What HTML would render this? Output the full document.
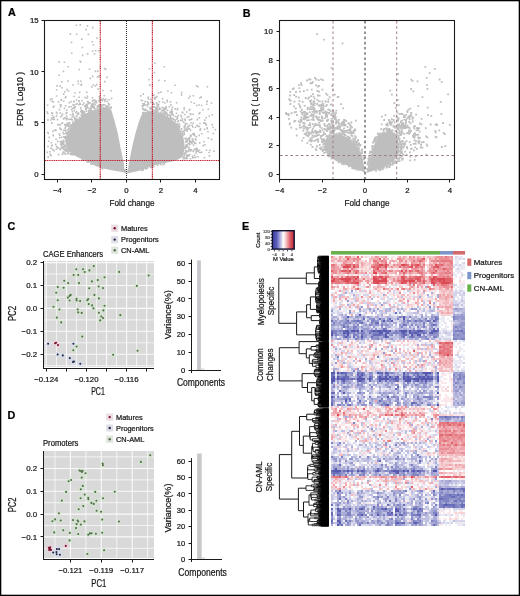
<!DOCTYPE html>
<html><head><meta charset="utf-8"><style>
html,body{margin:0;padding:0;background:#fff;overflow:hidden;}
svg{display:block;will-change:transform;}
text{font-family:"Liberation Sans",sans-serif;stroke-width:0.22px;}
</style></head><body>
<svg width="520" height="596" viewBox="0 0 520 596">
<rect x="0" y="0" width="520" height="596" fill="#fff"/>
<rect x="0.5" y="0.5" width="519" height="595" fill="none" stroke="#000" stroke-width="1.6"/>
<polygon points="126.0,173.5 123.6,172.2 113.2,170.5 104.6,168.7 95.9,166.2 87.3,161.0 82.0,159.2 73.4,154.9 68.2,150.6 65.6,143.7 66.5,136.7 70.0,128.0 76.0,121.0 83.0,115.0 90.7,111.0 99.4,108.5 105.0,107.5 109.0,108.0 111.3,110.0 114.8,121.7 117.8,133.5 120.1,145.2 122.4,157.0 123.8,163.0 124.2,168.8 126.0,169.0" fill="#bebebe"/>
<polygon points="127.0,173.5 127.6,169.0 128.2,168.8 128.9,162.8 130.1,157.0 132.5,145.2 135.4,133.5 138.9,121.7 141.5,115.0 145.0,112.0 149.0,111.0 156.0,111.5 163.0,114.0 170.0,118.0 176.0,123.0 180.0,129.0 183.5,138.0 185.0,148.0 182.5,157.0 176.0,160.4 165.0,163.0 152.7,166.0 139.2,170.8" fill="#bebebe"/>
<path d="M97.0 106.2h1.6v1.6h-1.6zM77.8 113.4h1.6v1.6h-1.6zM81.3 100.0h1.6v1.6h-1.6zM98.7 99.0h1.6v1.6h-1.6zM81.5 158.8h1.6v1.6h-1.6zM98.0 104.3h1.6v1.6h-1.6zM65.2 112.6h1.6v1.6h-1.6zM94.4 85.2h1.6v1.6h-1.6zM102.9 106.8h1.6v1.6h-1.6zM53.0 105.6h1.6v1.6h-1.6zM91.6 97.0h1.6v1.6h-1.6zM93.5 106.0h1.6v1.6h-1.6zM105.2 106.2h1.6v1.6h-1.6zM99.9 106.4h1.6v1.6h-1.6zM57.8 153.8h1.6v1.6h-1.6zM91.6 105.5h1.6v1.6h-1.6zM51.4 98.0h1.6v1.6h-1.6zM61.8 113.4h1.6v1.6h-1.6zM95.8 101.9h1.6v1.6h-1.6zM52.7 116.3h1.6v1.6h-1.6zM57.2 123.9h1.6v1.6h-1.6zM103.5 98.8h1.6v1.6h-1.6zM50.9 112.3h1.6v1.6h-1.6zM65.4 129.8h1.6v1.6h-1.6zM67.3 152.1h1.6v1.6h-1.6zM61.8 122.2h1.6v1.6h-1.6zM55.8 88.9h1.6v1.6h-1.6zM70.2 125.0h1.6v1.6h-1.6zM101.5 99.8h1.6v1.6h-1.6zM62.6 139.7h1.6v1.6h-1.6zM95.9 83.8h1.6v1.6h-1.6zM80.0 61.2h1.6v1.6h-1.6zM62.7 145.5h1.6v1.6h-1.6zM67.2 80.3h1.6v1.6h-1.6zM85.3 108.4h1.6v1.6h-1.6zM81.3 114.4h1.6v1.6h-1.6zM101.7 167.3h1.6v1.6h-1.6zM82.1 113.6h1.6v1.6h-1.6zM76.2 114.7h1.6v1.6h-1.6zM85.2 105.2h1.6v1.6h-1.6zM104.2 100.6h1.6v1.6h-1.6zM86.4 161.3h1.6v1.6h-1.6zM83.3 113.5h1.6v1.6h-1.6zM68.2 124.4h1.6v1.6h-1.6zM65.1 146.6h1.6v1.6h-1.6zM59.3 85.3h1.6v1.6h-1.6zM50.9 144.9h1.6v1.6h-1.6zM72.4 154.0h1.6v1.6h-1.6zM91.8 50.4h1.6v1.6h-1.6zM80.2 84.3h1.6v1.6h-1.6zM72.1 113.0h1.6v1.6h-1.6zM86.8 53.1h1.6v1.6h-1.6zM110.4 107.1h1.6v1.6h-1.6zM77.5 82.9h1.6v1.6h-1.6zM53.5 116.7h1.6v1.6h-1.6zM78.9 91.5h1.6v1.6h-1.6zM60.8 136.4h1.6v1.6h-1.6zM74.9 120.6h1.6v1.6h-1.6zM50.2 147.5h1.6v1.6h-1.6zM96.4 107.5h1.6v1.6h-1.6zM47.4 156.3h1.6v1.6h-1.6zM66.3 149.0h1.6v1.6h-1.6zM102.9 104.1h1.6v1.6h-1.6zM55.7 115.3h1.6v1.6h-1.6zM64.1 129.7h1.6v1.6h-1.6zM70.7 125.3h1.6v1.6h-1.6zM76.2 118.3h1.6v1.6h-1.6zM79.5 24.1h1.6v1.6h-1.6zM63.6 61.4h1.6v1.6h-1.6zM65.7 147.5h1.6v1.6h-1.6zM97.5 105.8h1.6v1.6h-1.6zM83.0 102.5h1.6v1.6h-1.6zM47.0 131.7h1.6v1.6h-1.6zM64.0 123.8h1.6v1.6h-1.6zM79.1 102.4h1.6v1.6h-1.6zM71.2 153.9h1.6v1.6h-1.6zM105.4 106.6h1.6v1.6h-1.6zM60.3 128.6h1.6v1.6h-1.6zM85.5 107.8h1.6v1.6h-1.6zM74.5 106.1h1.6v1.6h-1.6zM65.2 138.4h1.6v1.6h-1.6zM92.1 103.0h1.6v1.6h-1.6zM69.7 153.3h1.6v1.6h-1.6zM67.1 131.9h1.6v1.6h-1.6zM67.9 128.2h1.6v1.6h-1.6zM84.7 108.3h1.6v1.6h-1.6zM86.9 100.8h1.6v1.6h-1.6zM55.6 111.5h1.6v1.6h-1.6zM73.2 95.7h1.6v1.6h-1.6zM66.3 88.8h1.6v1.6h-1.6zM88.7 68.5h1.6v1.6h-1.6zM77.8 112.2h1.6v1.6h-1.6zM68.1 128.1h1.6v1.6h-1.6zM68.8 125.7h1.6v1.6h-1.6zM91.5 41.0h1.6v1.6h-1.6zM81.4 112.5h1.6v1.6h-1.6zM62.4 142.4h1.6v1.6h-1.6zM65.1 95.9h1.6v1.6h-1.6zM55.7 145.7h1.6v1.6h-1.6zM50.6 141.9h1.6v1.6h-1.6zM66.9 122.6h1.6v1.6h-1.6zM61.9 145.7h1.6v1.6h-1.6zM47.6 132.6h1.6v1.6h-1.6zM65.6 132.4h1.6v1.6h-1.6zM85.4 110.5h1.6v1.6h-1.6zM66.0 124.7h1.6v1.6h-1.6zM109.3 106.5h1.6v1.6h-1.6zM90.3 107.9h1.6v1.6h-1.6zM65.8 115.4h1.6v1.6h-1.6zM51.1 122.3h1.6v1.6h-1.6zM80.8 83.4h1.6v1.6h-1.6zM75.9 115.0h1.6v1.6h-1.6zM105.6 105.1h1.6v1.6h-1.6zM81.6 46.7h1.6v1.6h-1.6zM96.3 37.3h1.6v1.6h-1.6zM49.4 153.6h1.6v1.6h-1.6zM63.9 136.1h1.6v1.6h-1.6zM75.9 33.4h1.6v1.6h-1.6zM61.2 143.3h1.6v1.6h-1.6zM98.5 96.0h1.6v1.6h-1.6zM58.1 123.9h1.6v1.6h-1.6zM61.0 80.9h1.6v1.6h-1.6zM87.6 109.9h1.6v1.6h-1.6zM66.3 117.6h1.6v1.6h-1.6zM67.4 131.0h1.6v1.6h-1.6zM84.0 105.3h1.6v1.6h-1.6zM62.9 143.4h1.6v1.6h-1.6zM67.6 125.1h1.6v1.6h-1.6zM71.4 119.1h1.6v1.6h-1.6zM86.2 97.4h1.6v1.6h-1.6zM70.2 100.8h1.6v1.6h-1.6zM69.6 33.3h1.6v1.6h-1.6zM78.4 68.7h1.6v1.6h-1.6zM68.0 124.4h1.6v1.6h-1.6zM73.1 100.6h1.6v1.6h-1.6zM60.5 144.3h1.6v1.6h-1.6zM60.6 140.8h1.6v1.6h-1.6zM64.0 90.9h1.6v1.6h-1.6zM91.8 105.9h1.6v1.6h-1.6zM72.2 84.2h1.6v1.6h-1.6zM103.8 67.8h1.6v1.6h-1.6zM52.5 106.5h1.6v1.6h-1.6zM81.6 158.9h1.6v1.6h-1.6zM52.1 118.4h1.6v1.6h-1.6zM62.8 129.4h1.6v1.6h-1.6zM72.0 122.8h1.6v1.6h-1.6zM47.8 140.4h1.6v1.6h-1.6zM63.6 117.1h1.6v1.6h-1.6zM105.7 105.4h1.6v1.6h-1.6zM72.9 116.2h1.6v1.6h-1.6zM97.9 49.9h1.6v1.6h-1.6zM72.6 114.4h1.6v1.6h-1.6zM60.0 115.9h1.6v1.6h-1.6zM80.7 109.2h1.6v1.6h-1.6zM70.3 105.9h1.6v1.6h-1.6zM80.8 112.2h1.6v1.6h-1.6zM70.3 125.3h1.6v1.6h-1.6zM70.2 118.3h1.6v1.6h-1.6zM58.6 108.8h1.6v1.6h-1.6zM59.8 106.1h1.6v1.6h-1.6zM74.8 117.2h1.6v1.6h-1.6zM71.9 123.7h1.6v1.6h-1.6zM59.5 112.2h1.6v1.6h-1.6zM82.0 103.9h1.6v1.6h-1.6zM70.3 124.0h1.6v1.6h-1.6zM92.1 100.0h1.6v1.6h-1.6zM67.7 125.5h1.6v1.6h-1.6zM90.5 109.8h1.6v1.6h-1.6zM72.3 104.2h1.6v1.6h-1.6zM95.2 101.0h1.6v1.6h-1.6zM46.2 111.2h1.6v1.6h-1.6zM78.2 104.0h1.6v1.6h-1.6zM68.7 122.0h1.6v1.6h-1.6zM91.7 100.1h1.6v1.6h-1.6zM81.4 110.2h1.6v1.6h-1.6zM67.7 124.2h1.6v1.6h-1.6zM92.5 84.0h1.6v1.6h-1.6zM78.3 99.9h1.6v1.6h-1.6zM56.3 85.1h1.6v1.6h-1.6zM57.0 123.8h1.6v1.6h-1.6zM107.6 102.6h1.6v1.6h-1.6zM90.0 163.2h1.6v1.6h-1.6zM65.8 118.8h1.6v1.6h-1.6zM63.6 150.0h1.6v1.6h-1.6zM105.0 98.5h1.6v1.6h-1.6zM72.3 121.3h1.6v1.6h-1.6zM100.1 104.0h1.6v1.6h-1.6zM97.9 75.4h1.6v1.6h-1.6zM92.3 106.6h1.6v1.6h-1.6zM110.3 90.0h1.6v1.6h-1.6zM108.6 103.6h1.6v1.6h-1.6zM66.4 133.5h1.6v1.6h-1.6zM59.2 124.2h1.6v1.6h-1.6zM55.2 129.6h1.6v1.6h-1.6zM53.1 105.4h1.6v1.6h-1.6zM73.7 105.8h1.6v1.6h-1.6zM52.0 130.6h1.6v1.6h-1.6zM101.3 167.7h1.6v1.6h-1.6zM68.3 125.7h1.6v1.6h-1.6zM68.1 118.5h1.6v1.6h-1.6zM97.1 104.9h1.6v1.6h-1.6zM68.4 122.2h1.6v1.6h-1.6zM64.8 126.1h1.6v1.6h-1.6zM50.3 154.8h1.6v1.6h-1.6zM90.1 106.4h1.6v1.6h-1.6zM98.4 106.7h1.6v1.6h-1.6zM81.7 159.3h1.6v1.6h-1.6zM73.6 109.8h1.6v1.6h-1.6zM67.8 123.1h1.6v1.6h-1.6zM78.2 100.7h1.6v1.6h-1.6zM94.8 49.9h1.6v1.6h-1.6zM53.5 150.0h1.6v1.6h-1.6zM103.7 104.0h1.6v1.6h-1.6zM70.9 108.8h1.6v1.6h-1.6zM59.1 127.3h1.6v1.6h-1.6zM83.9 159.7h1.6v1.6h-1.6zM64.4 96.9h1.6v1.6h-1.6zM72.2 107.6h1.6v1.6h-1.6zM59.4 141.0h1.6v1.6h-1.6zM72.9 100.9h1.6v1.6h-1.6zM86.8 106.6h1.6v1.6h-1.6zM64.5 140.2h1.6v1.6h-1.6zM60.5 104.2h1.6v1.6h-1.6zM63.0 135.9h1.6v1.6h-1.6zM56.9 140.6h1.6v1.6h-1.6zM110.8 97.6h1.6v1.6h-1.6zM82.4 110.4h1.6v1.6h-1.6zM77.2 80.5h1.6v1.6h-1.6zM73.5 121.9h1.6v1.6h-1.6zM94.2 108.2h1.6v1.6h-1.6zM62.2 131.8h1.6v1.6h-1.6zM60.5 142.9h1.6v1.6h-1.6zM106.4 100.5h1.6v1.6h-1.6zM66.7 149.4h1.6v1.6h-1.6zM62.8 118.1h1.6v1.6h-1.6zM86.0 91.4h1.6v1.6h-1.6zM60.5 146.5h1.6v1.6h-1.6zM63.6 107.6h1.6v1.6h-1.6zM51.2 117.2h1.6v1.6h-1.6zM89.5 77.6h1.6v1.6h-1.6zM65.0 137.4h1.6v1.6h-1.6zM58.9 137.0h1.6v1.6h-1.6zM101.8 167.8h1.6v1.6h-1.6zM69.4 152.7h1.6v1.6h-1.6zM67.1 152.8h1.6v1.6h-1.6zM75.9 115.3h1.6v1.6h-1.6zM86.7 95.6h1.6v1.6h-1.6zM66.0 150.5h1.6v1.6h-1.6zM84.7 106.0h1.6v1.6h-1.6zM68.5 101.9h1.6v1.6h-1.6zM63.0 146.9h1.6v1.6h-1.6zM93.9 107.7h1.6v1.6h-1.6zM98.7 96.3h1.6v1.6h-1.6zM84.4 96.8h1.6v1.6h-1.6zM90.8 103.6h1.6v1.6h-1.6zM59.6 104.1h1.6v1.6h-1.6zM63.0 141.7h1.6v1.6h-1.6zM97.5 88.3h1.6v1.6h-1.6zM51.2 144.9h1.6v1.6h-1.6zM70.7 41.6h1.6v1.6h-1.6zM70.9 52.4h1.6v1.6h-1.6zM65.0 150.0h1.6v1.6h-1.6zM80.0 80.4h1.6v1.6h-1.6zM109.1 106.9h1.6v1.6h-1.6zM52.5 134.9h1.6v1.6h-1.6zM89.1 102.1h1.6v1.6h-1.6zM49.1 151.0h1.6v1.6h-1.6zM58.3 61.1h1.6v1.6h-1.6zM56.4 146.4h1.6v1.6h-1.6zM49.7 98.8h1.6v1.6h-1.6zM87.5 161.3h1.6v1.6h-1.6zM95.1 100.1h1.6v1.6h-1.6zM85.2 104.3h1.6v1.6h-1.6zM108.4 98.9h1.6v1.6h-1.6zM105.4 104.9h1.6v1.6h-1.6zM65.4 150.1h1.6v1.6h-1.6zM60.7 141.9h1.6v1.6h-1.6zM98.9 105.6h1.6v1.6h-1.6zM71.7 110.9h1.6v1.6h-1.6zM82.2 111.5h1.6v1.6h-1.6zM80.1 110.7h1.6v1.6h-1.6zM93.5 106.3h1.6v1.6h-1.6zM64.8 104.9h1.6v1.6h-1.6zM98.2 100.3h1.6v1.6h-1.6zM98.8 104.4h1.6v1.6h-1.6zM56.7 118.8h1.6v1.6h-1.6zM65.9 109.4h1.6v1.6h-1.6zM48.5 136.6h1.6v1.6h-1.6zM65.5 135.6h1.6v1.6h-1.6zM104.0 80.8h1.6v1.6h-1.6zM81.0 38.3h1.6v1.6h-1.6zM60.8 141.2h1.6v1.6h-1.6zM77.1 112.6h1.6v1.6h-1.6zM85.7 107.1h1.6v1.6h-1.6zM51.5 144.5h1.6v1.6h-1.6zM92.3 104.8h1.6v1.6h-1.6zM74.0 118.7h1.6v1.6h-1.6zM100.0 99.1h1.6v1.6h-1.6zM65.2 132.6h1.6v1.6h-1.6zM61.7 141.2h1.6v1.6h-1.6zM66.5 122.4h1.6v1.6h-1.6zM68.8 126.3h1.6v1.6h-1.6zM74.3 120.0h1.6v1.6h-1.6zM73.9 117.3h1.6v1.6h-1.6zM85.7 106.2h1.6v1.6h-1.6zM69.9 114.0h1.6v1.6h-1.6zM82.2 159.1h1.6v1.6h-1.6zM105.0 68.4h1.6v1.6h-1.6zM60.6 98.8h1.6v1.6h-1.6zM91.7 102.8h1.6v1.6h-1.6zM64.7 136.6h1.6v1.6h-1.6zM57.4 147.1h1.6v1.6h-1.6zM60.4 99.4h1.6v1.6h-1.6zM61.0 114.8h1.6v1.6h-1.6zM107.0 106.8h1.6v1.6h-1.6zM100.0 104.9h1.6v1.6h-1.6zM55.8 95.2h1.6v1.6h-1.6zM66.0 111.8h1.6v1.6h-1.6zM71.5 116.2h1.6v1.6h-1.6zM94.6 70.6h1.6v1.6h-1.6zM63.9 152.2h1.6v1.6h-1.6zM71.8 124.1h1.6v1.6h-1.6zM75.8 99.2h1.6v1.6h-1.6zM108.0 103.8h1.6v1.6h-1.6zM63.2 133.2h1.6v1.6h-1.6zM56.2 112.7h1.6v1.6h-1.6zM75.8 110.8h1.6v1.6h-1.6zM62.9 100.5h1.6v1.6h-1.6zM62.4 151.5h1.6v1.6h-1.6zM75.6 24.5h1.6v1.6h-1.6zM60.7 142.5h1.6v1.6h-1.6zM89.2 110.1h1.6v1.6h-1.6zM64.2 149.6h1.6v1.6h-1.6zM78.3 96.4h1.6v1.6h-1.6zM67.8 90.2h1.6v1.6h-1.6zM75.7 119.2h1.6v1.6h-1.6zM87.6 103.0h1.6v1.6h-1.6zM64.3 127.6h1.6v1.6h-1.6zM91.8 75.6h1.6v1.6h-1.6zM80.2 114.5h1.6v1.6h-1.6zM102.2 89.7h1.6v1.6h-1.6zM62.9 93.3h1.6v1.6h-1.6zM82.5 112.8h1.6v1.6h-1.6zM54.9 143.6h1.6v1.6h-1.6zM71.1 153.0h1.6v1.6h-1.6zM91.1 86.1h1.6v1.6h-1.6zM69.1 122.0h1.6v1.6h-1.6zM102.2 98.0h1.6v1.6h-1.6zM79.3 60.4h1.6v1.6h-1.6zM107.1 105.4h1.6v1.6h-1.6zM59.5 149.0h1.6v1.6h-1.6zM81.4 111.3h1.6v1.6h-1.6zM73.2 103.9h1.6v1.6h-1.6zM50.1 119.2h1.6v1.6h-1.6zM74.8 119.8h1.6v1.6h-1.6zM67.5 122.8h1.6v1.6h-1.6zM64.6 153.3h1.6v1.6h-1.6zM59.0 134.6h1.6v1.6h-1.6zM72.1 113.9h1.6v1.6h-1.6zM61.4 147.6h1.6v1.6h-1.6zM61.6 153.6h1.6v1.6h-1.6zM99.3 107.4h1.6v1.6h-1.6zM92.6 44.2h1.6v1.6h-1.6zM67.0 129.2h1.6v1.6h-1.6zM101.9 104.3h1.6v1.6h-1.6zM57.7 101.1h1.6v1.6h-1.6zM64.5 149.8h1.6v1.6h-1.6zM81.9 54.6h1.6v1.6h-1.6zM94.5 103.9h1.6v1.6h-1.6zM52.1 148.9h1.6v1.6h-1.6zM63.5 146.0h1.6v1.6h-1.6zM55.6 148.5h1.6v1.6h-1.6zM98.5 105.2h1.6v1.6h-1.6zM94.1 99.6h1.6v1.6h-1.6zM94.3 103.5h1.6v1.6h-1.6zM101.0 106.9h1.6v1.6h-1.6zM86.3 104.9h1.6v1.6h-1.6zM59.8 128.3h1.6v1.6h-1.6zM75.8 115.3h1.6v1.6h-1.6zM63.8 144.5h1.6v1.6h-1.6zM88.5 107.8h1.6v1.6h-1.6zM96.9 70.3h1.6v1.6h-1.6zM53.6 118.7h1.6v1.6h-1.6zM47.2 119.1h1.6v1.6h-1.6zM92.9 99.3h1.6v1.6h-1.6zM46.8 104.5h1.6v1.6h-1.6zM58.3 74.5h1.6v1.6h-1.6zM68.1 106.1h1.6v1.6h-1.6zM50.9 147.7h1.6v1.6h-1.6zM51.0 122.2h1.6v1.6h-1.6zM82.5 111.0h1.6v1.6h-1.6zM80.0 107.1h1.6v1.6h-1.6zM87.7 110.5h1.6v1.6h-1.6zM96.5 105.2h1.6v1.6h-1.6zM51.7 114.4h1.6v1.6h-1.6zM93.7 101.7h1.6v1.6h-1.6zM47.2 145.6h1.6v1.6h-1.6zM80.5 109.5h1.6v1.6h-1.6zM93.6 107.7h1.6v1.6h-1.6zM93.7 53.1h1.6v1.6h-1.6zM64.9 125.0h1.6v1.6h-1.6zM61.2 86.9h1.6v1.6h-1.6zM64.9 148.2h1.6v1.6h-1.6zM47.0 112.7h1.6v1.6h-1.6zM87.6 33.6h1.6v1.6h-1.6zM65.2 117.6h1.6v1.6h-1.6zM53.9 129.3h1.6v1.6h-1.6zM46.4 151.4h1.6v1.6h-1.6zM65.1 131.9h1.6v1.6h-1.6zM76.3 102.9h1.6v1.6h-1.6zM74.2 92.2h1.6v1.6h-1.6zM66.8 149.5h1.6v1.6h-1.6zM66.8 152.7h1.6v1.6h-1.6zM63.6 137.1h1.6v1.6h-1.6zM74.5 119.4h1.6v1.6h-1.6zM96.7 76.1h1.6v1.6h-1.6zM59.2 147.9h1.6v1.6h-1.6zM61.9 153.0h1.6v1.6h-1.6zM61.3 140.6h1.6v1.6h-1.6zM86.7 25.1h1.6v1.6h-1.6zM51.7 112.4h1.6v1.6h-1.6zM62.3 140.0h1.6v1.6h-1.6zM52.6 101.2h1.6v1.6h-1.6zM110.2 106.2h1.6v1.6h-1.6zM90.6 104.8h1.6v1.6h-1.6zM75.1 112.0h1.6v1.6h-1.6zM87.1 101.1h1.6v1.6h-1.6zM62.7 70.6h1.6v1.6h-1.6zM60.0 143.3h1.6v1.6h-1.6zM83.8 112.3h1.6v1.6h-1.6zM91.1 163.4h1.6v1.6h-1.6zM55.3 138.5h1.6v1.6h-1.6zM79.6 103.5h1.6v1.6h-1.6zM83.4 110.9h1.6v1.6h-1.6zM78.6 116.7h1.6v1.6h-1.6zM75.3 103.4h1.6v1.6h-1.6zM67.8 150.7h1.6v1.6h-1.6zM73.7 107.3h1.6v1.6h-1.6zM103.5 95.0h1.6v1.6h-1.6zM92.4 104.1h1.6v1.6h-1.6zM65.8 124.1h1.6v1.6h-1.6zM51.5 100.6h1.6v1.6h-1.6zM69.3 118.7h1.6v1.6h-1.6zM52.4 134.2h1.6v1.6h-1.6zM106.1 76.6h1.6v1.6h-1.6zM51.0 117.4h1.6v1.6h-1.6zM63.0 148.1h1.6v1.6h-1.6zM92.0 26.8h1.6v1.6h-1.6zM65.1 144.7h1.6v1.6h-1.6zM100.5 98.8h1.6v1.6h-1.6zM86.3 103.4h1.6v1.6h-1.6zM89.2 109.1h1.6v1.6h-1.6zM58.5 133.2h1.6v1.6h-1.6zM60.7 122.7h1.6v1.6h-1.6zM87.7 101.7h1.6v1.6h-1.6zM92.1 106.6h1.6v1.6h-1.6zM70.5 118.2h1.6v1.6h-1.6zM101.0 105.7h1.6v1.6h-1.6zM85.3 28.8h1.6v1.6h-1.6zM98.9 97.7h1.6v1.6h-1.6zM67.3 65.9h1.6v1.6h-1.6zM205.6 124.4h1.6v1.6h-1.6zM189.7 157.9h1.6v1.6h-1.6zM156.1 95.8h1.6v1.6h-1.6zM211.5 113.9h1.6v1.6h-1.6zM168.1 114.2h1.6v1.6h-1.6zM144.6 109.1h1.6v1.6h-1.6zM190.5 141.3h1.6v1.6h-1.6zM157.0 105.6h1.6v1.6h-1.6zM190.5 101.2h1.6v1.6h-1.6zM178.8 125.2h1.6v1.6h-1.6zM142.2 113.1h1.6v1.6h-1.6zM169.3 112.2h1.6v1.6h-1.6zM190.2 149.4h1.6v1.6h-1.6zM162.1 101.2h1.6v1.6h-1.6zM181.1 119.7h1.6v1.6h-1.6zM182.2 134.7h1.6v1.6h-1.6zM183.4 126.1h1.6v1.6h-1.6zM191.3 124.6h1.6v1.6h-1.6zM185.5 150.5h1.6v1.6h-1.6zM178.6 126.5h1.6v1.6h-1.6zM176.8 123.4h1.6v1.6h-1.6zM179.9 114.6h1.6v1.6h-1.6zM195.7 136.0h1.6v1.6h-1.6zM207.5 137.3h1.6v1.6h-1.6zM154.1 98.5h1.6v1.6h-1.6zM170.2 117.8h1.6v1.6h-1.6zM166.4 99.4h1.6v1.6h-1.6zM161.8 97.9h1.6v1.6h-1.6zM185.9 146.0h1.6v1.6h-1.6zM186.3 144.2h1.6v1.6h-1.6zM196.8 150.5h1.6v1.6h-1.6zM183.4 156.7h1.6v1.6h-1.6zM157.0 164.2h1.6v1.6h-1.6zM150.8 166.6h1.6v1.6h-1.6zM153.5 103.4h1.6v1.6h-1.6zM187.9 97.4h1.6v1.6h-1.6zM171.0 117.5h1.6v1.6h-1.6zM192.0 157.0h1.6v1.6h-1.6zM197.2 125.5h1.6v1.6h-1.6zM185.8 127.4h1.6v1.6h-1.6zM155.1 108.5h1.6v1.6h-1.6zM196.5 148.1h1.6v1.6h-1.6zM196.1 148.3h1.6v1.6h-1.6zM194.6 138.1h1.6v1.6h-1.6zM206.3 126.9h1.6v1.6h-1.6zM159.3 108.3h1.6v1.6h-1.6zM186.6 116.6h1.6v1.6h-1.6zM194.0 148.4h1.6v1.6h-1.6zM187.9 148.7h1.6v1.6h-1.6zM153.0 94.3h1.6v1.6h-1.6zM179.9 119.4h1.6v1.6h-1.6zM153.5 71.7h1.6v1.6h-1.6zM142.4 169.1h1.6v1.6h-1.6zM192.8 144.3h1.6v1.6h-1.6zM192.6 133.9h1.6v1.6h-1.6zM189.9 150.2h1.6v1.6h-1.6zM162.6 108.8h1.6v1.6h-1.6zM214.6 128.8h1.6v1.6h-1.6zM166.6 115.3h1.6v1.6h-1.6zM188.0 125.3h1.6v1.6h-1.6zM180.7 115.8h1.6v1.6h-1.6zM181.1 130.7h1.6v1.6h-1.6zM155.9 108.9h1.6v1.6h-1.6zM157.7 108.8h1.6v1.6h-1.6zM164.3 113.5h1.6v1.6h-1.6zM184.1 113.7h1.6v1.6h-1.6zM151.2 107.7h1.6v1.6h-1.6zM164.0 80.0h1.6v1.6h-1.6zM188.4 127.8h1.6v1.6h-1.6zM197.5 150.6h1.6v1.6h-1.6zM188.5 137.2h1.6v1.6h-1.6zM167.9 114.5h1.6v1.6h-1.6zM147.5 96.5h1.6v1.6h-1.6zM190.2 121.9h1.6v1.6h-1.6zM155.1 110.6h1.6v1.6h-1.6zM190.5 148.9h1.6v1.6h-1.6zM195.4 152.3h1.6v1.6h-1.6zM161.5 112.3h1.6v1.6h-1.6zM163.7 110.4h1.6v1.6h-1.6zM184.7 151.5h1.6v1.6h-1.6zM152.4 101.8h1.6v1.6h-1.6zM150.3 106.4h1.6v1.6h-1.6zM181.4 132.6h1.6v1.6h-1.6zM141.9 112.1h1.6v1.6h-1.6zM187.8 150.6h1.6v1.6h-1.6zM195.8 148.9h1.6v1.6h-1.6zM188.7 138.8h1.6v1.6h-1.6zM198.6 149.4h1.6v1.6h-1.6zM152.9 166.0h1.6v1.6h-1.6zM202.6 144.8h1.6v1.6h-1.6zM213.2 150.3h1.6v1.6h-1.6zM174.1 119.2h1.6v1.6h-1.6zM178.9 125.2h1.6v1.6h-1.6zM169.8 114.8h1.6v1.6h-1.6zM195.3 150.4h1.6v1.6h-1.6zM142.7 108.7h1.6v1.6h-1.6zM204.0 122.1h1.6v1.6h-1.6zM184.6 146.7h1.6v1.6h-1.6zM206.0 100.9h1.6v1.6h-1.6zM165.2 107.9h1.6v1.6h-1.6zM188.6 109.4h1.6v1.6h-1.6zM165.1 106.9h1.6v1.6h-1.6zM166.5 100.8h1.6v1.6h-1.6zM169.5 115.6h1.6v1.6h-1.6zM159.5 111.6h1.6v1.6h-1.6zM149.6 98.7h1.6v1.6h-1.6zM148.6 68.0h1.6v1.6h-1.6zM158.5 100.8h1.6v1.6h-1.6zM177.6 124.7h1.6v1.6h-1.6zM146.5 109.7h1.6v1.6h-1.6zM163.5 65.9h1.6v1.6h-1.6zM195.4 147.5h1.6v1.6h-1.6zM187.9 115.7h1.6v1.6h-1.6zM169.8 110.8h1.6v1.6h-1.6zM210.8 138.6h1.6v1.6h-1.6zM203.2 140.9h1.6v1.6h-1.6zM204.0 119.3h1.6v1.6h-1.6zM198.3 104.2h1.6v1.6h-1.6zM186.4 157.7h1.6v1.6h-1.6zM151.9 109.3h1.6v1.6h-1.6zM185.7 144.0h1.6v1.6h-1.6zM142.9 111.7h1.6v1.6h-1.6zM194.0 142.3h1.6v1.6h-1.6zM170.9 108.4h1.6v1.6h-1.6zM200.9 151.5h1.6v1.6h-1.6zM146.3 110.0h1.6v1.6h-1.6zM202.8 122.2h1.6v1.6h-1.6zM174.0 119.1h1.6v1.6h-1.6zM140.0 95.1h1.6v1.6h-1.6zM150.2 107.9h1.6v1.6h-1.6zM173.1 114.9h1.6v1.6h-1.6zM210.7 102.2h1.6v1.6h-1.6zM189.0 141.4h1.6v1.6h-1.6zM185.0 141.5h1.6v1.6h-1.6zM185.3 144.6h1.6v1.6h-1.6zM146.7 105.6h1.6v1.6h-1.6zM188.8 148.8h1.6v1.6h-1.6zM158.1 79.6h1.6v1.6h-1.6zM208.3 151.7h1.6v1.6h-1.6zM154.8 97.0h1.6v1.6h-1.6zM199.1 96.9h1.6v1.6h-1.6zM186.8 145.8h1.6v1.6h-1.6zM188.8 127.8h1.6v1.6h-1.6zM164.0 102.2h1.6v1.6h-1.6zM189.0 153.9h1.6v1.6h-1.6zM199.0 112.1h1.6v1.6h-1.6zM199.2 122.7h1.6v1.6h-1.6zM171.0 113.8h1.6v1.6h-1.6zM192.3 113.4h1.6v1.6h-1.6zM181.5 119.8h1.6v1.6h-1.6zM175.8 101.9h1.6v1.6h-1.6zM156.2 108.0h1.6v1.6h-1.6zM212.5 132.7h1.6v1.6h-1.6zM154.9 107.1h1.6v1.6h-1.6zM199.7 127.9h1.6v1.6h-1.6zM170.1 104.1h1.6v1.6h-1.6zM181.5 111.4h1.6v1.6h-1.6zM147.3 101.8h1.6v1.6h-1.6zM203.6 156.8h1.6v1.6h-1.6zM190.4 134.8h1.6v1.6h-1.6zM205.7 149.4h1.6v1.6h-1.6zM202.2 109.0h1.6v1.6h-1.6zM190.0 140.4h1.6v1.6h-1.6zM194.7 126.5h1.6v1.6h-1.6zM195.7 85.1h1.6v1.6h-1.6zM212.2 126.7h1.6v1.6h-1.6zM143.4 102.9h1.6v1.6h-1.6zM160.1 91.3h1.6v1.6h-1.6zM164.3 112.6h1.6v1.6h-1.6zM154.9 109.7h1.6v1.6h-1.6zM162.8 112.6h1.6v1.6h-1.6zM147.8 103.3h1.6v1.6h-1.6zM165.0 112.6h1.6v1.6h-1.6zM192.3 122.5h1.6v1.6h-1.6zM161.4 106.7h1.6v1.6h-1.6zM186.9 128.5h1.6v1.6h-1.6zM170.5 111.9h1.6v1.6h-1.6zM176.8 123.0h1.6v1.6h-1.6zM185.3 145.8h1.6v1.6h-1.6zM166.8 109.6h1.6v1.6h-1.6zM192.4 139.5h1.6v1.6h-1.6zM164.2 111.9h1.6v1.6h-1.6zM189.5 112.9h1.6v1.6h-1.6zM184.4 124.4h1.6v1.6h-1.6zM155.8 102.0h1.6v1.6h-1.6zM156.9 110.8h1.6v1.6h-1.6zM189.0 143.8h1.6v1.6h-1.6zM193.4 134.0h1.6v1.6h-1.6zM196.3 124.6h1.6v1.6h-1.6zM195.1 139.2h1.6v1.6h-1.6zM174.4 120.4h1.6v1.6h-1.6zM211.4 123.8h1.6v1.6h-1.6zM146.6 101.0h1.6v1.6h-1.6zM171.2 111.7h1.6v1.6h-1.6zM208.5 115.2h1.6v1.6h-1.6zM184.2 128.8h1.6v1.6h-1.6zM208.6 155.1h1.6v1.6h-1.6zM149.1 84.3h1.6v1.6h-1.6zM193.9 141.9h1.6v1.6h-1.6zM193.1 156.7h1.6v1.6h-1.6zM143.6 109.3h1.6v1.6h-1.6zM192.2 133.1h1.6v1.6h-1.6zM183.9 153.6h1.6v1.6h-1.6zM188.7 119.1h1.6v1.6h-1.6zM141.4 105.0h1.6v1.6h-1.6zM195.0 142.7h1.6v1.6h-1.6zM154.2 96.6h1.6v1.6h-1.6zM166.5 113.9h1.6v1.6h-1.6zM141.6 99.9h1.6v1.6h-1.6zM178.6 123.2h1.6v1.6h-1.6zM189.7 136.0h1.6v1.6h-1.6zM172.4 118.5h1.6v1.6h-1.6zM180.9 91.8h1.6v1.6h-1.6zM194.2 134.9h1.6v1.6h-1.6zM147.5 98.0h1.6v1.6h-1.6zM142.4 108.3h1.6v1.6h-1.6zM187.5 138.1h1.6v1.6h-1.6zM209.0 149.5h1.6v1.6h-1.6zM183.9 129.6h1.6v1.6h-1.6zM184.7 137.4h1.6v1.6h-1.6zM171.4 111.1h1.6v1.6h-1.6zM184.3 137.9h1.6v1.6h-1.6zM206.0 103.5h1.6v1.6h-1.6zM163.5 109.6h1.6v1.6h-1.6zM197.3 155.9h1.6v1.6h-1.6zM146.3 103.7h1.6v1.6h-1.6zM184.6 122.8h1.6v1.6h-1.6zM187.5 142.8h1.6v1.6h-1.6zM184.1 125.9h1.6v1.6h-1.6zM188.0 155.0h1.6v1.6h-1.6zM141.8 107.4h1.6v1.6h-1.6zM175.6 112.5h1.6v1.6h-1.6zM180.6 128.5h1.6v1.6h-1.6zM171.7 106.5h1.6v1.6h-1.6zM185.0 149.7h1.6v1.6h-1.6zM149.9 166.6h1.6v1.6h-1.6zM186.5 140.6h1.6v1.6h-1.6zM169.6 117.1h1.6v1.6h-1.6zM193.4 132.8h1.6v1.6h-1.6zM141.1 169.7h1.6v1.6h-1.6zM186.0 155.3h1.6v1.6h-1.6zM184.2 157.8h1.6v1.6h-1.6zM192.8 140.9h1.6v1.6h-1.6zM181.8 133.0h1.6v1.6h-1.6zM150.1 101.6h1.6v1.6h-1.6zM187.0 155.5h1.6v1.6h-1.6zM189.7 134.6h1.6v1.6h-1.6zM186.6 139.3h1.6v1.6h-1.6zM198.6 125.7h1.6v1.6h-1.6zM142.4 93.3h1.6v1.6h-1.6zM146.5 167.4h1.6v1.6h-1.6zM177.5 125.0h1.6v1.6h-1.6zM153.6 97.0h1.6v1.6h-1.6zM184.1 118.6h1.6v1.6h-1.6zM157.8 103.6h1.6v1.6h-1.6zM182.9 121.3h1.6v1.6h-1.6zM205.5 117.0h1.6v1.6h-1.6zM192.5 95.0h1.6v1.6h-1.6zM185.7 128.4h1.6v1.6h-1.6zM142.8 104.2h1.6v1.6h-1.6zM176.5 109.0h1.6v1.6h-1.6zM191.6 155.5h1.6v1.6h-1.6zM198.6 116.9h1.6v1.6h-1.6zM195.9 104.7h1.6v1.6h-1.6zM198.2 112.9h1.6v1.6h-1.6zM144.6 108.3h1.6v1.6h-1.6zM193.5 102.5h1.6v1.6h-1.6zM184.9 147.5h1.6v1.6h-1.6zM157.7 104.6h1.6v1.6h-1.6zM188.6 137.0h1.6v1.6h-1.6zM153.3 109.6h1.6v1.6h-1.6zM189.2 95.6h1.6v1.6h-1.6zM186.8 126.1h1.6v1.6h-1.6zM191.6 138.1h1.6v1.6h-1.6zM184.8 146.2h1.6v1.6h-1.6zM194.8 156.6h1.6v1.6h-1.6zM196.6 118.6h1.6v1.6h-1.6zM175.1 115.9h1.6v1.6h-1.6zM174.3 108.1h1.6v1.6h-1.6zM176.2 118.3h1.6v1.6h-1.6zM144.5 104.3h1.6v1.6h-1.6zM171.2 110.2h1.6v1.6h-1.6zM152.2 103.6h1.6v1.6h-1.6zM167.1 90.2h1.6v1.6h-1.6zM150.3 98.6h1.6v1.6h-1.6zM163.7 162.8h1.6v1.6h-1.6zM204.1 143.9h1.6v1.6h-1.6zM192.9 149.5h1.6v1.6h-1.6zM190.1 113.6h1.6v1.6h-1.6zM169.7 101.1h1.6v1.6h-1.6zM186.4 130.5h1.6v1.6h-1.6zM187.4 154.3h1.6v1.6h-1.6zM183.3 106.9h1.6v1.6h-1.6zM202.9 122.5h1.6v1.6h-1.6zM187.1 138.2h1.6v1.6h-1.6zM157.9 92.1h1.6v1.6h-1.6zM184.0 152.4h1.6v1.6h-1.6zM160.1 163.9h1.6v1.6h-1.6zM170.7 92.0h1.6v1.6h-1.6zM196.6 119.0h1.6v1.6h-1.6zM197.4 125.6h1.6v1.6h-1.6zM144.3 100.8h1.6v1.6h-1.6zM154.2 62.4h1.6v1.6h-1.6zM169.4 115.6h1.6v1.6h-1.6zM186.0 111.2h1.6v1.6h-1.6zM198.8 151.7h1.6v1.6h-1.6zM180.8 128.0h1.6v1.6h-1.6zM183.5 126.8h1.6v1.6h-1.6zM186.3 123.0h1.6v1.6h-1.6zM198.4 134.6h1.6v1.6h-1.6zM163.1 107.2h1.6v1.6h-1.6zM198.9 142.1h1.6v1.6h-1.6zM168.5 105.9h1.6v1.6h-1.6zM192.0 126.2h1.6v1.6h-1.6zM169.7 116.8h1.6v1.6h-1.6zM189.0 108.7h1.6v1.6h-1.6zM180.8 128.4h1.6v1.6h-1.6zM185.6 139.7h1.6v1.6h-1.6zM176.7 107.7h1.6v1.6h-1.6zM180.8 94.1h1.6v1.6h-1.6zM156.3 103.6h1.6v1.6h-1.6zM186.0 154.4h1.6v1.6h-1.6zM188.8 142.3h1.6v1.6h-1.6zM172.0 113.6h1.6v1.6h-1.6zM151.9 106.3h1.6v1.6h-1.6zM164.4 110.9h1.6v1.6h-1.6zM185.4 137.7h1.6v1.6h-1.6zM184.5 119.5h1.6v1.6h-1.6zM144.6 109.3h1.6v1.6h-1.6zM188.3 146.8h1.6v1.6h-1.6zM155.5 106.6h1.6v1.6h-1.6zM185.2 152.1h1.6v1.6h-1.6zM176.7 120.9h1.6v1.6h-1.6zM182.8 130.6h1.6v1.6h-1.6zM182.7 153.5h1.6v1.6h-1.6zM199.3 129.3h1.6v1.6h-1.6zM192.4 150.6h1.6v1.6h-1.6zM163.4 110.6h1.6v1.6h-1.6zM177.3 114.8h1.6v1.6h-1.6zM206.4 127.9h1.6v1.6h-1.6zM156.4 106.2h1.6v1.6h-1.6zM177.7 120.1h1.6v1.6h-1.6zM207.2 131.0h1.6v1.6h-1.6zM156.4 110.3h1.6v1.6h-1.6zM190.9 118.3h1.6v1.6h-1.6zM206.4 100.2h1.6v1.6h-1.6zM183.7 125.8h1.6v1.6h-1.6zM194.1 148.5h1.6v1.6h-1.6zM166.1 112.5h1.6v1.6h-1.6zM183.6 130.0h1.6v1.6h-1.6zM164.8 108.3h1.6v1.6h-1.6zM171.3 112.4h1.6v1.6h-1.6zM165.3 111.7h1.6v1.6h-1.6zM184.2 157.6h1.6v1.6h-1.6zM185.3 157.6h1.6v1.6h-1.6zM200.0 151.7h1.6v1.6h-1.6zM200.9 104.7h1.6v1.6h-1.6zM193.7 154.4h1.6v1.6h-1.6zM172.4 118.0h1.6v1.6h-1.6zM165.4 105.9h1.6v1.6h-1.6zM142.1 105.3h1.6v1.6h-1.6zM181.9 111.8h1.6v1.6h-1.6zM185.9 129.1h1.6v1.6h-1.6zM161.4 110.2h1.6v1.6h-1.6zM163.9 107.4h1.6v1.6h-1.6zM192.1 140.8h1.6v1.6h-1.6zM174.3 84.4h1.6v1.6h-1.6zM197.3 85.9h1.6v1.6h-1.6zM185.9 155.8h1.6v1.6h-1.6zM191.2 142.6h1.6v1.6h-1.6zM162.6 163.8h1.6v1.6h-1.6zM158.7 107.1h1.6v1.6h-1.6zM189.7 129.4h1.6v1.6h-1.6zM140.6 99.5h1.6v1.6h-1.6zM188.8 124.5h1.6v1.6h-1.6zM164.7 113.7h1.6v1.6h-1.6zM148.1 79.0h1.6v1.6h-1.6zM183.5 108.7h1.6v1.6h-1.6zM183.7 154.6h1.6v1.6h-1.6zM161.1 109.5h1.6v1.6h-1.6zM207.5 108.4h1.6v1.6h-1.6zM182.9 156.0h1.6v1.6h-1.6zM153.4 106.1h1.6v1.6h-1.6zM181.6 117.9h1.6v1.6h-1.6zM189.6 119.0h1.6v1.6h-1.6zM205.0 123.1h1.6v1.6h-1.6zM206.6 85.9h1.6v1.6h-1.6zM149.7 108.8h1.6v1.6h-1.6zM183.6 133.6h1.6v1.6h-1.6zM192.9 149.3h1.6v1.6h-1.6zM200.9 133.0h1.6v1.6h-1.6zM156.9 110.9h1.6v1.6h-1.6zM188.7 140.0h1.6v1.6h-1.6zM144.9 168.1h1.6v1.6h-1.6zM184.9 141.1h1.6v1.6h-1.6zM148.9 107.2h1.6v1.6h-1.6zM176.7 116.8h1.6v1.6h-1.6zM200.4 96.3h1.6v1.6h-1.6zM186.8 150.6h1.6v1.6h-1.6zM182.3 157.8h1.6v1.6h-1.6zM185.5 146.2h1.6v1.6h-1.6zM142.1 103.0h1.6v1.6h-1.6zM183.5 132.3h1.6v1.6h-1.6zM203.7 128.4h1.6v1.6h-1.6zM156.5 105.9h1.6v1.6h-1.6z" fill="#bebebe"/>
<line x1="100.3" y1="21" x2="100.3" y2="179" stroke="#c02030" stroke-width="1.2" stroke-dasharray="1.2 0.6"/>
<line x1="152.4" y1="21" x2="152.4" y2="179" stroke="#c02030" stroke-width="1.2" stroke-dasharray="1.2 0.6"/>
<line x1="45" y1="160.5" x2="219" y2="160.5" stroke="#c02030" stroke-width="1.2" stroke-dasharray="1.2 0.6"/>
<line x1="126.5" y1="21" x2="126.5" y2="179" stroke="#333" stroke-width="1" stroke-dasharray="1 1"/>
<rect x="44.5" y="20.5" width="175" height="159" fill="none" stroke="#1a1a1a" stroke-width="1.1"/>
<line x1="57.50" y1="179.50" x2="57.50" y2="182.50" stroke="#1a1a1a" stroke-width="1"/>
<text x="57.40" y="192.80" font-size="7.8" text-anchor="middle" fill="#161616" stroke="#161616">−4</text>
<line x1="91.50" y1="179.50" x2="91.50" y2="182.50" stroke="#1a1a1a" stroke-width="1"/>
<text x="91.90" y="192.80" font-size="7.8" text-anchor="middle" fill="#161616" stroke="#161616">−2</text>
<line x1="126.50" y1="179.50" x2="126.50" y2="182.50" stroke="#1a1a1a" stroke-width="1"/>
<text x="126.40" y="192.80" font-size="7.8" text-anchor="middle" fill="#161616" stroke="#161616">0</text>
<line x1="160.50" y1="179.50" x2="160.50" y2="182.50" stroke="#1a1a1a" stroke-width="1"/>
<text x="160.90" y="192.80" font-size="7.8" text-anchor="middle" fill="#161616" stroke="#161616">2</text>
<line x1="195.50" y1="179.50" x2="195.50" y2="182.50" stroke="#1a1a1a" stroke-width="1"/>
<text x="195.40" y="192.80" font-size="7.8" text-anchor="middle" fill="#161616" stroke="#161616">4</text>
<line x1="44.50" y1="174.50" x2="41.50" y2="174.50" stroke="#1a1a1a" stroke-width="1"/>
<text x="38.60" y="177.00" font-size="7.8" text-anchor="end" fill="#161616" stroke="#161616">0</text>
<line x1="44.50" y1="122.50" x2="41.50" y2="122.50" stroke="#1a1a1a" stroke-width="1"/>
<text x="38.60" y="125.75" font-size="7.8" text-anchor="end" fill="#161616" stroke="#161616">5</text>
<line x1="44.50" y1="71.50" x2="41.50" y2="71.50" stroke="#1a1a1a" stroke-width="1"/>
<text x="38.60" y="74.50" font-size="7.8" text-anchor="end" fill="#161616" stroke="#161616">10</text>
<line x1="44.50" y1="20.50" x2="41.50" y2="20.50" stroke="#1a1a1a" stroke-width="1"/>
<text x="38.60" y="23.25" font-size="7.8" text-anchor="end" fill="#161616" stroke="#161616">15</text>
<text x="132.00" y="205.80" font-size="9.6" text-anchor="middle" fill="#161616" stroke="#161616" textLength="45.00" lengthAdjust="spacingAndGlyphs">Fold change</text>
<text x="23.40" y="99.00" font-size="8.7" text-anchor="middle" fill="#161616" stroke="#161616" textLength="54.00" lengthAdjust="spacingAndGlyphs" transform="rotate(-90 23.40 99.00)">FDR ( Log10 )</text>
<text x="8.00" y="16.30" font-size="10.8" text-anchor="start" fill="#000" stroke="#000" font-weight="bold">A</text>
<polygon points="365.0,173.0 362.1,171.3 353.4,167.9 344.8,164.4 336.1,161.0 330.9,157.5 327.5,154.0 324.0,148.8 325.0,143.0 329.0,137.5 335.0,134.0 342.0,135.0 348.2,138.0 353.4,142.5 357.7,147.0 361.2,153.0 362.9,159.2 364.1,166.2" fill="#bebebe"/>
<polygon points="365.5,173.0 366.9,171.3 368.7,162.7 371.2,154.0 373.8,146.0 376.4,140.0 379.0,136.0 382.5,133.5 386.0,132.0 391.0,131.5 395.0,133.0 397.5,138.0 399.0,144.0 399.5,150.0 398.1,155.8 393.7,161.0 386.0,166.2 377.3,169.6 368.7,172.2" fill="#bebebe"/>
<path d="M317.0 94.6h1.8v1.8h-1.8zM318.8 104.2h1.8v1.8h-1.8zM346.7 126.2h1.8v1.8h-1.8zM324.1 117.2h1.8v1.8h-1.8zM321.9 119.4h1.8v1.8h-1.8zM320.6 146.6h1.8v1.8h-1.8zM361.1 151.3h1.8v1.8h-1.8zM309.1 122.3h1.8v1.8h-1.8zM322.0 79.2h1.8v1.8h-1.8zM310.2 114.9h1.8v1.8h-1.8zM333.7 114.6h1.8v1.8h-1.8zM315.0 110.4h1.8v1.8h-1.8zM332.9 111.9h1.8v1.8h-1.8zM320.0 120.3h1.8v1.8h-1.8zM356.0 140.7h1.8v1.8h-1.8zM317.6 133.8h1.8v1.8h-1.8zM357.2 139.1h1.8v1.8h-1.8zM329.0 127.7h1.8v1.8h-1.8zM303.6 114.0h1.8v1.8h-1.8zM304.8 97.0h1.8v1.8h-1.8zM335.3 109.7h1.8v1.8h-1.8zM353.7 128.8h1.8v1.8h-1.8zM355.1 136.6h1.8v1.8h-1.8zM332.2 121.5h1.8v1.8h-1.8zM347.4 122.7h1.8v1.8h-1.8zM316.5 99.0h1.8v1.8h-1.8zM327.6 98.6h1.8v1.8h-1.8zM329.3 124.2h1.8v1.8h-1.8zM315.9 145.6h1.8v1.8h-1.8zM318.7 94.8h1.8v1.8h-1.8zM302.3 125.4h1.8v1.8h-1.8zM290.3 126.7h1.8v1.8h-1.8zM321.1 117.4h1.8v1.8h-1.8zM331.3 85.1h1.8v1.8h-1.8zM334.7 116.0h1.8v1.8h-1.8zM305.6 113.2h1.8v1.8h-1.8zM300.7 120.5h1.8v1.8h-1.8zM353.5 167.8h1.8v1.8h-1.8zM311.3 139.6h1.8v1.8h-1.8zM320.2 108.9h1.8v1.8h-1.8zM303.7 133.0h1.8v1.8h-1.8zM288.3 98.2h1.8v1.8h-1.8zM332.9 116.7h1.8v1.8h-1.8zM325.9 103.9h1.8v1.8h-1.8zM337.9 133.3h1.8v1.8h-1.8zM317.4 139.7h1.8v1.8h-1.8zM314.5 123.0h1.8v1.8h-1.8zM334.0 93.7h1.8v1.8h-1.8zM322.3 143.3h1.8v1.8h-1.8zM320.0 148.4h1.8v1.8h-1.8zM336.4 128.1h1.8v1.8h-1.8zM303.0 90.3h1.8v1.8h-1.8zM343.3 129.9h1.8v1.8h-1.8zM323.4 122.9h1.8v1.8h-1.8zM351.1 126.5h1.8v1.8h-1.8zM308.0 119.3h1.8v1.8h-1.8zM313.5 135.3h1.8v1.8h-1.8zM321.1 141.2h1.8v1.8h-1.8zM316.0 116.9h1.8v1.8h-1.8zM308.3 96.5h1.8v1.8h-1.8zM354.0 128.5h1.8v1.8h-1.8zM306.6 127.0h1.8v1.8h-1.8zM359.6 143.9h1.8v1.8h-1.8zM318.1 100.5h1.8v1.8h-1.8zM303.9 122.8h1.8v1.8h-1.8zM315.4 78.6h1.8v1.8h-1.8zM322.9 131.4h1.8v1.8h-1.8zM352.4 139.7h1.8v1.8h-1.8zM341.8 121.3h1.8v1.8h-1.8zM285.2 111.9h1.8v1.8h-1.8zM354.1 138.3h1.8v1.8h-1.8zM317.8 79.2h1.8v1.8h-1.8zM347.4 135.7h1.8v1.8h-1.8zM324.5 140.9h1.8v1.8h-1.8zM318.3 90.8h1.8v1.8h-1.8zM316.3 102.8h1.8v1.8h-1.8zM309.4 124.2h1.8v1.8h-1.8zM344.0 119.4h1.8v1.8h-1.8zM319.8 136.9h1.8v1.8h-1.8zM330.4 114.1h1.8v1.8h-1.8zM319.6 104.2h1.8v1.8h-1.8zM337.9 161.4h1.8v1.8h-1.8zM357.3 145.0h1.8v1.8h-1.8zM327.2 119.0h1.8v1.8h-1.8zM312.4 118.0h1.8v1.8h-1.8zM333.0 130.8h1.8v1.8h-1.8zM344.8 134.8h1.8v1.8h-1.8zM302.9 121.9h1.8v1.8h-1.8zM317.0 85.8h1.8v1.8h-1.8zM308.2 78.6h1.8v1.8h-1.8zM326.6 126.3h1.8v1.8h-1.8zM328.6 109.0h1.8v1.8h-1.8zM331.3 131.4h1.8v1.8h-1.8zM346.5 129.5h1.8v1.8h-1.8zM320.8 138.4h1.8v1.8h-1.8zM307.8 124.3h1.8v1.8h-1.8zM336.7 96.3h1.8v1.8h-1.8zM315.8 115.6h1.8v1.8h-1.8zM303.9 115.7h1.8v1.8h-1.8zM310.8 118.8h1.8v1.8h-1.8zM311.8 103.8h1.8v1.8h-1.8zM320.9 103.4h1.8v1.8h-1.8zM300.2 119.6h1.8v1.8h-1.8zM349.3 128.4h1.8v1.8h-1.8zM309.9 101.7h1.8v1.8h-1.8zM330.6 157.6h1.8v1.8h-1.8zM316.0 110.3h1.8v1.8h-1.8zM333.2 115.1h1.8v1.8h-1.8zM312.5 101.6h1.8v1.8h-1.8zM343.9 124.5h1.8v1.8h-1.8zM307.8 134.3h1.8v1.8h-1.8zM345.4 120.2h1.8v1.8h-1.8zM360.9 152.2h1.8v1.8h-1.8zM348.0 122.3h1.8v1.8h-1.8zM303.1 127.8h1.8v1.8h-1.8zM336.4 125.7h1.8v1.8h-1.8zM327.6 155.0h1.8v1.8h-1.8zM295.8 134.6h1.8v1.8h-1.8zM308.4 131.7h1.8v1.8h-1.8zM333.9 117.6h1.8v1.8h-1.8zM320.2 78.5h1.8v1.8h-1.8zM333.2 133.1h1.8v1.8h-1.8zM320.8 115.6h1.8v1.8h-1.8zM317.8 121.8h1.8v1.8h-1.8zM324.0 141.3h1.8v1.8h-1.8zM343.9 119.2h1.8v1.8h-1.8zM356.9 144.5h1.8v1.8h-1.8zM349.9 139.2h1.8v1.8h-1.8zM305.5 127.8h1.8v1.8h-1.8zM315.8 132.6h1.8v1.8h-1.8zM330.7 103.5h1.8v1.8h-1.8zM319.0 119.1h1.8v1.8h-1.8zM324.7 113.4h1.8v1.8h-1.8zM329.8 103.7h1.8v1.8h-1.8zM341.1 131.2h1.8v1.8h-1.8zM330.4 126.1h1.8v1.8h-1.8zM326.2 114.3h1.8v1.8h-1.8zM362.2 154.7h1.8v1.8h-1.8zM349.8 125.4h1.8v1.8h-1.8zM338.2 125.7h1.8v1.8h-1.8zM331.6 132.5h1.8v1.8h-1.8zM326.3 111.6h1.8v1.8h-1.8zM312.8 119.3h1.8v1.8h-1.8zM321.3 109.0h1.8v1.8h-1.8zM344.3 124.7h1.8v1.8h-1.8zM314.1 77.1h1.8v1.8h-1.8zM320.4 105.2h1.8v1.8h-1.8zM318.4 110.1h1.8v1.8h-1.8zM301.8 101.0h1.8v1.8h-1.8zM358.1 147.7h1.8v1.8h-1.8zM293.6 100.8h1.8v1.8h-1.8zM331.0 127.5h1.8v1.8h-1.8zM297.9 103.2h1.8v1.8h-1.8zM307.5 127.5h1.8v1.8h-1.8zM341.6 42.4h1.8v1.8h-1.8zM303.8 104.9h1.8v1.8h-1.8zM325.0 114.9h1.8v1.8h-1.8zM307.5 116.4h1.8v1.8h-1.8zM310.2 108.5h1.8v1.8h-1.8zM348.4 129.6h1.8v1.8h-1.8zM353.6 141.5h1.8v1.8h-1.8zM346.9 135.8h1.8v1.8h-1.8zM355.1 143.1h1.8v1.8h-1.8zM310.2 95.3h1.8v1.8h-1.8zM356.3 143.6h1.8v1.8h-1.8zM320.6 135.1h1.8v1.8h-1.8zM325.3 112.8h1.8v1.8h-1.8zM354.3 142.6h1.8v1.8h-1.8zM352.3 131.6h1.8v1.8h-1.8zM362.7 157.2h1.8v1.8h-1.8zM289.0 122.5h1.8v1.8h-1.8zM300.6 84.1h1.8v1.8h-1.8zM350.8 132.3h1.8v1.8h-1.8zM288.8 99.5h1.8v1.8h-1.8zM332.6 126.0h1.8v1.8h-1.8zM347.5 132.2h1.8v1.8h-1.8zM300.4 126.7h1.8v1.8h-1.8zM328.0 112.1h1.8v1.8h-1.8zM349.6 127.5h1.8v1.8h-1.8zM324.7 101.0h1.8v1.8h-1.8zM323.3 152.0h1.8v1.8h-1.8zM317.4 131.1h1.8v1.8h-1.8zM322.8 105.2h1.8v1.8h-1.8zM335.2 122.6h1.8v1.8h-1.8zM326.4 120.3h1.8v1.8h-1.8zM354.3 140.2h1.8v1.8h-1.8zM321.5 116.4h1.8v1.8h-1.8zM339.2 133.1h1.8v1.8h-1.8zM322.7 145.6h1.8v1.8h-1.8zM338.3 124.2h1.8v1.8h-1.8zM349.7 125.0h1.8v1.8h-1.8zM328.3 112.7h1.8v1.8h-1.8zM290.7 112.3h1.8v1.8h-1.8zM313.5 135.6h1.8v1.8h-1.8zM341.5 129.3h1.8v1.8h-1.8zM304.9 97.2h1.8v1.8h-1.8zM341.2 163.0h1.8v1.8h-1.8zM304.7 117.2h1.8v1.8h-1.8zM333.8 127.2h1.8v1.8h-1.8zM339.5 129.0h1.8v1.8h-1.8zM327.3 154.3h1.8v1.8h-1.8zM308.9 108.2h1.8v1.8h-1.8zM333.9 129.2h1.8v1.8h-1.8zM327.3 108.8h1.8v1.8h-1.8zM330.6 117.9h1.8v1.8h-1.8zM339.4 133.5h1.8v1.8h-1.8zM296.0 114.1h1.8v1.8h-1.8zM327.1 153.9h1.8v1.8h-1.8zM312.6 114.9h1.8v1.8h-1.8zM359.3 144.6h1.8v1.8h-1.8zM329.7 110.4h1.8v1.8h-1.8zM310.8 113.2h1.8v1.8h-1.8zM321.2 117.4h1.8v1.8h-1.8zM338.8 127.6h1.8v1.8h-1.8zM303.8 111.6h1.8v1.8h-1.8zM343.1 127.4h1.8v1.8h-1.8zM320.8 135.2h1.8v1.8h-1.8zM335.3 121.5h1.8v1.8h-1.8zM341.0 122.1h1.8v1.8h-1.8zM317.4 118.9h1.8v1.8h-1.8zM316.0 111.8h1.8v1.8h-1.8zM343.0 120.3h1.8v1.8h-1.8zM355.5 168.7h1.8v1.8h-1.8zM321.4 139.5h1.8v1.8h-1.8zM306.4 129.2h1.8v1.8h-1.8zM340.1 103.2h1.8v1.8h-1.8zM306.1 119.4h1.8v1.8h-1.8zM331.1 130.7h1.8v1.8h-1.8zM299.8 110.8h1.8v1.8h-1.8zM343.4 132.1h1.8v1.8h-1.8zM328.7 127.9h1.8v1.8h-1.8zM338.1 118.9h1.8v1.8h-1.8zM299.5 106.7h1.8v1.8h-1.8zM311.6 134.6h1.8v1.8h-1.8zM314.5 132.0h1.8v1.8h-1.8zM323.6 149.2h1.8v1.8h-1.8zM335.5 119.6h1.8v1.8h-1.8zM356.5 140.6h1.8v1.8h-1.8zM334.0 118.3h1.8v1.8h-1.8zM339.3 126.0h1.8v1.8h-1.8zM316.3 33.3h1.8v1.8h-1.8zM330.7 122.1h1.8v1.8h-1.8zM311.5 136.7h1.8v1.8h-1.8zM310.4 103.1h1.8v1.8h-1.8zM351.7 167.3h1.8v1.8h-1.8zM323.5 148.8h1.8v1.8h-1.8zM331.9 129.5h1.8v1.8h-1.8zM306.9 106.8h1.8v1.8h-1.8zM318.8 111.6h1.8v1.8h-1.8zM329.2 126.6h1.8v1.8h-1.8zM349.4 129.4h1.8v1.8h-1.8zM320.8 127.2h1.8v1.8h-1.8zM350.5 121.6h1.8v1.8h-1.8zM331.5 123.4h1.8v1.8h-1.8zM329.8 132.2h1.8v1.8h-1.8zM311.6 146.1h1.8v1.8h-1.8zM306.5 141.9h1.8v1.8h-1.8zM297.9 84.2h1.8v1.8h-1.8zM338.5 132.3h1.8v1.8h-1.8zM326.8 124.2h1.8v1.8h-1.8zM323.5 142.9h1.8v1.8h-1.8zM332.5 111.0h1.8v1.8h-1.8zM319.0 124.2h1.8v1.8h-1.8zM292.9 87.4h1.8v1.8h-1.8zM323.3 138.3h1.8v1.8h-1.8zM288.1 118.0h1.8v1.8h-1.8zM305.1 132.8h1.8v1.8h-1.8zM348.8 131.7h1.8v1.8h-1.8zM316.3 103.5h1.8v1.8h-1.8zM361.2 148.5h1.8v1.8h-1.8zM321.5 88.8h1.8v1.8h-1.8zM336.2 127.3h1.8v1.8h-1.8zM342.3 107.5h1.8v1.8h-1.8zM327.6 127.1h1.8v1.8h-1.8zM326.4 134.9h1.8v1.8h-1.8zM352.6 132.4h1.8v1.8h-1.8zM302.6 122.5h1.8v1.8h-1.8zM324.3 128.7h1.8v1.8h-1.8zM337.9 132.2h1.8v1.8h-1.8zM293.3 94.2h1.8v1.8h-1.8zM285.1 113.0h1.8v1.8h-1.8zM328.5 155.5h1.8v1.8h-1.8zM343.2 119.4h1.8v1.8h-1.8zM314.8 148.2h1.8v1.8h-1.8zM321.4 119.9h1.8v1.8h-1.8zM291.9 88.3h1.8v1.8h-1.8zM323.8 124.7h1.8v1.8h-1.8zM345.2 130.5h1.8v1.8h-1.8zM305.6 131.5h1.8v1.8h-1.8zM322.5 107.3h1.8v1.8h-1.8zM320.1 105.0h1.8v1.8h-1.8zM302.6 118.1h1.8v1.8h-1.8zM341.4 133.3h1.8v1.8h-1.8zM322.4 103.1h1.8v1.8h-1.8zM318.9 113.1h1.8v1.8h-1.8zM331.2 112.7h1.8v1.8h-1.8zM318.2 116.5h1.8v1.8h-1.8zM329.6 130.5h1.8v1.8h-1.8zM316.0 124.0h1.8v1.8h-1.8zM306.0 112.2h1.8v1.8h-1.8zM344.8 130.0h1.8v1.8h-1.8zM326.2 138.5h1.8v1.8h-1.8zM305.1 132.8h1.8v1.8h-1.8zM322.7 133.5h1.8v1.8h-1.8zM303.4 115.0h1.8v1.8h-1.8zM334.9 121.7h1.8v1.8h-1.8zM313.6 140.1h1.8v1.8h-1.8zM335.3 126.9h1.8v1.8h-1.8zM330.3 127.4h1.8v1.8h-1.8zM334.1 113.7h1.8v1.8h-1.8zM306.2 112.9h1.8v1.8h-1.8zM328.5 134.2h1.8v1.8h-1.8zM342.4 132.9h1.8v1.8h-1.8zM322.9 111.9h1.8v1.8h-1.8zM356.7 144.7h1.8v1.8h-1.8zM315.7 131.3h1.8v1.8h-1.8zM313.7 111.6h1.8v1.8h-1.8zM301.3 139.7h1.8v1.8h-1.8zM340.6 123.0h1.8v1.8h-1.8zM317.8 124.2h1.8v1.8h-1.8zM324.3 110.4h1.8v1.8h-1.8zM316.0 145.3h1.8v1.8h-1.8zM287.9 114.5h1.8v1.8h-1.8zM312.6 104.1h1.8v1.8h-1.8zM338.7 126.2h1.8v1.8h-1.8zM299.6 119.0h1.8v1.8h-1.8zM328.0 123.0h1.8v1.8h-1.8zM315.3 84.5h1.8v1.8h-1.8zM350.6 130.8h1.8v1.8h-1.8zM342.9 123.9h1.8v1.8h-1.8zM312.3 131.6h1.8v1.8h-1.8zM307.2 134.4h1.8v1.8h-1.8zM319.1 129.9h1.8v1.8h-1.8zM294.8 107.6h1.8v1.8h-1.8zM327.6 128.7h1.8v1.8h-1.8zM328.6 128.2h1.8v1.8h-1.8zM322.6 140.2h1.8v1.8h-1.8zM324.3 133.1h1.8v1.8h-1.8zM309.1 100.1h1.8v1.8h-1.8zM343.8 123.2h1.8v1.8h-1.8zM310.9 88.7h1.8v1.8h-1.8zM344.0 133.9h1.8v1.8h-1.8zM302.7 137.0h1.8v1.8h-1.8zM332.5 126.4h1.8v1.8h-1.8zM316.7 118.5h1.8v1.8h-1.8zM319.1 129.5h1.8v1.8h-1.8zM321.6 129.5h1.8v1.8h-1.8zM302.7 111.3h1.8v1.8h-1.8zM307.2 135.4h1.8v1.8h-1.8zM327.7 155.0h1.8v1.8h-1.8zM345.6 131.2h1.8v1.8h-1.8zM342.9 163.5h1.8v1.8h-1.8zM343.2 133.4h1.8v1.8h-1.8zM305.0 115.8h1.8v1.8h-1.8zM325.7 115.9h1.8v1.8h-1.8zM306.6 108.5h1.8v1.8h-1.8zM341.9 124.4h1.8v1.8h-1.8zM335.1 112.2h1.8v1.8h-1.8zM311.7 114.8h1.8v1.8h-1.8zM351.3 135.1h1.8v1.8h-1.8zM313.6 104.5h1.8v1.8h-1.8zM300.4 119.1h1.8v1.8h-1.8zM308.0 132.5h1.8v1.8h-1.8zM332.7 124.3h1.8v1.8h-1.8zM332.0 121.2h1.8v1.8h-1.8zM311.6 111.0h1.8v1.8h-1.8zM320.3 109.9h1.8v1.8h-1.8zM295.1 91.1h1.8v1.8h-1.8zM352.6 141.6h1.8v1.8h-1.8zM335.0 121.7h1.8v1.8h-1.8zM305.5 134.4h1.8v1.8h-1.8zM294.4 120.0h1.8v1.8h-1.8zM351.2 167.0h1.8v1.8h-1.8zM316.8 118.0h1.8v1.8h-1.8zM326.0 130.1h1.8v1.8h-1.8zM349.0 137.1h1.8v1.8h-1.8zM321.8 138.4h1.8v1.8h-1.8zM295.1 110.9h1.8v1.8h-1.8zM304.9 116.4h1.8v1.8h-1.8zM325.9 138.4h1.8v1.8h-1.8zM308.9 107.5h1.8v1.8h-1.8zM326.5 94.0h1.8v1.8h-1.8zM305.1 126.2h1.8v1.8h-1.8zM337.3 121.6h1.8v1.8h-1.8zM354.4 129.1h1.8v1.8h-1.8zM316.5 90.1h1.8v1.8h-1.8zM286.5 113.5h1.8v1.8h-1.8zM333.1 129.8h1.8v1.8h-1.8zM306.7 113.3h1.8v1.8h-1.8zM303.4 111.0h1.8v1.8h-1.8zM344.6 124.2h1.8v1.8h-1.8zM312.6 95.8h1.8v1.8h-1.8zM320.1 107.4h1.8v1.8h-1.8zM313.9 97.4h1.8v1.8h-1.8zM331.2 130.4h1.8v1.8h-1.8zM357.7 147.5h1.8v1.8h-1.8zM339.2 133.2h1.8v1.8h-1.8zM302.6 111.6h1.8v1.8h-1.8zM341.7 130.8h1.8v1.8h-1.8zM313.2 100.3h1.8v1.8h-1.8zM315.5 149.3h1.8v1.8h-1.8zM306.1 116.8h1.8v1.8h-1.8zM321.4 100.6h1.8v1.8h-1.8zM312.1 93.3h1.8v1.8h-1.8zM318.0 133.9h1.8v1.8h-1.8zM352.1 139.4h1.8v1.8h-1.8zM324.9 151.4h1.8v1.8h-1.8zM348.0 165.4h1.8v1.8h-1.8zM293.6 111.4h1.8v1.8h-1.8zM306.0 116.1h1.8v1.8h-1.8zM357.8 169.3h1.8v1.8h-1.8zM327.1 136.5h1.8v1.8h-1.8zM295.5 128.2h1.8v1.8h-1.8zM328.8 96.2h1.8v1.8h-1.8zM325.4 128.8h1.8v1.8h-1.8zM298.9 126.6h1.8v1.8h-1.8zM315.0 139.3h1.8v1.8h-1.8zM318.7 144.1h1.8v1.8h-1.8zM301.4 113.7h1.8v1.8h-1.8zM343.2 122.1h1.8v1.8h-1.8zM362.8 158.5h1.8v1.8h-1.8zM319.2 130.0h1.8v1.8h-1.8zM363.0 158.5h1.8v1.8h-1.8zM314.1 130.0h1.8v1.8h-1.8zM300.2 82.2h1.8v1.8h-1.8zM315.0 123.5h1.8v1.8h-1.8zM313.6 112.8h1.8v1.8h-1.8zM311.9 123.2h1.8v1.8h-1.8zM318.0 105.0h1.8v1.8h-1.8zM304.3 111.2h1.8v1.8h-1.8zM302.4 129.7h1.8v1.8h-1.8zM309.5 115.0h1.8v1.8h-1.8zM313.7 102.2h1.8v1.8h-1.8zM353.0 167.8h1.8v1.8h-1.8zM326.2 116.0h1.8v1.8h-1.8zM335.2 127.2h1.8v1.8h-1.8zM316.7 138.2h1.8v1.8h-1.8zM336.8 120.4h1.8v1.8h-1.8zM332.2 131.1h1.8v1.8h-1.8zM322.1 134.2h1.8v1.8h-1.8zM339.0 126.8h1.8v1.8h-1.8zM287.5 113.0h1.8v1.8h-1.8zM332.5 116.9h1.8v1.8h-1.8zM303.8 118.4h1.8v1.8h-1.8zM321.6 111.5h1.8v1.8h-1.8zM350.5 134.5h1.8v1.8h-1.8zM309.1 132.6h1.8v1.8h-1.8zM353.4 130.4h1.8v1.8h-1.8zM312.9 107.0h1.8v1.8h-1.8zM321.0 106.8h1.8v1.8h-1.8zM335.5 132.8h1.8v1.8h-1.8zM317.2 134.2h1.8v1.8h-1.8zM332.4 129.5h1.8v1.8h-1.8zM318.4 121.8h1.8v1.8h-1.8zM306.4 88.9h1.8v1.8h-1.8zM324.7 111.2h1.8v1.8h-1.8zM303.3 125.6h1.8v1.8h-1.8zM319.4 131.3h1.8v1.8h-1.8zM322.2 104.3h1.8v1.8h-1.8zM308.5 139.8h1.8v1.8h-1.8zM304.9 113.7h1.8v1.8h-1.8zM302.7 117.4h1.8v1.8h-1.8zM289.4 103.1h1.8v1.8h-1.8zM332.4 127.9h1.8v1.8h-1.8zM311.4 129.8h1.8v1.8h-1.8zM303.4 116.1h1.8v1.8h-1.8zM314.1 124.8h1.8v1.8h-1.8zM351.6 167.1h1.8v1.8h-1.8zM349.9 132.4h1.8v1.8h-1.8zM309.5 138.9h1.8v1.8h-1.8zM326.5 128.0h1.8v1.8h-1.8zM288.8 123.5h1.8v1.8h-1.8zM349.3 124.1h1.8v1.8h-1.8zM297.8 120.6h1.8v1.8h-1.8zM342.0 130.3h1.8v1.8h-1.8zM326.5 138.3h1.8v1.8h-1.8zM314.8 135.1h1.8v1.8h-1.8zM313.7 108.2h1.8v1.8h-1.8zM340.6 130.0h1.8v1.8h-1.8zM355.9 141.9h1.8v1.8h-1.8zM300.4 116.6h1.8v1.8h-1.8zM324.2 141.3h1.8v1.8h-1.8zM310.2 140.5h1.8v1.8h-1.8zM309.7 137.6h1.8v1.8h-1.8zM312.0 127.7h1.8v1.8h-1.8zM332.5 128.5h1.8v1.8h-1.8zM309.6 78.5h1.8v1.8h-1.8zM289.3 90.9h1.8v1.8h-1.8zM358.2 147.2h1.8v1.8h-1.8zM309.5 82.3h1.8v1.8h-1.8zM325.2 105.2h1.8v1.8h-1.8zM326.9 124.7h1.8v1.8h-1.8zM293.2 105.4h1.8v1.8h-1.8zM303.2 125.1h1.8v1.8h-1.8zM317.1 138.3h1.8v1.8h-1.8zM329.1 125.7h1.8v1.8h-1.8zM322.9 38.8h1.8v1.8h-1.8zM319.1 126.0h1.8v1.8h-1.8zM325.3 140.1h1.8v1.8h-1.8zM310.5 99.4h1.8v1.8h-1.8zM298.9 105.0h1.8v1.8h-1.8zM331.9 109.3h1.8v1.8h-1.8zM354.1 135.3h1.8v1.8h-1.8zM306.1 79.6h1.8v1.8h-1.8zM318.2 85.0h1.8v1.8h-1.8zM323.5 127.9h1.8v1.8h-1.8zM329.2 131.2h1.8v1.8h-1.8zM312.9 109.3h1.8v1.8h-1.8zM327.2 101.0h1.8v1.8h-1.8zM321.5 139.5h1.8v1.8h-1.8zM325.5 135.6h1.8v1.8h-1.8zM330.2 134.6h1.8v1.8h-1.8zM357.8 144.1h1.8v1.8h-1.8zM358.2 142.5h1.8v1.8h-1.8zM338.4 123.3h1.8v1.8h-1.8zM347.7 137.5h1.8v1.8h-1.8zM322.6 111.9h1.8v1.8h-1.8zM342.0 121.0h1.8v1.8h-1.8zM330.3 120.1h1.8v1.8h-1.8zM315.7 135.1h1.8v1.8h-1.8zM309.8 132.7h1.8v1.8h-1.8zM314.5 130.3h1.8v1.8h-1.8zM352.9 130.1h1.8v1.8h-1.8zM301.2 112.0h1.8v1.8h-1.8zM293.3 120.6h1.8v1.8h-1.8zM323.5 139.7h1.8v1.8h-1.8zM325.2 92.8h1.8v1.8h-1.8zM327.3 118.8h1.8v1.8h-1.8zM318.8 100.4h1.8v1.8h-1.8zM314.9 115.7h1.8v1.8h-1.8zM360.7 149.6h1.8v1.8h-1.8zM301.0 108.9h1.8v1.8h-1.8zM322.0 148.4h1.8v1.8h-1.8zM329.3 124.3h1.8v1.8h-1.8zM348.1 129.0h1.8v1.8h-1.8zM325.9 119.5h1.8v1.8h-1.8zM331.5 130.0h1.8v1.8h-1.8zM298.5 87.3h1.8v1.8h-1.8zM310.8 131.5h1.8v1.8h-1.8zM321.8 150.2h1.8v1.8h-1.8zM354.2 129.1h1.8v1.8h-1.8zM289.9 99.7h1.8v1.8h-1.8zM356.5 144.0h1.8v1.8h-1.8zM313.8 109.8h1.8v1.8h-1.8zM298.6 100.2h1.8v1.8h-1.8zM348.1 136.5h1.8v1.8h-1.8zM313.0 125.8h1.8v1.8h-1.8zM355.0 119.7h1.8v1.8h-1.8zM310.1 105.8h1.8v1.8h-1.8zM309.9 143.8h1.8v1.8h-1.8zM311.4 108.3h1.8v1.8h-1.8zM332.1 89.2h1.8v1.8h-1.8zM324.6 124.9h1.8v1.8h-1.8zM311.4 81.9h1.8v1.8h-1.8zM310.1 82.4h1.8v1.8h-1.8zM331.9 123.8h1.8v1.8h-1.8zM320.1 135.1h1.8v1.8h-1.8zM316.1 130.7h1.8v1.8h-1.8zM308.7 111.2h1.8v1.8h-1.8zM328.4 135.6h1.8v1.8h-1.8zM307.2 97.7h1.8v1.8h-1.8zM336.6 120.5h1.8v1.8h-1.8zM343.2 118.9h1.8v1.8h-1.8zM330.6 67.2h1.8v1.8h-1.8zM352.5 137.4h1.8v1.8h-1.8zM340.6 124.8h1.8v1.8h-1.8zM299.1 90.7h1.8v1.8h-1.8zM307.5 131.4h1.8v1.8h-1.8zM321.6 141.2h1.8v1.8h-1.8zM311.8 106.2h1.8v1.8h-1.8zM356.9 143.6h1.8v1.8h-1.8zM337.4 96.0h1.8v1.8h-1.8zM323.1 145.8h1.8v1.8h-1.8zM298.8 124.3h1.8v1.8h-1.8zM342.2 122.5h1.8v1.8h-1.8zM299.5 121.7h1.8v1.8h-1.8zM322.3 108.9h1.8v1.8h-1.8zM320.5 107.9h1.8v1.8h-1.8zM312.1 114.1h1.8v1.8h-1.8zM324.6 100.2h1.8v1.8h-1.8zM309.4 126.4h1.8v1.8h-1.8zM318.8 147.2h1.8v1.8h-1.8zM290.6 112.4h1.8v1.8h-1.8zM311.7 81.1h1.8v1.8h-1.8zM338.1 122.5h1.8v1.8h-1.8zM335.2 118.5h1.8v1.8h-1.8zM338.2 127.4h1.8v1.8h-1.8zM297.8 96.6h1.8v1.8h-1.8zM317.1 140.9h1.8v1.8h-1.8zM289.1 94.6h1.8v1.8h-1.8zM295.2 95.7h1.8v1.8h-1.8zM312.5 116.4h1.8v1.8h-1.8zM396.5 158.0h1.8v1.8h-1.8zM388.6 163.9h1.8v1.8h-1.8zM387.4 129.7h1.8v1.8h-1.8zM401.4 158.9h1.8v1.8h-1.8zM383.0 131.5h1.8v1.8h-1.8zM399.8 124.9h1.8v1.8h-1.8zM404.2 141.8h1.8v1.8h-1.8zM439.8 100.9h1.8v1.8h-1.8zM377.6 135.6h1.8v1.8h-1.8zM398.8 156.4h1.8v1.8h-1.8zM370.8 151.1h1.8v1.8h-1.8zM405.1 121.9h1.8v1.8h-1.8zM399.9 134.3h1.8v1.8h-1.8zM378.7 169.1h1.8v1.8h-1.8zM435.5 123.2h1.8v1.8h-1.8zM373.9 140.8h1.8v1.8h-1.8zM392.7 125.3h1.8v1.8h-1.8zM388.5 120.8h1.8v1.8h-1.8zM369.3 150.7h1.8v1.8h-1.8zM368.2 158.4h1.8v1.8h-1.8zM388.5 164.7h1.8v1.8h-1.8zM397.8 154.5h1.8v1.8h-1.8zM409.2 159.5h1.8v1.8h-1.8zM402.4 127.4h1.8v1.8h-1.8zM429.8 123.6h1.8v1.8h-1.8zM418.9 122.6h1.8v1.8h-1.8zM405.6 126.9h1.8v1.8h-1.8zM408.6 127.6h1.8v1.8h-1.8zM414.0 132.3h1.8v1.8h-1.8zM398.7 160.2h1.8v1.8h-1.8zM408.5 115.2h1.8v1.8h-1.8zM374.1 140.4h1.8v1.8h-1.8zM389.3 129.6h1.8v1.8h-1.8zM447.2 93.4h1.8v1.8h-1.8zM418.8 140.5h1.8v1.8h-1.8zM389.5 163.9h1.8v1.8h-1.8zM408.4 126.8h1.8v1.8h-1.8zM385.9 166.7h1.8v1.8h-1.8zM400.1 152.0h1.8v1.8h-1.8zM395.9 131.6h1.8v1.8h-1.8zM396.0 133.7h1.8v1.8h-1.8zM411.6 118.0h1.8v1.8h-1.8zM387.2 165.4h1.8v1.8h-1.8zM404.6 125.5h1.8v1.8h-1.8zM368.9 152.4h1.8v1.8h-1.8zM405.7 132.5h1.8v1.8h-1.8zM388.7 166.1h1.8v1.8h-1.8zM402.6 146.7h1.8v1.8h-1.8zM442.7 132.0h1.8v1.8h-1.8zM417.6 136.5h1.8v1.8h-1.8zM395.3 134.0h1.8v1.8h-1.8zM398.4 154.3h1.8v1.8h-1.8zM391.6 129.6h1.8v1.8h-1.8zM418.3 127.3h1.8v1.8h-1.8zM409.6 122.5h1.8v1.8h-1.8zM407.0 131.9h1.8v1.8h-1.8zM402.0 140.4h1.8v1.8h-1.8zM396.8 119.9h1.8v1.8h-1.8zM402.2 123.9h1.8v1.8h-1.8zM410.9 147.8h1.8v1.8h-1.8zM430.4 114.9h1.8v1.8h-1.8zM392.0 163.0h1.8v1.8h-1.8zM406.6 124.8h1.8v1.8h-1.8zM395.6 125.4h1.8v1.8h-1.8zM422.7 141.1h1.8v1.8h-1.8zM417.8 137.6h1.8v1.8h-1.8zM389.4 129.8h1.8v1.8h-1.8zM395.8 103.9h1.8v1.8h-1.8zM405.0 119.0h1.8v1.8h-1.8zM426.6 136.5h1.8v1.8h-1.8zM385.1 123.8h1.8v1.8h-1.8zM411.6 79.9h1.8v1.8h-1.8zM405.6 140.3h1.8v1.8h-1.8zM413.8 135.2h1.8v1.8h-1.8zM434.4 130.0h1.8v1.8h-1.8zM390.9 118.2h1.8v1.8h-1.8zM424.9 127.3h1.8v1.8h-1.8zM413.8 159.0h1.8v1.8h-1.8zM400.1 143.5h1.8v1.8h-1.8zM401.3 113.1h1.8v1.8h-1.8zM398.6 139.9h1.8v1.8h-1.8zM412.8 143.0h1.8v1.8h-1.8zM375.1 170.0h1.8v1.8h-1.8zM385.9 124.2h1.8v1.8h-1.8zM397.6 136.2h1.8v1.8h-1.8zM401.3 146.1h1.8v1.8h-1.8zM389.7 123.8h1.8v1.8h-1.8zM410.3 88.1h1.8v1.8h-1.8zM410.2 130.1h1.8v1.8h-1.8zM400.6 143.4h1.8v1.8h-1.8zM391.4 163.7h1.8v1.8h-1.8zM385.9 129.8h1.8v1.8h-1.8zM385.8 166.6h1.8v1.8h-1.8zM426.6 88.0h1.8v1.8h-1.8zM392.7 124.7h1.8v1.8h-1.8zM397.3 126.8h1.8v1.8h-1.8zM401.1 157.7h1.8v1.8h-1.8zM415.6 129.5h1.8v1.8h-1.8zM397.6 123.4h1.8v1.8h-1.8zM377.5 132.9h1.8v1.8h-1.8zM372.4 141.7h1.8v1.8h-1.8zM420.8 141.8h1.8v1.8h-1.8zM374.1 139.6h1.8v1.8h-1.8zM416.2 127.1h1.8v1.8h-1.8zM402.2 142.9h1.8v1.8h-1.8zM401.4 140.0h1.8v1.8h-1.8zM367.5 157.7h1.8v1.8h-1.8zM390.9 93.7h1.8v1.8h-1.8zM412.5 116.7h1.8v1.8h-1.8zM442.1 122.1h1.8v1.8h-1.8zM401.5 124.5h1.8v1.8h-1.8zM392.2 160.7h1.8v1.8h-1.8zM398.5 129.8h1.8v1.8h-1.8zM406.3 117.5h1.8v1.8h-1.8zM405.8 153.8h1.8v1.8h-1.8zM425.8 77.0h1.8v1.8h-1.8zM394.5 127.0h1.8v1.8h-1.8zM376.9 132.8h1.8v1.8h-1.8zM400.7 123.7h1.8v1.8h-1.8zM385.5 165.2h1.8v1.8h-1.8zM376.9 135.6h1.8v1.8h-1.8zM414.5 142.4h1.8v1.8h-1.8zM398.1 125.1h1.8v1.8h-1.8zM386.5 122.8h1.8v1.8h-1.8zM373.9 137.7h1.8v1.8h-1.8zM409.5 114.6h1.8v1.8h-1.8zM382.9 128.6h1.8v1.8h-1.8zM417.3 140.4h1.8v1.8h-1.8zM425.8 143.4h1.8v1.8h-1.8zM399.9 146.7h1.8v1.8h-1.8zM421.6 96.3h1.8v1.8h-1.8zM417.4 105.3h1.8v1.8h-1.8zM402.9 132.9h1.8v1.8h-1.8zM394.7 161.6h1.8v1.8h-1.8zM404.1 116.0h1.8v1.8h-1.8zM371.5 148.2h1.8v1.8h-1.8zM397.6 128.5h1.8v1.8h-1.8zM421.5 146.8h1.8v1.8h-1.8zM418.2 142.5h1.8v1.8h-1.8zM409.9 144.0h1.8v1.8h-1.8zM389.4 129.0h1.8v1.8h-1.8zM410.6 115.6h1.8v1.8h-1.8zM440.5 113.0h1.8v1.8h-1.8zM444.0 133.2h1.8v1.8h-1.8zM426.4 144.9h1.8v1.8h-1.8zM389.4 122.4h1.8v1.8h-1.8zM397.2 73.1h1.8v1.8h-1.8zM366.8 163.7h1.8v1.8h-1.8zM400.7 122.6h1.8v1.8h-1.8zM399.8 141.0h1.8v1.8h-1.8zM434.7 123.7h1.8v1.8h-1.8zM402.0 157.8h1.8v1.8h-1.8zM373.0 139.5h1.8v1.8h-1.8zM400.0 121.2h1.8v1.8h-1.8zM408.2 132.9h1.8v1.8h-1.8zM379.5 169.0h1.8v1.8h-1.8zM400.6 151.7h1.8v1.8h-1.8zM425.6 153.8h1.8v1.8h-1.8zM397.7 136.9h1.8v1.8h-1.8zM414.7 155.7h1.8v1.8h-1.8zM408.4 117.2h1.8v1.8h-1.8zM395.8 116.4h1.8v1.8h-1.8zM407.5 116.0h1.8v1.8h-1.8zM399.5 156.5h1.8v1.8h-1.8zM379.9 167.7h1.8v1.8h-1.8zM399.3 126.9h1.8v1.8h-1.8zM380.8 123.4h1.8v1.8h-1.8zM415.1 139.9h1.8v1.8h-1.8zM387.3 130.8h1.8v1.8h-1.8zM396.6 128.1h1.8v1.8h-1.8zM376.3 136.2h1.8v1.8h-1.8zM410.4 78.8h1.8v1.8h-1.8zM394.2 160.9h1.8v1.8h-1.8zM392.8 119.0h1.8v1.8h-1.8zM408.1 130.1h1.8v1.8h-1.8zM371.9 147.3h1.8v1.8h-1.8zM399.6 126.8h1.8v1.8h-1.8zM413.6 139.4h1.8v1.8h-1.8zM413.8 136.8h1.8v1.8h-1.8zM393.3 114.9h1.8v1.8h-1.8zM375.5 137.8h1.8v1.8h-1.8zM383.0 166.6h1.8v1.8h-1.8zM425.3 135.6h1.8v1.8h-1.8zM398.1 160.3h1.8v1.8h-1.8zM397.9 104.2h1.8v1.8h-1.8zM384.6 114.3h1.8v1.8h-1.8zM436.1 124.1h1.8v1.8h-1.8zM383.6 127.9h1.8v1.8h-1.8zM388.0 128.1h1.8v1.8h-1.8zM402.3 126.2h1.8v1.8h-1.8zM399.1 146.3h1.8v1.8h-1.8zM392.8 162.2h1.8v1.8h-1.8zM398.6 113.0h1.8v1.8h-1.8zM394.1 160.3h1.8v1.8h-1.8zM406.3 147.5h1.8v1.8h-1.8zM398.7 143.7h1.8v1.8h-1.8zM409.3 155.6h1.8v1.8h-1.8zM393.4 125.7h1.8v1.8h-1.8zM426.0 84.2h1.8v1.8h-1.8zM410.4 112.1h1.8v1.8h-1.8zM408.7 118.4h1.8v1.8h-1.8zM440.8 81.3h1.8v1.8h-1.8zM400.7 128.7h1.8v1.8h-1.8zM448.9 124.0h1.8v1.8h-1.8zM401.5 152.7h1.8v1.8h-1.8zM427.2 114.3h1.8v1.8h-1.8zM402.8 125.9h1.8v1.8h-1.8zM390.9 121.4h1.8v1.8h-1.8zM399.0 153.5h1.8v1.8h-1.8zM385.8 129.9h1.8v1.8h-1.8zM374.1 137.4h1.8v1.8h-1.8zM409.4 107.8h1.8v1.8h-1.8zM413.5 127.6h1.8v1.8h-1.8zM406.1 146.1h1.8v1.8h-1.8zM416.0 148.0h1.8v1.8h-1.8zM400.0 143.2h1.8v1.8h-1.8zM400.5 144.7h1.8v1.8h-1.8zM393.7 125.4h1.8v1.8h-1.8zM403.2 137.0h1.8v1.8h-1.8zM399.1 132.7h1.8v1.8h-1.8zM397.8 137.5h1.8v1.8h-1.8zM412.6 136.1h1.8v1.8h-1.8zM389.3 89.8h1.8v1.8h-1.8zM377.5 135.7h1.8v1.8h-1.8zM368.5 157.1h1.8v1.8h-1.8zM401.3 130.8h1.8v1.8h-1.8zM405.3 113.9h1.8v1.8h-1.8zM419.1 136.9h1.8v1.8h-1.8zM408.2 132.4h1.8v1.8h-1.8zM399.3 149.8h1.8v1.8h-1.8zM366.2 168.0h1.8v1.8h-1.8zM370.5 151.1h1.8v1.8h-1.8zM414.9 142.9h1.8v1.8h-1.8zM404.2 150.8h1.8v1.8h-1.8zM403.2 124.9h1.8v1.8h-1.8zM400.4 146.0h1.8v1.8h-1.8zM438.4 129.4h1.8v1.8h-1.8zM424.4 66.0h1.8v1.8h-1.8zM406.7 111.1h1.8v1.8h-1.8zM396.6 123.9h1.8v1.8h-1.8zM444.4 145.2h1.8v1.8h-1.8zM388.1 130.6h1.8v1.8h-1.8zM379.6 132.6h1.8v1.8h-1.8zM401.0 148.7h1.8v1.8h-1.8zM402.4 122.2h1.8v1.8h-1.8zM366.9 161.9h1.8v1.8h-1.8zM419.9 146.6h1.8v1.8h-1.8zM434.7 135.9h1.8v1.8h-1.8zM400.7 132.5h1.8v1.8h-1.8zM396.6 116.2h1.8v1.8h-1.8zM399.2 142.0h1.8v1.8h-1.8zM379.5 133.8h1.8v1.8h-1.8zM433.9 68.0h1.8v1.8h-1.8zM393.9 121.4h1.8v1.8h-1.8zM392.6 120.0h1.8v1.8h-1.8zM406.6 126.3h1.8v1.8h-1.8zM406.4 110.2h1.8v1.8h-1.8zM408.3 120.9h1.8v1.8h-1.8zM378.2 134.3h1.8v1.8h-1.8zM381.9 168.1h1.8v1.8h-1.8zM392.0 161.1h1.8v1.8h-1.8zM389.0 128.8h1.8v1.8h-1.8zM367.5 160.9h1.8v1.8h-1.8zM408.8 128.0h1.8v1.8h-1.8zM372.1 141.6h1.8v1.8h-1.8zM404.4 143.3h1.8v1.8h-1.8zM408.8 141.2h1.8v1.8h-1.8zM398.4 150.8h1.8v1.8h-1.8zM402.7 153.8h1.8v1.8h-1.8zM400.5 131.0h1.8v1.8h-1.8zM382.5 129.5h1.8v1.8h-1.8zM401.6 141.0h1.8v1.8h-1.8zM398.1 157.7h1.8v1.8h-1.8zM372.0 145.0h1.8v1.8h-1.8zM403.1 116.1h1.8v1.8h-1.8zM393.5 102.1h1.8v1.8h-1.8zM416.6 80.5h1.8v1.8h-1.8zM401.1 151.2h1.8v1.8h-1.8zM398.5 139.3h1.8v1.8h-1.8zM398.3 131.8h1.8v1.8h-1.8zM418.8 130.7h1.8v1.8h-1.8zM397.3 117.9h1.8v1.8h-1.8zM397.0 98.9h1.8v1.8h-1.8zM417.3 128.9h1.8v1.8h-1.8zM412.0 135.0h1.8v1.8h-1.8zM401.2 155.2h1.8v1.8h-1.8zM415.7 133.9h1.8v1.8h-1.8zM397.8 134.8h1.8v1.8h-1.8zM416.9 127.5h1.8v1.8h-1.8zM381.0 115.8h1.8v1.8h-1.8zM397.0 79.5h1.8v1.8h-1.8zM386.3 129.6h1.8v1.8h-1.8zM394.6 130.1h1.8v1.8h-1.8zM397.9 117.8h1.8v1.8h-1.8zM388.8 122.4h1.8v1.8h-1.8zM412.9 125.7h1.8v1.8h-1.8zM368.9 156.9h1.8v1.8h-1.8zM417.5 141.2h1.8v1.8h-1.8zM403.5 118.7h1.8v1.8h-1.8zM412.9 149.5h1.8v1.8h-1.8zM371.0 145.8h1.8v1.8h-1.8zM383.3 119.1h1.8v1.8h-1.8zM414.3 146.5h1.8v1.8h-1.8zM401.2 119.8h1.8v1.8h-1.8zM411.8 120.6h1.8v1.8h-1.8zM370.3 150.4h1.8v1.8h-1.8zM412.4 90.4h1.8v1.8h-1.8zM387.0 124.8h1.8v1.8h-1.8zM408.2 116.0h1.8v1.8h-1.8zM396.6 118.9h1.8v1.8h-1.8zM434.9 131.4h1.8v1.8h-1.8zM440.9 146.1h1.8v1.8h-1.8zM368.4 156.0h1.8v1.8h-1.8zM400.2 120.5h1.8v1.8h-1.8zM389.6 163.0h1.8v1.8h-1.8zM420.6 123.4h1.8v1.8h-1.8zM428.7 72.3h1.8v1.8h-1.8zM375.3 138.0h1.8v1.8h-1.8zM435.7 136.4h1.8v1.8h-1.8zM400.4 145.9h1.8v1.8h-1.8zM417.4 133.7h1.8v1.8h-1.8zM380.3 128.3h1.8v1.8h-1.8zM381.7 167.0h1.8v1.8h-1.8zM399.2 142.9h1.8v1.8h-1.8zM392.6 126.0h1.8v1.8h-1.8zM397.5 138.5h1.8v1.8h-1.8zM397.1 119.6h1.8v1.8h-1.8zM385.4 127.2h1.8v1.8h-1.8zM409.2 131.8h1.8v1.8h-1.8zM426.8 106.8h1.8v1.8h-1.8zM398.6 132.7h1.8v1.8h-1.8zM386.0 128.1h1.8v1.8h-1.8zM392.6 163.0h1.8v1.8h-1.8zM377.7 168.5h1.8v1.8h-1.8zM412.9 133.1h1.8v1.8h-1.8zM403.4 126.2h1.8v1.8h-1.8zM410.1 112.8h1.8v1.8h-1.8zM405.0 120.5h1.8v1.8h-1.8zM400.3 151.0h1.8v1.8h-1.8zM397.3 137.4h1.8v1.8h-1.8zM367.7 159.3h1.8v1.8h-1.8zM438.7 78.6h1.8v1.8h-1.8zM404.4 123.8h1.8v1.8h-1.8zM377.7 135.7h1.8v1.8h-1.8zM420.7 118.0h1.8v1.8h-1.8zM394.8 106.9h1.8v1.8h-1.8zM407.6 108.8h1.8v1.8h-1.8zM398.3 157.9h1.8v1.8h-1.8zM400.2 148.0h1.8v1.8h-1.8zM398.6 138.0h1.8v1.8h-1.8zM403.3 144.9h1.8v1.8h-1.8zM400.7 122.7h1.8v1.8h-1.8zM417.3 136.5h1.8v1.8h-1.8zM409.0 151.4h1.8v1.8h-1.8zM390.0 123.9h1.8v1.8h-1.8zM374.8 136.4h1.8v1.8h-1.8zM414.1 125.2h1.8v1.8h-1.8zM403.2 144.2h1.8v1.8h-1.8zM404.0 127.3h1.8v1.8h-1.8zM400.6 126.8h1.8v1.8h-1.8zM381.6 132.5h1.8v1.8h-1.8zM400.4 113.3h1.8v1.8h-1.8zM400.8 132.3h1.8v1.8h-1.8zM389.6 120.6h1.8v1.8h-1.8zM390.5 130.5h1.8v1.8h-1.8zM396.6 160.3h1.8v1.8h-1.8zM403.2 114.6h1.8v1.8h-1.8zM420.2 144.1h1.8v1.8h-1.8zM410.2 148.0h1.8v1.8h-1.8zM382.1 132.3h1.8v1.8h-1.8zM398.2 123.2h1.8v1.8h-1.8zM414.7 134.0h1.8v1.8h-1.8zM396.4 111.6h1.8v1.8h-1.8zM387.9 119.0h1.8v1.8h-1.8zM415.2 113.8h1.8v1.8h-1.8zM390.9 122.5h1.8v1.8h-1.8z" fill="#bebebe"/>
<line x1="333" y1="21" x2="333" y2="179" stroke="#a07c84" stroke-width="1.0" stroke-dasharray="2.6 2.6"/>
<line x1="396.7" y1="21" x2="396.7" y2="179" stroke="#a07c84" stroke-width="1.0" stroke-dasharray="2.6 2.6"/>
<line x1="280" y1="155.5" x2="454" y2="155.5" stroke="#a07c84" stroke-width="1.0" stroke-dasharray="2.6 2.6"/>
<line x1="365" y1="21" x2="365" y2="179" stroke="#404040" stroke-width="1.1" stroke-dasharray="2.6 2.6"/>
<rect x="279.5" y="20.5" width="175" height="159" fill="none" stroke="#1a1a1a" stroke-width="1.1"/>
<line x1="279.50" y1="179.50" x2="279.50" y2="182.50" stroke="#1a1a1a" stroke-width="1"/>
<text x="279.80" y="192.80" font-size="7.8" text-anchor="middle" fill="#161616" stroke="#161616">−4</text>
<line x1="322.50" y1="179.50" x2="322.50" y2="182.50" stroke="#1a1a1a" stroke-width="1"/>
<text x="322.30" y="192.80" font-size="7.8" text-anchor="middle" fill="#161616" stroke="#161616">−2</text>
<line x1="364.50" y1="179.50" x2="364.50" y2="182.50" stroke="#1a1a1a" stroke-width="1"/>
<text x="364.80" y="192.80" font-size="7.8" text-anchor="middle" fill="#161616" stroke="#161616">0</text>
<line x1="407.50" y1="179.50" x2="407.50" y2="182.50" stroke="#1a1a1a" stroke-width="1"/>
<text x="407.30" y="192.80" font-size="7.8" text-anchor="middle" fill="#161616" stroke="#161616">2</text>
<line x1="449.50" y1="179.50" x2="449.50" y2="182.50" stroke="#1a1a1a" stroke-width="1"/>
<text x="449.80" y="192.80" font-size="7.8" text-anchor="middle" fill="#161616" stroke="#161616">4</text>
<line x1="279.50" y1="174.50" x2="276.50" y2="174.50" stroke="#1a1a1a" stroke-width="1"/>
<text x="272.80" y="176.80" font-size="7.8" text-anchor="end" fill="#161616" stroke="#161616">0</text>
<line x1="279.50" y1="145.50" x2="276.50" y2="145.50" stroke="#1a1a1a" stroke-width="1"/>
<text x="272.80" y="148.30" font-size="7.8" text-anchor="end" fill="#161616" stroke="#161616">2</text>
<line x1="279.50" y1="117.50" x2="276.50" y2="117.50" stroke="#1a1a1a" stroke-width="1"/>
<text x="272.80" y="119.80" font-size="7.8" text-anchor="end" fill="#161616" stroke="#161616">4</text>
<line x1="279.50" y1="88.50" x2="276.50" y2="88.50" stroke="#1a1a1a" stroke-width="1"/>
<text x="272.80" y="91.30" font-size="7.8" text-anchor="end" fill="#161616" stroke="#161616">6</text>
<line x1="279.50" y1="60.50" x2="276.50" y2="60.50" stroke="#1a1a1a" stroke-width="1"/>
<text x="272.80" y="62.80" font-size="7.8" text-anchor="end" fill="#161616" stroke="#161616">8</text>
<line x1="279.50" y1="31.50" x2="276.50" y2="31.50" stroke="#1a1a1a" stroke-width="1"/>
<text x="272.80" y="34.30" font-size="7.8" text-anchor="end" fill="#161616" stroke="#161616">10</text>
<text x="367.00" y="205.80" font-size="9.6" text-anchor="middle" fill="#161616" stroke="#161616" textLength="45.00" lengthAdjust="spacingAndGlyphs">Fold change</text>
<text x="258.20" y="99.50" font-size="8.7" text-anchor="middle" fill="#161616" stroke="#161616" textLength="53.50" lengthAdjust="spacingAndGlyphs" transform="rotate(-90 258.20 99.50)">FDR ( Log10 )</text>
<text x="242.80" y="16.60" font-size="10.8" text-anchor="start" fill="#000" stroke="#000" font-weight="bold">B</text>
<rect x="44.00" y="261.00" width="110.00" height="106.00" fill="#d9d9d9"/>
<line x1="56.40" y1="261.00" x2="56.40" y2="367.00" stroke="#fafafa" stroke-width="0.8"/>
<line x1="76.50" y1="261.00" x2="76.50" y2="367.00" stroke="#fafafa" stroke-width="0.8"/>
<line x1="96.50" y1="261.00" x2="96.50" y2="367.00" stroke="#fafafa" stroke-width="0.8"/>
<line x1="116.50" y1="261.00" x2="116.50" y2="367.00" stroke="#fafafa" stroke-width="0.8"/>
<line x1="136.60" y1="261.00" x2="136.60" y2="367.00" stroke="#fafafa" stroke-width="0.8"/>
<line x1="44.00" y1="274.00" x2="154.00" y2="274.00" stroke="#fafafa" stroke-width="0.8"/>
<line x1="44.00" y1="297.00" x2="154.00" y2="297.00" stroke="#fafafa" stroke-width="0.8"/>
<line x1="44.00" y1="319.90" x2="154.00" y2="319.90" stroke="#fafafa" stroke-width="0.8"/>
<line x1="44.00" y1="342.80" x2="154.00" y2="342.80" stroke="#fafafa" stroke-width="0.8"/>
<line x1="44.00" y1="365.70" x2="154.00" y2="365.70" stroke="#fafafa" stroke-width="0.8"/>
<line x1="46.30" y1="261.00" x2="46.30" y2="367.00" stroke="#fafafa" stroke-width="1.1"/>
<line x1="66.50" y1="261.00" x2="66.50" y2="367.00" stroke="#fafafa" stroke-width="1.1"/>
<line x1="86.50" y1="261.00" x2="86.50" y2="367.00" stroke="#fafafa" stroke-width="1.1"/>
<line x1="106.50" y1="261.00" x2="106.50" y2="367.00" stroke="#fafafa" stroke-width="1.1"/>
<line x1="126.60" y1="261.00" x2="126.60" y2="367.00" stroke="#fafafa" stroke-width="1.1"/>
<line x1="146.70" y1="261.00" x2="146.70" y2="367.00" stroke="#fafafa" stroke-width="1.1"/>
<line x1="44.00" y1="262.60" x2="154.00" y2="262.60" stroke="#fafafa" stroke-width="1.1"/>
<line x1="44.00" y1="285.50" x2="154.00" y2="285.50" stroke="#fafafa" stroke-width="1.1"/>
<line x1="44.00" y1="308.40" x2="154.00" y2="308.40" stroke="#fafafa" stroke-width="1.1"/>
<line x1="44.00" y1="331.30" x2="154.00" y2="331.30" stroke="#fafafa" stroke-width="1.1"/>
<line x1="44.00" y1="354.20" x2="154.00" y2="354.20" stroke="#fafafa" stroke-width="1.1"/>
<path d="M93.8 266.1m-2.6 0a2.6 2.6 0 1 0 5.2 0a2.6 2.6 0 1 0 -5.2 0zM76.3 269.3m-2.6 0a2.6 2.6 0 1 0 5.2 0a2.6 2.6 0 1 0 -5.2 0zM83.0 269.3m-2.6 0a2.6 2.6 0 1 0 5.2 0a2.6 2.6 0 1 0 -5.2 0zM84.7 272.0m-2.6 0a2.6 2.6 0 1 0 5.2 0a2.6 2.6 0 1 0 -5.2 0zM89.4 270.4m-2.6 0a2.6 2.6 0 1 0 5.2 0a2.6 2.6 0 1 0 -5.2 0zM73.6 275.0m-2.6 0a2.6 2.6 0 1 0 5.2 0a2.6 2.6 0 1 0 -5.2 0zM78.2 275.0m-2.6 0a2.6 2.6 0 1 0 5.2 0a2.6 2.6 0 1 0 -5.2 0zM64.2 280.8m-2.6 0a2.6 2.6 0 1 0 5.2 0a2.6 2.6 0 1 0 -5.2 0zM68.2 283.1m-2.6 0a2.6 2.6 0 1 0 5.2 0a2.6 2.6 0 1 0 -5.2 0zM79.0 283.1m-2.6 0a2.6 2.6 0 1 0 5.2 0a2.6 2.6 0 1 0 -5.2 0zM91.9 281.4m-2.6 0a2.6 2.6 0 1 0 5.2 0a2.6 2.6 0 1 0 -5.2 0zM97.8 280.1m-2.6 0a2.6 2.6 0 1 0 5.2 0a2.6 2.6 0 1 0 -5.2 0zM57.8 287.1m-2.6 0a2.6 2.6 0 1 0 5.2 0a2.6 2.6 0 1 0 -5.2 0zM63.6 287.8m-2.6 0a2.6 2.6 0 1 0 5.2 0a2.6 2.6 0 1 0 -5.2 0zM89.2 288.2m-2.6 0a2.6 2.6 0 1 0 5.2 0a2.6 2.6 0 1 0 -5.2 0zM98.7 286.5m-2.6 0a2.6 2.6 0 1 0 5.2 0a2.6 2.6 0 1 0 -5.2 0zM56.2 292.8m-2.6 0a2.6 2.6 0 1 0 5.2 0a2.6 2.6 0 1 0 -5.2 0zM70.7 294.9m-2.6 0a2.6 2.6 0 1 0 5.2 0a2.6 2.6 0 1 0 -5.2 0zM69.6 295.9m-2.6 0a2.6 2.6 0 1 0 5.2 0a2.6 2.6 0 1 0 -5.2 0zM94.4 294.9m-2.6 0a2.6 2.6 0 1 0 5.2 0a2.6 2.6 0 1 0 -5.2 0zM57.8 300.2m-2.6 0a2.6 2.6 0 1 0 5.2 0a2.6 2.6 0 1 0 -5.2 0zM67.9 297.6m-2.6 0a2.6 2.6 0 1 0 5.2 0a2.6 2.6 0 1 0 -5.2 0zM69.6 300.5m-2.6 0a2.6 2.6 0 1 0 5.2 0a2.6 2.6 0 1 0 -5.2 0zM76.5 298.7m-2.6 0a2.6 2.6 0 1 0 5.2 0a2.6 2.6 0 1 0 -5.2 0zM76.6 300.5m-2.6 0a2.6 2.6 0 1 0 5.2 0a2.6 2.6 0 1 0 -5.2 0zM80.1 301.1m-2.6 0a2.6 2.6 0 1 0 5.2 0a2.6 2.6 0 1 0 -5.2 0zM88.2 299.1m-2.6 0a2.6 2.6 0 1 0 5.2 0a2.6 2.6 0 1 0 -5.2 0zM87.3 300.2m-2.6 0a2.6 2.6 0 1 0 5.2 0a2.6 2.6 0 1 0 -5.2 0zM98.9 298.4m-2.6 0a2.6 2.6 0 1 0 5.2 0a2.6 2.6 0 1 0 -5.2 0zM88.7 304.1m-2.6 0a2.6 2.6 0 1 0 5.2 0a2.6 2.6 0 1 0 -5.2 0zM92.1 305.4m-2.6 0a2.6 2.6 0 1 0 5.2 0a2.6 2.6 0 1 0 -5.2 0zM93.5 308.4m-2.6 0a2.6 2.6 0 1 0 5.2 0a2.6 2.6 0 1 0 -5.2 0zM53.5 306.8m-2.6 0a2.6 2.6 0 1 0 5.2 0a2.6 2.6 0 1 0 -5.2 0zM59.4 309.5m-2.6 0a2.6 2.6 0 1 0 5.2 0a2.6 2.6 0 1 0 -5.2 0zM77.7 309.5m-2.6 0a2.6 2.6 0 1 0 5.2 0a2.6 2.6 0 1 0 -5.2 0zM78.2 312.4m-2.6 0a2.6 2.6 0 1 0 5.2 0a2.6 2.6 0 1 0 -5.2 0zM81.7 312.9m-2.6 0a2.6 2.6 0 1 0 5.2 0a2.6 2.6 0 1 0 -5.2 0zM98.9 312.7m-2.6 0a2.6 2.6 0 1 0 5.2 0a2.6 2.6 0 1 0 -5.2 0zM119.2 271.9m-2.6 0a2.6 2.6 0 1 0 5.2 0a2.6 2.6 0 1 0 -5.2 0zM104.5 277.2m-2.6 0a2.6 2.6 0 1 0 5.2 0a2.6 2.6 0 1 0 -5.2 0zM148.7 275.5m-2.6 0a2.6 2.6 0 1 0 5.2 0a2.6 2.6 0 1 0 -5.2 0zM136.8 285.9m-2.6 0a2.6 2.6 0 1 0 5.2 0a2.6 2.6 0 1 0 -5.2 0zM103.0 288.1m-2.6 0a2.6 2.6 0 1 0 5.2 0a2.6 2.6 0 1 0 -5.2 0zM104.5 305.7m-2.6 0a2.6 2.6 0 1 0 5.2 0a2.6 2.6 0 1 0 -5.2 0zM103.4 310.4m-2.6 0a2.6 2.6 0 1 0 5.2 0a2.6 2.6 0 1 0 -5.2 0zM120.3 315.1m-2.6 0a2.6 2.6 0 1 0 5.2 0a2.6 2.6 0 1 0 -5.2 0zM56.9 317.6m-2.6 0a2.6 2.6 0 1 0 5.2 0a2.6 2.6 0 1 0 -5.2 0zM61.2 322.4m-2.6 0a2.6 2.6 0 1 0 5.2 0a2.6 2.6 0 1 0 -5.2 0zM82.2 336.6m-2.6 0a2.6 2.6 0 1 0 5.2 0a2.6 2.6 0 1 0 -5.2 0zM76.6 346.5m-2.6 0a2.6 2.6 0 1 0 5.2 0a2.6 2.6 0 1 0 -5.2 0zM73.3 350.2m-2.6 0a2.6 2.6 0 1 0 5.2 0a2.6 2.6 0 1 0 -5.2 0zM101.3 316.5m-2.6 0a2.6 2.6 0 1 0 5.2 0a2.6 2.6 0 1 0 -5.2 0zM103.0 318.1m-2.6 0a2.6 2.6 0 1 0 5.2 0a2.6 2.6 0 1 0 -5.2 0zM100.2 320.4m-2.6 0a2.6 2.6 0 1 0 5.2 0a2.6 2.6 0 1 0 -5.2 0zM137.6 350.8m-2.6 0a2.6 2.6 0 1 0 5.2 0a2.6 2.6 0 1 0 -5.2 0zM113.1 354.7m-2.6 0a2.6 2.6 0 1 0 5.2 0a2.6 2.6 0 1 0 -5.2 0z" fill="#d2e8cc" opacity="0.6"/>
<path d="M55.1 343.2m-2.6 0a2.6 2.6 0 1 0 5.2 0a2.6 2.6 0 1 0 -5.2 0zM56.1 342.7m-2.6 0a2.6 2.6 0 1 0 5.2 0a2.6 2.6 0 1 0 -5.2 0zM58.0 345.1m-2.6 0a2.6 2.6 0 1 0 5.2 0a2.6 2.6 0 1 0 -5.2 0z" fill="#f4d0da" opacity="0.6"/>
<path d="M48.1 343.8m-2.6 0a2.6 2.6 0 1 0 5.2 0a2.6 2.6 0 1 0 -5.2 0zM73.4 343.8m-2.6 0a2.6 2.6 0 1 0 5.2 0a2.6 2.6 0 1 0 -5.2 0zM57.7 354.5m-2.6 0a2.6 2.6 0 1 0 5.2 0a2.6 2.6 0 1 0 -5.2 0zM62.8 355.4m-2.6 0a2.6 2.6 0 1 0 5.2 0a2.6 2.6 0 1 0 -5.2 0zM69.8 358.1m-2.6 0a2.6 2.6 0 1 0 5.2 0a2.6 2.6 0 1 0 -5.2 0zM73.0 361.9m-2.6 0a2.6 2.6 0 1 0 5.2 0a2.6 2.6 0 1 0 -5.2 0zM74.0 361.6m-2.6 0a2.6 2.6 0 1 0 5.2 0a2.6 2.6 0 1 0 -5.2 0zM80.3 363.7m-2.6 0a2.6 2.6 0 1 0 5.2 0a2.6 2.6 0 1 0 -5.2 0z" fill="#d4def2" opacity="0.6"/>
<path d="M93.8 266.1m-1.05 0a1.05 1.05 0 1 0 2.1 0a1.05 1.05 0 1 0 -2.1 0zM76.3 269.3m-1.05 0a1.05 1.05 0 1 0 2.1 0a1.05 1.05 0 1 0 -2.1 0zM83.0 269.3m-1.05 0a1.05 1.05 0 1 0 2.1 0a1.05 1.05 0 1 0 -2.1 0zM84.7 272.0m-1.05 0a1.05 1.05 0 1 0 2.1 0a1.05 1.05 0 1 0 -2.1 0zM89.4 270.4m-1.05 0a1.05 1.05 0 1 0 2.1 0a1.05 1.05 0 1 0 -2.1 0zM73.6 275.0m-1.05 0a1.05 1.05 0 1 0 2.1 0a1.05 1.05 0 1 0 -2.1 0zM78.2 275.0m-1.05 0a1.05 1.05 0 1 0 2.1 0a1.05 1.05 0 1 0 -2.1 0zM64.2 280.8m-1.05 0a1.05 1.05 0 1 0 2.1 0a1.05 1.05 0 1 0 -2.1 0zM68.2 283.1m-1.05 0a1.05 1.05 0 1 0 2.1 0a1.05 1.05 0 1 0 -2.1 0zM79.0 283.1m-1.05 0a1.05 1.05 0 1 0 2.1 0a1.05 1.05 0 1 0 -2.1 0zM91.9 281.4m-1.05 0a1.05 1.05 0 1 0 2.1 0a1.05 1.05 0 1 0 -2.1 0zM97.8 280.1m-1.05 0a1.05 1.05 0 1 0 2.1 0a1.05 1.05 0 1 0 -2.1 0zM57.8 287.1m-1.05 0a1.05 1.05 0 1 0 2.1 0a1.05 1.05 0 1 0 -2.1 0zM63.6 287.8m-1.05 0a1.05 1.05 0 1 0 2.1 0a1.05 1.05 0 1 0 -2.1 0zM89.2 288.2m-1.05 0a1.05 1.05 0 1 0 2.1 0a1.05 1.05 0 1 0 -2.1 0zM98.7 286.5m-1.05 0a1.05 1.05 0 1 0 2.1 0a1.05 1.05 0 1 0 -2.1 0zM56.2 292.8m-1.05 0a1.05 1.05 0 1 0 2.1 0a1.05 1.05 0 1 0 -2.1 0zM70.7 294.9m-1.05 0a1.05 1.05 0 1 0 2.1 0a1.05 1.05 0 1 0 -2.1 0zM69.6 295.9m-1.05 0a1.05 1.05 0 1 0 2.1 0a1.05 1.05 0 1 0 -2.1 0zM94.4 294.9m-1.05 0a1.05 1.05 0 1 0 2.1 0a1.05 1.05 0 1 0 -2.1 0zM57.8 300.2m-1.05 0a1.05 1.05 0 1 0 2.1 0a1.05 1.05 0 1 0 -2.1 0zM67.9 297.6m-1.05 0a1.05 1.05 0 1 0 2.1 0a1.05 1.05 0 1 0 -2.1 0zM69.6 300.5m-1.05 0a1.05 1.05 0 1 0 2.1 0a1.05 1.05 0 1 0 -2.1 0zM76.5 298.7m-1.05 0a1.05 1.05 0 1 0 2.1 0a1.05 1.05 0 1 0 -2.1 0zM76.6 300.5m-1.05 0a1.05 1.05 0 1 0 2.1 0a1.05 1.05 0 1 0 -2.1 0zM80.1 301.1m-1.05 0a1.05 1.05 0 1 0 2.1 0a1.05 1.05 0 1 0 -2.1 0zM88.2 299.1m-1.05 0a1.05 1.05 0 1 0 2.1 0a1.05 1.05 0 1 0 -2.1 0zM87.3 300.2m-1.05 0a1.05 1.05 0 1 0 2.1 0a1.05 1.05 0 1 0 -2.1 0zM98.9 298.4m-1.05 0a1.05 1.05 0 1 0 2.1 0a1.05 1.05 0 1 0 -2.1 0zM88.7 304.1m-1.05 0a1.05 1.05 0 1 0 2.1 0a1.05 1.05 0 1 0 -2.1 0zM92.1 305.4m-1.05 0a1.05 1.05 0 1 0 2.1 0a1.05 1.05 0 1 0 -2.1 0zM93.5 308.4m-1.05 0a1.05 1.05 0 1 0 2.1 0a1.05 1.05 0 1 0 -2.1 0zM53.5 306.8m-1.05 0a1.05 1.05 0 1 0 2.1 0a1.05 1.05 0 1 0 -2.1 0zM59.4 309.5m-1.05 0a1.05 1.05 0 1 0 2.1 0a1.05 1.05 0 1 0 -2.1 0zM77.7 309.5m-1.05 0a1.05 1.05 0 1 0 2.1 0a1.05 1.05 0 1 0 -2.1 0zM78.2 312.4m-1.05 0a1.05 1.05 0 1 0 2.1 0a1.05 1.05 0 1 0 -2.1 0zM81.7 312.9m-1.05 0a1.05 1.05 0 1 0 2.1 0a1.05 1.05 0 1 0 -2.1 0zM98.9 312.7m-1.05 0a1.05 1.05 0 1 0 2.1 0a1.05 1.05 0 1 0 -2.1 0zM119.2 271.9m-1.05 0a1.05 1.05 0 1 0 2.1 0a1.05 1.05 0 1 0 -2.1 0zM104.5 277.2m-1.05 0a1.05 1.05 0 1 0 2.1 0a1.05 1.05 0 1 0 -2.1 0zM148.7 275.5m-1.05 0a1.05 1.05 0 1 0 2.1 0a1.05 1.05 0 1 0 -2.1 0zM136.8 285.9m-1.05 0a1.05 1.05 0 1 0 2.1 0a1.05 1.05 0 1 0 -2.1 0zM103.0 288.1m-1.05 0a1.05 1.05 0 1 0 2.1 0a1.05 1.05 0 1 0 -2.1 0zM104.5 305.7m-1.05 0a1.05 1.05 0 1 0 2.1 0a1.05 1.05 0 1 0 -2.1 0zM103.4 310.4m-1.05 0a1.05 1.05 0 1 0 2.1 0a1.05 1.05 0 1 0 -2.1 0zM120.3 315.1m-1.05 0a1.05 1.05 0 1 0 2.1 0a1.05 1.05 0 1 0 -2.1 0zM56.9 317.6m-1.05 0a1.05 1.05 0 1 0 2.1 0a1.05 1.05 0 1 0 -2.1 0zM61.2 322.4m-1.05 0a1.05 1.05 0 1 0 2.1 0a1.05 1.05 0 1 0 -2.1 0zM82.2 336.6m-1.05 0a1.05 1.05 0 1 0 2.1 0a1.05 1.05 0 1 0 -2.1 0zM76.6 346.5m-1.05 0a1.05 1.05 0 1 0 2.1 0a1.05 1.05 0 1 0 -2.1 0zM73.3 350.2m-1.05 0a1.05 1.05 0 1 0 2.1 0a1.05 1.05 0 1 0 -2.1 0zM101.3 316.5m-1.05 0a1.05 1.05 0 1 0 2.1 0a1.05 1.05 0 1 0 -2.1 0zM103.0 318.1m-1.05 0a1.05 1.05 0 1 0 2.1 0a1.05 1.05 0 1 0 -2.1 0zM100.2 320.4m-1.05 0a1.05 1.05 0 1 0 2.1 0a1.05 1.05 0 1 0 -2.1 0zM137.6 350.8m-1.05 0a1.05 1.05 0 1 0 2.1 0a1.05 1.05 0 1 0 -2.1 0zM113.1 354.7m-1.05 0a1.05 1.05 0 1 0 2.1 0a1.05 1.05 0 1 0 -2.1 0z" fill="#52704a"/>
<path d="M55.1 343.2m-1.05 0a1.05 1.05 0 1 0 2.1 0a1.05 1.05 0 1 0 -2.1 0zM56.1 342.7m-1.05 0a1.05 1.05 0 1 0 2.1 0a1.05 1.05 0 1 0 -2.1 0zM58.0 345.1m-1.05 0a1.05 1.05 0 1 0 2.1 0a1.05 1.05 0 1 0 -2.1 0z" fill="#7a1430"/>
<path d="M48.1 343.8m-1.05 0a1.05 1.05 0 1 0 2.1 0a1.05 1.05 0 1 0 -2.1 0zM73.4 343.8m-1.05 0a1.05 1.05 0 1 0 2.1 0a1.05 1.05 0 1 0 -2.1 0zM57.7 354.5m-1.05 0a1.05 1.05 0 1 0 2.1 0a1.05 1.05 0 1 0 -2.1 0zM62.8 355.4m-1.05 0a1.05 1.05 0 1 0 2.1 0a1.05 1.05 0 1 0 -2.1 0zM69.8 358.1m-1.05 0a1.05 1.05 0 1 0 2.1 0a1.05 1.05 0 1 0 -2.1 0zM73.0 361.9m-1.05 0a1.05 1.05 0 1 0 2.1 0a1.05 1.05 0 1 0 -2.1 0zM74.0 361.6m-1.05 0a1.05 1.05 0 1 0 2.1 0a1.05 1.05 0 1 0 -2.1 0zM80.3 363.7m-1.05 0a1.05 1.05 0 1 0 2.1 0a1.05 1.05 0 1 0 -2.1 0z" fill="#262a48"/>
<line x1="43.50" y1="261.00" x2="43.50" y2="369.00" stroke="#1a1a1a" stroke-width="1"/>
<line x1="43.00" y1="368.50" x2="154.00" y2="368.50" stroke="#1a1a1a" stroke-width="1"/>
<line x1="46.50" y1="368.50" x2="46.50" y2="371.50" stroke="#1a1a1a" stroke-width="1"/>
<line x1="66.50" y1="368.50" x2="66.50" y2="371.50" stroke="#1a1a1a" stroke-width="1"/>
<line x1="86.50" y1="368.50" x2="86.50" y2="371.50" stroke="#1a1a1a" stroke-width="1"/>
<line x1="106.50" y1="368.50" x2="106.50" y2="371.50" stroke="#1a1a1a" stroke-width="1"/>
<line x1="126.50" y1="368.50" x2="126.50" y2="371.50" stroke="#1a1a1a" stroke-width="1"/>
<line x1="146.50" y1="368.50" x2="146.50" y2="371.50" stroke="#1a1a1a" stroke-width="1"/>
<line x1="43.50" y1="262.50" x2="40.50" y2="262.50" stroke="#1a1a1a" stroke-width="1"/>
<line x1="43.50" y1="285.50" x2="40.50" y2="285.50" stroke="#1a1a1a" stroke-width="1"/>
<line x1="43.50" y1="308.50" x2="40.50" y2="308.50" stroke="#1a1a1a" stroke-width="1"/>
<line x1="43.50" y1="331.50" x2="40.50" y2="331.50" stroke="#1a1a1a" stroke-width="1"/>
<line x1="43.50" y1="354.50" x2="40.50" y2="354.50" stroke="#1a1a1a" stroke-width="1"/>
<text x="46.30" y="381.80" font-size="7.9" text-anchor="middle" fill="#161616" stroke="#161616" textLength="24.00" lengthAdjust="spacingAndGlyphs">−0.124</text>
<text x="86.50" y="381.80" font-size="7.9" text-anchor="middle" fill="#161616" stroke="#161616" textLength="24.00" lengthAdjust="spacingAndGlyphs">−0.120</text>
<text x="126.60" y="381.80" font-size="7.9" text-anchor="middle" fill="#161616" stroke="#161616" textLength="24.00" lengthAdjust="spacingAndGlyphs">−0.116</text>
<text x="37.20" y="265.40" font-size="7.9" text-anchor="end" fill="#161616" stroke="#161616">0.2</text>
<text x="37.20" y="288.30" font-size="7.9" text-anchor="end" fill="#161616" stroke="#161616">0.1</text>
<text x="37.20" y="311.20" font-size="7.9" text-anchor="end" fill="#161616" stroke="#161616">0.0</text>
<text x="37.20" y="334.10" font-size="7.9" text-anchor="end" fill="#161616" stroke="#161616">−0.1</text>
<text x="37.20" y="357.00" font-size="7.9" text-anchor="end" fill="#161616" stroke="#161616">−0.2</text>
<text x="98.00" y="394.60" font-size="10.4" text-anchor="middle" fill="#161616" stroke="#161616" textLength="13.60" lengthAdjust="spacingAndGlyphs">PC1</text>
<text x="15.80" y="313.50" font-size="10.4" text-anchor="middle" fill="#161616" stroke="#161616" textLength="15.20" lengthAdjust="spacingAndGlyphs" transform="rotate(-90 15.80 313.50)">PC2</text>
<text x="7.60" y="229.60" font-size="10.8" text-anchor="start" fill="#000" stroke="#000" font-weight="bold">C</text>
<text x="43.00" y="256.60" font-size="8.2" text-anchor="start" fill="#161616" stroke="#161616" textLength="60.00" lengthAdjust="spacingAndGlyphs">CAGE Enhancers</text>
<rect x="111.20" y="224.60" width="7.00" height="7.20" fill="#ecdde2"/>
<circle cx="114.7" cy="228.2" r="1.2" fill="#7a1430"/>
<text x="121.00" y="230.80" font-size="7.4" text-anchor="start" fill="#161616" stroke="#161616">Matures</text>
<rect x="111.20" y="236.00" width="7.00" height="7.20" fill="#dfdfe8"/>
<circle cx="114.7" cy="239.6" r="1.2" fill="#262a48"/>
<text x="121.00" y="242.20" font-size="7.4" text-anchor="start" fill="#161616" stroke="#161616">Progenitors</text>
<rect x="111.20" y="246.70" width="7.00" height="7.20" fill="#dfe5dc"/>
<circle cx="114.7" cy="250.3" r="1.2" fill="#52704a"/>
<text x="121.00" y="252.90" font-size="7.4" text-anchor="start" fill="#161616" stroke="#161616">CN-AML</text>
<rect x="44.00" y="451.00" width="110.00" height="107.00" fill="#d9d9d9"/>
<line x1="55.00" y1="451.00" x2="55.00" y2="558.00" stroke="#fafafa" stroke-width="0.8"/>
<line x1="85.90" y1="451.00" x2="85.90" y2="558.00" stroke="#fafafa" stroke-width="0.8"/>
<line x1="116.80" y1="451.00" x2="116.80" y2="558.00" stroke="#fafafa" stroke-width="0.8"/>
<line x1="147.60" y1="451.00" x2="147.60" y2="558.00" stroke="#fafafa" stroke-width="0.8"/>
<line x1="44.00" y1="456.90" x2="154.00" y2="456.90" stroke="#fafafa" stroke-width="0.8"/>
<line x1="44.00" y1="479.90" x2="154.00" y2="479.90" stroke="#fafafa" stroke-width="0.8"/>
<line x1="44.00" y1="502.70" x2="154.00" y2="502.70" stroke="#fafafa" stroke-width="0.8"/>
<line x1="44.00" y1="525.50" x2="154.00" y2="525.50" stroke="#fafafa" stroke-width="0.8"/>
<line x1="44.00" y1="548.30" x2="154.00" y2="548.30" stroke="#fafafa" stroke-width="0.8"/>
<line x1="70.40" y1="451.00" x2="70.40" y2="558.00" stroke="#fafafa" stroke-width="1.1"/>
<line x1="101.30" y1="451.00" x2="101.30" y2="558.00" stroke="#fafafa" stroke-width="1.1"/>
<line x1="132.20" y1="451.00" x2="132.20" y2="558.00" stroke="#fafafa" stroke-width="1.1"/>
<line x1="44.00" y1="468.50" x2="154.00" y2="468.50" stroke="#fafafa" stroke-width="1.1"/>
<line x1="44.00" y1="491.30" x2="154.00" y2="491.30" stroke="#fafafa" stroke-width="1.1"/>
<line x1="44.00" y1="514.10" x2="154.00" y2="514.10" stroke="#fafafa" stroke-width="1.1"/>
<line x1="44.00" y1="536.90" x2="154.00" y2="536.90" stroke="#fafafa" stroke-width="1.1"/>
<path d="M79.5 470.6m-2.6 0a2.6 2.6 0 1 0 5.2 0a2.6 2.6 0 1 0 -5.2 0zM81.2 471.2m-2.6 0a2.6 2.6 0 1 0 5.2 0a2.6 2.6 0 1 0 -5.2 0zM81.9 471.9m-2.6 0a2.6 2.6 0 1 0 5.2 0a2.6 2.6 0 1 0 -5.2 0zM82.6 470.8m-2.6 0a2.6 2.6 0 1 0 5.2 0a2.6 2.6 0 1 0 -5.2 0zM85.5 473.3m-2.6 0a2.6 2.6 0 1 0 5.2 0a2.6 2.6 0 1 0 -5.2 0zM81.7 477.6m-2.6 0a2.6 2.6 0 1 0 5.2 0a2.6 2.6 0 1 0 -5.2 0zM68.6 481.2m-2.6 0a2.6 2.6 0 1 0 5.2 0a2.6 2.6 0 1 0 -5.2 0zM71.1 480.0m-2.6 0a2.6 2.6 0 1 0 5.2 0a2.6 2.6 0 1 0 -5.2 0zM82.8 485.9m-2.6 0a2.6 2.6 0 1 0 5.2 0a2.6 2.6 0 1 0 -5.2 0zM80.8 489.2m-2.6 0a2.6 2.6 0 1 0 5.2 0a2.6 2.6 0 1 0 -5.2 0zM66.1 491.9m-2.6 0a2.6 2.6 0 1 0 5.2 0a2.6 2.6 0 1 0 -5.2 0zM84.7 494.6m-2.6 0a2.6 2.6 0 1 0 5.2 0a2.6 2.6 0 1 0 -5.2 0zM95.2 491.9m-2.6 0a2.6 2.6 0 1 0 5.2 0a2.6 2.6 0 1 0 -5.2 0zM80.6 498.3m-2.6 0a2.6 2.6 0 1 0 5.2 0a2.6 2.6 0 1 0 -5.2 0zM88.2 497.8m-2.6 0a2.6 2.6 0 1 0 5.2 0a2.6 2.6 0 1 0 -5.2 0zM88.4 499.2m-2.6 0a2.6 2.6 0 1 0 5.2 0a2.6 2.6 0 1 0 -5.2 0zM61.8 500.6m-2.6 0a2.6 2.6 0 1 0 5.2 0a2.6 2.6 0 1 0 -5.2 0zM96.4 500.8m-2.6 0a2.6 2.6 0 1 0 5.2 0a2.6 2.6 0 1 0 -5.2 0zM91.4 502.9m-2.6 0a2.6 2.6 0 1 0 5.2 0a2.6 2.6 0 1 0 -5.2 0zM150.2 455.2m-2.6 0a2.6 2.6 0 1 0 5.2 0a2.6 2.6 0 1 0 -5.2 0zM140.9 461.9m-2.6 0a2.6 2.6 0 1 0 5.2 0a2.6 2.6 0 1 0 -5.2 0zM102.7 463.6m-2.6 0a2.6 2.6 0 1 0 5.2 0a2.6 2.6 0 1 0 -5.2 0zM103.0 465.3m-2.6 0a2.6 2.6 0 1 0 5.2 0a2.6 2.6 0 1 0 -5.2 0zM114.7 491.8m-2.6 0a2.6 2.6 0 1 0 5.2 0a2.6 2.6 0 1 0 -5.2 0zM103.0 498.2m-2.6 0a2.6 2.6 0 1 0 5.2 0a2.6 2.6 0 1 0 -5.2 0zM91.4 503.1m-2.6 0a2.6 2.6 0 1 0 5.2 0a2.6 2.6 0 1 0 -5.2 0zM93.8 503.9m-2.6 0a2.6 2.6 0 1 0 5.2 0a2.6 2.6 0 1 0 -5.2 0zM83.3 506.1m-2.6 0a2.6 2.6 0 1 0 5.2 0a2.6 2.6 0 1 0 -5.2 0zM78.7 509.3m-2.6 0a2.6 2.6 0 1 0 5.2 0a2.6 2.6 0 1 0 -5.2 0zM96.6 510.8m-2.6 0a2.6 2.6 0 1 0 5.2 0a2.6 2.6 0 1 0 -5.2 0zM58.9 513.3m-2.6 0a2.6 2.6 0 1 0 5.2 0a2.6 2.6 0 1 0 -5.2 0zM55.1 519.4m-2.6 0a2.6 2.6 0 1 0 5.2 0a2.6 2.6 0 1 0 -5.2 0zM52.4 521.2m-2.6 0a2.6 2.6 0 1 0 5.2 0a2.6 2.6 0 1 0 -5.2 0zM60.7 520.5m-2.6 0a2.6 2.6 0 1 0 5.2 0a2.6 2.6 0 1 0 -5.2 0zM73.1 520.1m-2.6 0a2.6 2.6 0 1 0 5.2 0a2.6 2.6 0 1 0 -5.2 0zM77.6 520.5m-2.6 0a2.6 2.6 0 1 0 5.2 0a2.6 2.6 0 1 0 -5.2 0zM78.2 521.4m-2.6 0a2.6 2.6 0 1 0 5.2 0a2.6 2.6 0 1 0 -5.2 0zM84.4 521.4m-2.6 0a2.6 2.6 0 1 0 5.2 0a2.6 2.6 0 1 0 -5.2 0zM76.6 524.1m-2.6 0a2.6 2.6 0 1 0 5.2 0a2.6 2.6 0 1 0 -5.2 0zM80.8 524.6m-2.6 0a2.6 2.6 0 1 0 5.2 0a2.6 2.6 0 1 0 -5.2 0zM76.0 528.1m-2.6 0a2.6 2.6 0 1 0 5.2 0a2.6 2.6 0 1 0 -5.2 0zM63.2 530.2m-2.6 0a2.6 2.6 0 1 0 5.2 0a2.6 2.6 0 1 0 -5.2 0zM54.2 532.4m-2.6 0a2.6 2.6 0 1 0 5.2 0a2.6 2.6 0 1 0 -5.2 0zM69.8 532.9m-2.6 0a2.6 2.6 0 1 0 5.2 0a2.6 2.6 0 1 0 -5.2 0zM78.2 534.0m-2.6 0a2.6 2.6 0 1 0 5.2 0a2.6 2.6 0 1 0 -5.2 0zM88.2 534.8m-2.6 0a2.6 2.6 0 1 0 5.2 0a2.6 2.6 0 1 0 -5.2 0zM89.8 533.4m-2.6 0a2.6 2.6 0 1 0 5.2 0a2.6 2.6 0 1 0 -5.2 0zM91.6 533.2m-2.6 0a2.6 2.6 0 1 0 5.2 0a2.6 2.6 0 1 0 -5.2 0zM95.9 533.8m-2.6 0a2.6 2.6 0 1 0 5.2 0a2.6 2.6 0 1 0 -5.2 0zM69.6 540.4m-2.6 0a2.6 2.6 0 1 0 5.2 0a2.6 2.6 0 1 0 -5.2 0zM87.4 554.0m-2.6 0a2.6 2.6 0 1 0 5.2 0a2.6 2.6 0 1 0 -5.2 0zM101.1 511.8m-2.6 0a2.6 2.6 0 1 0 5.2 0a2.6 2.6 0 1 0 -5.2 0zM102.2 519.6m-2.6 0a2.6 2.6 0 1 0 5.2 0a2.6 2.6 0 1 0 -5.2 0zM119.0 521.5m-2.6 0a2.6 2.6 0 1 0 5.2 0a2.6 2.6 0 1 0 -5.2 0zM102.2 532.7m-2.6 0a2.6 2.6 0 1 0 5.2 0a2.6 2.6 0 1 0 -5.2 0zM104.1 550.2m-2.6 0a2.6 2.6 0 1 0 5.2 0a2.6 2.6 0 1 0 -5.2 0z" fill="#d2e8cc" opacity="0.6"/>
<path d="M65.8 545.9m-2.6 0a2.6 2.6 0 1 0 5.2 0a2.6 2.6 0 1 0 -5.2 0zM48.8 547.8m-2.6 0a2.6 2.6 0 1 0 5.2 0a2.6 2.6 0 1 0 -5.2 0zM49.9 548.8m-2.6 0a2.6 2.6 0 1 0 5.2 0a2.6 2.6 0 1 0 -5.2 0zM51.0 549.9m-2.6 0a2.6 2.6 0 1 0 5.2 0a2.6 2.6 0 1 0 -5.2 0zM49.2 549.9m-2.6 0a2.6 2.6 0 1 0 5.2 0a2.6 2.6 0 1 0 -5.2 0zM50.2 547.2m-2.6 0a2.6 2.6 0 1 0 5.2 0a2.6 2.6 0 1 0 -5.2 0z" fill="#f4d0da" opacity="0.6"/>
<path d="M56.9 549.1m-2.6 0a2.6 2.6 0 1 0 5.2 0a2.6 2.6 0 1 0 -5.2 0zM59.1 549.1m-2.6 0a2.6 2.6 0 1 0 5.2 0a2.6 2.6 0 1 0 -5.2 0zM53.2 552.6m-2.6 0a2.6 2.6 0 1 0 5.2 0a2.6 2.6 0 1 0 -5.2 0zM56.4 552.1m-2.6 0a2.6 2.6 0 1 0 5.2 0a2.6 2.6 0 1 0 -5.2 0zM56.7 554.2m-2.6 0a2.6 2.6 0 1 0 5.2 0a2.6 2.6 0 1 0 -5.2 0zM59.9 554.8m-2.6 0a2.6 2.6 0 1 0 5.2 0a2.6 2.6 0 1 0 -5.2 0z" fill="#d4def2" opacity="0.6"/>
<path d="M79.5 470.6m-1.05 0a1.05 1.05 0 1 0 2.1 0a1.05 1.05 0 1 0 -2.1 0zM81.2 471.2m-1.05 0a1.05 1.05 0 1 0 2.1 0a1.05 1.05 0 1 0 -2.1 0zM81.9 471.9m-1.05 0a1.05 1.05 0 1 0 2.1 0a1.05 1.05 0 1 0 -2.1 0zM82.6 470.8m-1.05 0a1.05 1.05 0 1 0 2.1 0a1.05 1.05 0 1 0 -2.1 0zM85.5 473.3m-1.05 0a1.05 1.05 0 1 0 2.1 0a1.05 1.05 0 1 0 -2.1 0zM81.7 477.6m-1.05 0a1.05 1.05 0 1 0 2.1 0a1.05 1.05 0 1 0 -2.1 0zM68.6 481.2m-1.05 0a1.05 1.05 0 1 0 2.1 0a1.05 1.05 0 1 0 -2.1 0zM71.1 480.0m-1.05 0a1.05 1.05 0 1 0 2.1 0a1.05 1.05 0 1 0 -2.1 0zM82.8 485.9m-1.05 0a1.05 1.05 0 1 0 2.1 0a1.05 1.05 0 1 0 -2.1 0zM80.8 489.2m-1.05 0a1.05 1.05 0 1 0 2.1 0a1.05 1.05 0 1 0 -2.1 0zM66.1 491.9m-1.05 0a1.05 1.05 0 1 0 2.1 0a1.05 1.05 0 1 0 -2.1 0zM84.7 494.6m-1.05 0a1.05 1.05 0 1 0 2.1 0a1.05 1.05 0 1 0 -2.1 0zM95.2 491.9m-1.05 0a1.05 1.05 0 1 0 2.1 0a1.05 1.05 0 1 0 -2.1 0zM80.6 498.3m-1.05 0a1.05 1.05 0 1 0 2.1 0a1.05 1.05 0 1 0 -2.1 0zM88.2 497.8m-1.05 0a1.05 1.05 0 1 0 2.1 0a1.05 1.05 0 1 0 -2.1 0zM88.4 499.2m-1.05 0a1.05 1.05 0 1 0 2.1 0a1.05 1.05 0 1 0 -2.1 0zM61.8 500.6m-1.05 0a1.05 1.05 0 1 0 2.1 0a1.05 1.05 0 1 0 -2.1 0zM96.4 500.8m-1.05 0a1.05 1.05 0 1 0 2.1 0a1.05 1.05 0 1 0 -2.1 0zM91.4 502.9m-1.05 0a1.05 1.05 0 1 0 2.1 0a1.05 1.05 0 1 0 -2.1 0zM150.2 455.2m-1.05 0a1.05 1.05 0 1 0 2.1 0a1.05 1.05 0 1 0 -2.1 0zM140.9 461.9m-1.05 0a1.05 1.05 0 1 0 2.1 0a1.05 1.05 0 1 0 -2.1 0zM102.7 463.6m-1.05 0a1.05 1.05 0 1 0 2.1 0a1.05 1.05 0 1 0 -2.1 0zM103.0 465.3m-1.05 0a1.05 1.05 0 1 0 2.1 0a1.05 1.05 0 1 0 -2.1 0zM114.7 491.8m-1.05 0a1.05 1.05 0 1 0 2.1 0a1.05 1.05 0 1 0 -2.1 0zM103.0 498.2m-1.05 0a1.05 1.05 0 1 0 2.1 0a1.05 1.05 0 1 0 -2.1 0zM91.4 503.1m-1.05 0a1.05 1.05 0 1 0 2.1 0a1.05 1.05 0 1 0 -2.1 0zM93.8 503.9m-1.05 0a1.05 1.05 0 1 0 2.1 0a1.05 1.05 0 1 0 -2.1 0zM83.3 506.1m-1.05 0a1.05 1.05 0 1 0 2.1 0a1.05 1.05 0 1 0 -2.1 0zM78.7 509.3m-1.05 0a1.05 1.05 0 1 0 2.1 0a1.05 1.05 0 1 0 -2.1 0zM96.6 510.8m-1.05 0a1.05 1.05 0 1 0 2.1 0a1.05 1.05 0 1 0 -2.1 0zM58.9 513.3m-1.05 0a1.05 1.05 0 1 0 2.1 0a1.05 1.05 0 1 0 -2.1 0zM55.1 519.4m-1.05 0a1.05 1.05 0 1 0 2.1 0a1.05 1.05 0 1 0 -2.1 0zM52.4 521.2m-1.05 0a1.05 1.05 0 1 0 2.1 0a1.05 1.05 0 1 0 -2.1 0zM60.7 520.5m-1.05 0a1.05 1.05 0 1 0 2.1 0a1.05 1.05 0 1 0 -2.1 0zM73.1 520.1m-1.05 0a1.05 1.05 0 1 0 2.1 0a1.05 1.05 0 1 0 -2.1 0zM77.6 520.5m-1.05 0a1.05 1.05 0 1 0 2.1 0a1.05 1.05 0 1 0 -2.1 0zM78.2 521.4m-1.05 0a1.05 1.05 0 1 0 2.1 0a1.05 1.05 0 1 0 -2.1 0zM84.4 521.4m-1.05 0a1.05 1.05 0 1 0 2.1 0a1.05 1.05 0 1 0 -2.1 0zM76.6 524.1m-1.05 0a1.05 1.05 0 1 0 2.1 0a1.05 1.05 0 1 0 -2.1 0zM80.8 524.6m-1.05 0a1.05 1.05 0 1 0 2.1 0a1.05 1.05 0 1 0 -2.1 0zM76.0 528.1m-1.05 0a1.05 1.05 0 1 0 2.1 0a1.05 1.05 0 1 0 -2.1 0zM63.2 530.2m-1.05 0a1.05 1.05 0 1 0 2.1 0a1.05 1.05 0 1 0 -2.1 0zM54.2 532.4m-1.05 0a1.05 1.05 0 1 0 2.1 0a1.05 1.05 0 1 0 -2.1 0zM69.8 532.9m-1.05 0a1.05 1.05 0 1 0 2.1 0a1.05 1.05 0 1 0 -2.1 0zM78.2 534.0m-1.05 0a1.05 1.05 0 1 0 2.1 0a1.05 1.05 0 1 0 -2.1 0zM88.2 534.8m-1.05 0a1.05 1.05 0 1 0 2.1 0a1.05 1.05 0 1 0 -2.1 0zM89.8 533.4m-1.05 0a1.05 1.05 0 1 0 2.1 0a1.05 1.05 0 1 0 -2.1 0zM91.6 533.2m-1.05 0a1.05 1.05 0 1 0 2.1 0a1.05 1.05 0 1 0 -2.1 0zM95.9 533.8m-1.05 0a1.05 1.05 0 1 0 2.1 0a1.05 1.05 0 1 0 -2.1 0zM69.6 540.4m-1.05 0a1.05 1.05 0 1 0 2.1 0a1.05 1.05 0 1 0 -2.1 0zM87.4 554.0m-1.05 0a1.05 1.05 0 1 0 2.1 0a1.05 1.05 0 1 0 -2.1 0zM101.1 511.8m-1.05 0a1.05 1.05 0 1 0 2.1 0a1.05 1.05 0 1 0 -2.1 0zM102.2 519.6m-1.05 0a1.05 1.05 0 1 0 2.1 0a1.05 1.05 0 1 0 -2.1 0zM119.0 521.5m-1.05 0a1.05 1.05 0 1 0 2.1 0a1.05 1.05 0 1 0 -2.1 0zM102.2 532.7m-1.05 0a1.05 1.05 0 1 0 2.1 0a1.05 1.05 0 1 0 -2.1 0zM104.1 550.2m-1.05 0a1.05 1.05 0 1 0 2.1 0a1.05 1.05 0 1 0 -2.1 0z" fill="#52704a"/>
<path d="M65.8 545.9m-1.05 0a1.05 1.05 0 1 0 2.1 0a1.05 1.05 0 1 0 -2.1 0zM48.8 547.8m-1.05 0a1.05 1.05 0 1 0 2.1 0a1.05 1.05 0 1 0 -2.1 0zM49.9 548.8m-1.05 0a1.05 1.05 0 1 0 2.1 0a1.05 1.05 0 1 0 -2.1 0zM51.0 549.9m-1.05 0a1.05 1.05 0 1 0 2.1 0a1.05 1.05 0 1 0 -2.1 0zM49.2 549.9m-1.05 0a1.05 1.05 0 1 0 2.1 0a1.05 1.05 0 1 0 -2.1 0zM50.2 547.2m-1.05 0a1.05 1.05 0 1 0 2.1 0a1.05 1.05 0 1 0 -2.1 0z" fill="#7a1430"/>
<path d="M56.9 549.1m-1.05 0a1.05 1.05 0 1 0 2.1 0a1.05 1.05 0 1 0 -2.1 0zM59.1 549.1m-1.05 0a1.05 1.05 0 1 0 2.1 0a1.05 1.05 0 1 0 -2.1 0zM53.2 552.6m-1.05 0a1.05 1.05 0 1 0 2.1 0a1.05 1.05 0 1 0 -2.1 0zM56.4 552.1m-1.05 0a1.05 1.05 0 1 0 2.1 0a1.05 1.05 0 1 0 -2.1 0zM56.7 554.2m-1.05 0a1.05 1.05 0 1 0 2.1 0a1.05 1.05 0 1 0 -2.1 0zM59.9 554.8m-1.05 0a1.05 1.05 0 1 0 2.1 0a1.05 1.05 0 1 0 -2.1 0z" fill="#262a48"/>
<line x1="43.50" y1="451.00" x2="43.50" y2="560.00" stroke="#1a1a1a" stroke-width="1"/>
<line x1="43.00" y1="559.50" x2="154.00" y2="559.50" stroke="#1a1a1a" stroke-width="1"/>
<line x1="70.50" y1="559.50" x2="70.50" y2="562.50" stroke="#1a1a1a" stroke-width="1"/>
<line x1="101.50" y1="559.50" x2="101.50" y2="562.50" stroke="#1a1a1a" stroke-width="1"/>
<line x1="132.50" y1="559.50" x2="132.50" y2="562.50" stroke="#1a1a1a" stroke-width="1"/>
<line x1="43.50" y1="468.50" x2="40.50" y2="468.50" stroke="#1a1a1a" stroke-width="1"/>
<line x1="43.50" y1="491.50" x2="40.50" y2="491.50" stroke="#1a1a1a" stroke-width="1"/>
<line x1="43.50" y1="514.50" x2="40.50" y2="514.50" stroke="#1a1a1a" stroke-width="1"/>
<line x1="43.50" y1="536.50" x2="40.50" y2="536.50" stroke="#1a1a1a" stroke-width="1"/>
<text x="70.40" y="572.80" font-size="7.9" text-anchor="middle" fill="#161616" stroke="#161616" textLength="24.00" lengthAdjust="spacingAndGlyphs">−0.121</text>
<text x="101.30" y="572.80" font-size="7.9" text-anchor="middle" fill="#161616" stroke="#161616" textLength="24.00" lengthAdjust="spacingAndGlyphs">−0.119</text>
<text x="132.20" y="572.80" font-size="7.9" text-anchor="middle" fill="#161616" stroke="#161616" textLength="24.00" lengthAdjust="spacingAndGlyphs">−0.117</text>
<text x="37.20" y="471.30" font-size="7.9" text-anchor="end" fill="#161616" stroke="#161616">0.2</text>
<text x="37.20" y="494.10" font-size="7.9" text-anchor="end" fill="#161616" stroke="#161616">0.1</text>
<text x="37.20" y="516.90" font-size="7.9" text-anchor="end" fill="#161616" stroke="#161616">0.0</text>
<text x="37.20" y="539.70" font-size="7.9" text-anchor="end" fill="#161616" stroke="#161616">−0.1</text>
<text x="98.80" y="586.80" font-size="10.4" text-anchor="middle" fill="#161616" stroke="#161616" textLength="15.00" lengthAdjust="spacingAndGlyphs">PC1</text>
<text x="16.20" y="504.80" font-size="10.4" text-anchor="middle" fill="#161616" stroke="#161616" textLength="14.80" lengthAdjust="spacingAndGlyphs" transform="rotate(-90 16.20 504.80)">PC2</text>
<text x="7.60" y="418.60" font-size="10.8" text-anchor="start" fill="#000" stroke="#000" font-weight="bold">D</text>
<text x="43.00" y="446.00" font-size="8.2" text-anchor="start" fill="#161616" stroke="#161616" textLength="35.40" lengthAdjust="spacingAndGlyphs">Promoters</text>
<rect x="106.20" y="413.50" width="7.00" height="7.20" fill="#ecdde2"/>
<circle cx="109.7" cy="417.1" r="1.2" fill="#7a1430"/>
<text x="116.00" y="419.70" font-size="7.4" text-anchor="start" fill="#161616" stroke="#161616">Matures</text>
<rect x="106.20" y="424.40" width="7.00" height="7.20" fill="#dfdfe8"/>
<circle cx="109.7" cy="428.0" r="1.2" fill="#262a48"/>
<text x="116.00" y="430.60" font-size="7.4" text-anchor="start" fill="#161616" stroke="#161616">Progenitors</text>
<rect x="106.20" y="435.60" width="7.00" height="7.20" fill="#dfe5dc"/>
<circle cx="109.7" cy="439.2" r="1.2" fill="#52704a"/>
<text x="116.00" y="441.80" font-size="7.4" text-anchor="start" fill="#161616" stroke="#161616">CN-AML</text>
<rect x="197.10" y="260.40" width="3.80" height="109.60" fill="#c6c6cc"/>
<rect x="200.90" y="368.20" width="3.40" height="1.80" fill="#e2e2e2"/>
<line x1="191.50" y1="259.60" x2="191.50" y2="373.00" stroke="#1a1a1a" stroke-width="1"/>
<line x1="191.00" y1="370.50" x2="221.00" y2="370.50" stroke="#1a1a1a" stroke-width="1"/>
<line x1="191.50" y1="370.50" x2="188.50" y2="370.50" stroke="#1a1a1a" stroke-width="1"/>
<text x="185.20" y="373.10" font-size="7.5" text-anchor="end" fill="#161616" stroke="#161616">0</text>
<line x1="191.50" y1="352.50" x2="188.50" y2="352.50" stroke="#1a1a1a" stroke-width="1"/>
<text x="185.20" y="355.20" font-size="7.5" text-anchor="end" fill="#161616" stroke="#161616">10</text>
<line x1="191.50" y1="334.50" x2="188.50" y2="334.50" stroke="#1a1a1a" stroke-width="1"/>
<text x="185.20" y="337.30" font-size="7.5" text-anchor="end" fill="#161616" stroke="#161616">20</text>
<line x1="191.50" y1="316.50" x2="188.50" y2="316.50" stroke="#1a1a1a" stroke-width="1"/>
<text x="185.20" y="319.40" font-size="7.5" text-anchor="end" fill="#161616" stroke="#161616">30</text>
<line x1="191.50" y1="298.50" x2="188.50" y2="298.50" stroke="#1a1a1a" stroke-width="1"/>
<text x="185.20" y="301.50" font-size="7.5" text-anchor="end" fill="#161616" stroke="#161616">40</text>
<line x1="191.50" y1="281.50" x2="188.50" y2="281.50" stroke="#1a1a1a" stroke-width="1"/>
<text x="185.20" y="283.60" font-size="7.5" text-anchor="end" fill="#161616" stroke="#161616">50</text>
<line x1="191.50" y1="263.50" x2="188.50" y2="263.50" stroke="#1a1a1a" stroke-width="1"/>
<text x="185.20" y="265.70" font-size="7.5" text-anchor="end" fill="#161616" stroke="#161616">60</text>
<text x="201.00" y="385.60" font-size="10.2" text-anchor="middle" fill="#161616" stroke="#161616" textLength="48.20" lengthAdjust="spacingAndGlyphs">Components</text>
<text x="171.00" y="314.70" font-size="9.8" text-anchor="middle" fill="#161616" stroke="#161616" textLength="49.00" lengthAdjust="spacingAndGlyphs" transform="rotate(-90 171.00 314.70)">Variance(%)</text>
<rect x="197.10" y="453.50" width="4.60" height="105.50" fill="#c9c9c9"/>
<rect x="201.70" y="557.20" width="3.40" height="1.80" fill="#e2e2e2"/>
<line x1="191.50" y1="458.20" x2="191.50" y2="562.00" stroke="#1a1a1a" stroke-width="1"/>
<line x1="191.00" y1="559.50" x2="222.00" y2="559.50" stroke="#1a1a1a" stroke-width="1"/>
<line x1="191.50" y1="559.50" x2="188.50" y2="559.50" stroke="#1a1a1a" stroke-width="1"/>
<text x="185.20" y="562.10" font-size="7.5" text-anchor="end" fill="#161616" stroke="#161616">0</text>
<line x1="191.50" y1="543.50" x2="188.50" y2="543.50" stroke="#1a1a1a" stroke-width="1"/>
<text x="185.20" y="545.70" font-size="7.5" text-anchor="end" fill="#161616" stroke="#161616">10</text>
<line x1="191.50" y1="526.50" x2="188.50" y2="526.50" stroke="#1a1a1a" stroke-width="1"/>
<text x="185.20" y="529.30" font-size="7.5" text-anchor="end" fill="#161616" stroke="#161616">20</text>
<line x1="191.50" y1="510.50" x2="188.50" y2="510.50" stroke="#1a1a1a" stroke-width="1"/>
<text x="185.20" y="512.90" font-size="7.5" text-anchor="end" fill="#161616" stroke="#161616">30</text>
<line x1="191.50" y1="493.50" x2="188.50" y2="493.50" stroke="#1a1a1a" stroke-width="1"/>
<text x="185.20" y="496.50" font-size="7.5" text-anchor="end" fill="#161616" stroke="#161616">40</text>
<line x1="191.50" y1="477.50" x2="188.50" y2="477.50" stroke="#1a1a1a" stroke-width="1"/>
<text x="185.20" y="480.10" font-size="7.5" text-anchor="end" fill="#161616" stroke="#161616">50</text>
<line x1="191.50" y1="461.50" x2="188.50" y2="461.50" stroke="#1a1a1a" stroke-width="1"/>
<text x="185.20" y="463.70" font-size="7.5" text-anchor="end" fill="#161616" stroke="#161616">60</text>
<text x="202.60" y="576.10" font-size="10.2" text-anchor="middle" fill="#161616" stroke="#161616" textLength="48.60" lengthAdjust="spacingAndGlyphs">Components</text>
<text x="170.60" y="508.10" font-size="9.8" text-anchor="middle" fill="#161616" stroke="#161616" textLength="49.00" lengthAdjust="spacingAndGlyphs" transform="rotate(-90 170.60 508.10)">Variance(%)</text>
<path d="M318.40 256.14H328.70M321.22 256.41H328.70M321.52 256.67H328.70M321.52 256.86H328.70M321.52 256.67V256.86M321.22 256.76H321.52M321.22 256.41V256.76M320.92 256.59H321.22M320.92 257.03H328.70M320.92 256.59V257.03M318.40 256.81H320.92M318.40 256.14V256.81M318.10 256.47H318.40M321.37 257.26H328.70M321.37 257.43H328.70M321.37 257.26V257.43M320.65 257.34H321.37M320.65 257.53H328.70M320.65 257.34V257.53M318.70 257.44H320.65M322.68 257.69H328.70M322.68 257.85H328.70M322.68 257.69V257.85M318.70 257.77H322.68M318.70 257.44V257.77M318.40 257.60H318.70M319.00 258.06H328.70M322.55 258.30H328.70M322.55 258.49H328.70M322.55 258.30V258.49M319.30 258.39H322.55M319.30 258.67H328.70M319.30 258.39V258.67M319.00 258.53H319.30M319.00 258.06V258.53M318.70 258.30H319.00M319.37 258.89H328.70M322.42 259.16H328.70M322.42 259.36H328.70M322.42 259.16V259.36M319.67 259.26H322.42M322.41 259.48H328.70M322.41 259.66H328.70M322.41 259.48V259.66M321.88 259.57H322.41M321.88 259.86H328.70M321.88 259.57V259.86M319.67 259.72H321.88M319.67 259.26V259.72M319.37 259.49H319.67M319.37 258.89V259.49M318.70 259.19H319.37M318.70 258.30V259.19M318.40 258.74H318.70M318.40 257.60V258.74M318.10 258.17H318.40M318.10 256.47V258.17M317.80 257.32H318.10M323.05 259.98H328.70M323.05 260.17H328.70M323.05 259.98V260.17M318.70 260.07H323.05M319.00 260.43H328.70M319.00 260.71H328.70M319.00 260.43V260.71M318.70 260.57H319.00M318.70 260.07V260.57M318.40 260.32H318.70M320.91 260.89H328.70M320.91 261.05H328.70M320.91 260.89V261.05M318.40 260.97H320.91M318.40 260.32V260.97M318.10 260.65H318.40M321.34 261.24H328.70M322.49 261.34H328.70M322.49 261.53H328.70M322.49 261.34V261.53M321.34 261.43H322.49M321.34 261.24V261.43M319.82 261.33H321.34M322.61 261.79H328.70M322.61 261.98H328.70M322.61 261.79V261.98M320.12 261.89H322.61M322.20 262.10H328.70M322.50 262.26H328.70M322.50 262.42H328.70M322.50 262.26V262.42M322.20 262.34H322.50M322.20 262.10V262.34M320.12 262.22H322.20M320.12 261.89V262.22M319.82 262.05H320.12M319.82 261.33V262.05M319.52 261.69H319.82M322.68 262.51H328.70M322.68 262.69H328.70M322.68 262.51V262.69M322.38 262.60H322.68M322.38 262.91H328.70M322.38 262.60V262.91M319.52 262.75H322.38M319.52 261.69V262.75M318.10 262.22H319.52M318.10 260.65V262.22M317.80 261.44H318.10M317.80 257.32V261.44M317.50 259.38H317.80M320.62 263.11H328.70M322.08 263.31H328.70M322.08 263.48H328.70M322.08 263.31V263.48M320.92 263.40H322.08M320.92 263.62H328.70M320.92 263.40V263.62M320.62 263.51H320.92M320.62 263.11V263.51M318.40 263.31H320.62M321.26 263.78H328.70M321.56 264.00H328.70M321.86 264.26H328.70M321.86 264.48H328.70M321.86 264.26V264.48M321.56 264.37H321.86M321.56 264.00V264.37M321.26 264.19H321.56M321.26 263.78V264.19M318.72 263.98H321.26M320.47 264.71H328.70M320.47 264.95H328.70M320.47 264.71V264.95M318.72 264.83H320.47M318.72 263.98V264.83M318.40 264.41H318.72M318.40 263.31V264.41M318.10 263.86H318.40M320.60 265.10H328.70M320.60 265.31H328.70M320.60 265.10V265.31M318.70 265.20H320.60M322.72 265.54H328.70M322.72 265.76H328.70M322.72 265.54V265.76M319.31 265.65H322.72M319.31 266.00H328.70M319.31 265.65V266.00M319.01 265.82H319.31M322.77 266.24H328.70M322.77 266.41H328.70M322.77 266.24V266.41M319.01 266.33H322.77M319.01 265.82V266.33M318.70 266.07H319.01M318.70 265.20V266.07M318.40 265.64H318.70M321.34 266.56H328.70M321.64 266.73H328.70M321.94 266.89H328.70M321.94 267.06H328.70M321.94 266.89V267.06M321.64 266.97H321.94M321.64 266.73V266.97M321.34 266.85H321.64M321.34 266.56V266.85M318.40 266.71H321.34M318.40 265.64V266.71M318.10 266.17H318.40M318.10 263.86V266.17M317.80 265.02H318.10M322.42 267.25H328.70M322.42 267.46H328.70M322.42 267.25V267.46M318.70 267.35H322.42M319.53 267.69H328.70M322.75 267.88H328.70M322.75 268.05H328.70M322.75 267.88V268.05M319.53 267.96H322.75M319.53 267.69V267.96M319.00 267.83H319.53M321.50 268.25H328.70M322.10 268.45H328.70M322.10 268.65H328.70M322.10 268.45V268.65M321.80 268.55H322.10M321.80 268.79H328.70M321.80 268.55V268.79M321.50 268.67H321.80M321.50 268.25V268.67M319.48 268.46H321.50M319.48 268.96H328.70M319.48 268.46V268.96M319.00 268.71H319.48M319.00 267.83V268.71M318.70 268.27H319.00M318.70 267.35V268.27M318.40 267.81H318.70M320.18 269.22H328.70M320.48 269.45H328.70M321.08 269.65H328.70M321.08 269.82H328.70M321.08 269.65V269.82M320.78 269.73H321.08M320.78 269.99H328.70M320.78 269.73V269.99M320.48 269.86H320.78M320.48 269.45V269.86M320.18 269.65H320.48M320.18 269.22V269.65M319.88 269.44H320.18M322.51 270.13H328.70M322.51 270.29H328.70M322.51 270.13V270.29M321.66 270.21H322.51M321.66 270.48H328.70M321.66 270.21V270.48M319.88 270.35H321.66M319.88 269.44V270.35M318.40 269.89H319.88M318.40 267.81V269.89M318.10 268.85H318.40M321.07 270.63H328.70M321.07 270.79H328.70M321.07 270.63V270.79M319.00 270.71H321.07M319.30 271.01H328.70M319.99 271.22H328.70M319.99 271.42H328.70M319.99 271.22V271.42M319.30 271.32H319.99M319.30 271.01V271.32M319.00 271.16H319.30M319.00 270.71V271.16M318.70 270.94H319.00M320.74 271.61H328.70M320.74 271.83H328.70M320.74 271.61V271.83M319.29 271.72H320.74M319.29 272.13H328.70M319.29 271.72V272.13M318.70 271.92H319.29M318.70 270.94V271.92M318.40 271.43H318.70M321.55 272.39H328.70M321.55 272.61H328.70M321.55 272.39V272.61M318.70 272.50H321.55M320.77 272.84H328.70M320.77 273.03H328.70M320.77 272.84V273.03M320.47 272.94H320.77M321.07 273.22H328.70M321.37 273.43H328.70M321.37 273.64H328.70M321.37 273.43V273.64M321.07 273.54H321.37M321.07 273.22V273.54M320.77 273.38H321.07M320.77 273.88H328.70M320.77 273.38V273.88M320.47 273.63H320.77M320.47 272.94V273.63M318.70 273.28H320.47M318.70 272.50V273.28M318.40 272.89H318.70M318.40 271.43V272.89M318.10 272.16H318.40M318.10 268.85V272.16M317.80 270.51H318.10M317.80 265.02V270.51M317.50 267.76H317.80M317.50 259.38V267.76M320.70 274.09H328.70M320.70 274.29H328.70M320.70 274.09V274.29M320.40 274.19H320.70M321.20 274.44H328.70M321.20 274.61H328.70M321.20 274.44V274.61M320.40 274.52H321.20M320.40 274.19V274.52M320.10 274.36H320.40M320.86 274.85H328.70M320.86 275.01H328.70M320.86 274.85V275.01M320.53 274.93H320.86M320.53 275.14H328.70M320.53 274.93V275.14M320.10 275.03H320.53M320.10 274.36V275.03M319.80 274.70H320.10M321.00 275.30H328.70M321.00 275.50H328.70M321.00 275.30V275.50M320.70 275.40H321.00M321.60 275.72H328.70M321.60 275.96H328.70M321.60 275.72V275.96M321.30 275.84H321.60M321.60 276.12H328.70M321.60 276.30H328.70M321.60 276.12V276.30M321.30 276.21H321.60M321.30 275.84V276.21M321.00 276.03H321.30M321.46 276.54H328.70M321.46 276.71H328.70M321.46 276.54V276.71M321.00 276.63H321.46M321.00 276.03V276.63M320.70 276.33H321.00M320.70 275.40V276.33M320.40 275.86H320.70M321.58 276.82H328.70M322.47 276.99H328.70M322.47 277.22H328.70M322.47 276.99V277.22M321.58 277.11H322.47M321.58 276.82V277.11M320.40 276.96H321.58M320.40 275.86V276.96M320.10 276.41H320.40M320.40 277.43H328.70M322.94 277.60H328.70M322.94 277.76H328.70M322.94 277.60V277.76M320.70 277.68H322.94M320.70 277.99H328.70M320.70 277.68V277.99M320.40 277.83H320.70M320.40 277.43V277.83M320.10 277.63H320.40M320.10 276.41V277.63M319.80 277.02H320.10M319.80 274.70V277.02M319.50 275.86H319.80M321.06 278.26H328.70M321.06 278.52H328.70M321.06 278.26V278.52M320.76 278.39H321.06M320.76 278.76H328.70M320.76 278.39V278.76M320.10 278.57H320.76M320.70 278.95H328.70M321.64 279.17H328.70M321.94 279.33H328.70M321.94 279.50H328.70M321.94 279.33V279.50M321.64 279.42H321.94M321.64 279.17V279.42M320.70 279.29H321.64M320.70 278.95V279.29M320.40 279.12H320.70M322.66 279.70H328.70M322.66 279.92H328.70M322.66 279.70V279.92M320.40 279.81H322.66M320.40 279.12V279.81M320.10 279.47H320.40M320.10 278.57V279.47M319.80 279.02H320.10M320.40 280.14H328.70M322.17 280.36H328.70M322.47 280.61H328.70M322.47 280.76H328.70M322.47 280.61V280.76M322.17 280.68H322.47M322.17 280.36V280.68M320.40 280.52H322.17M320.40 280.14V280.52M320.10 280.33H320.40M321.59 280.94H328.70M321.59 281.15H328.70M321.59 280.94V281.15M320.10 281.04H321.59M320.10 280.33V281.04M319.80 280.69H320.10M319.80 279.02V280.69M319.50 279.85H319.80M319.50 275.86V279.85M319.42 281.29H328.70M320.13 281.46H328.70M320.13 281.63H328.70M320.13 281.46V281.63M319.83 281.55H320.13M319.83 281.81H328.70M319.83 281.55V281.81M319.42 281.68H319.83M319.42 281.29V281.68M319.10 281.48H319.42M320.73 281.98H328.70M321.88 282.20H328.70M321.88 282.40H328.70M321.88 282.20V282.40M320.73 282.30H321.88M320.73 281.98V282.30M320.00 282.14H320.73M321.86 282.59H328.70M321.86 282.78H328.70M321.86 282.59V282.78M320.00 282.69H321.86M320.00 282.14V282.69M319.70 282.41H320.00M319.70 282.99H328.70M319.70 282.41V282.99M319.40 282.70H319.70M320.92 283.23H328.70M320.92 283.45H328.70M320.92 283.23V283.45M319.40 283.34H320.92M319.40 282.70V283.34M319.10 283.02H319.40M319.10 281.48V283.02M318.80 282.25H319.10M321.24 283.62H328.70M321.24 283.81H328.70M321.24 283.62V283.81M319.10 283.71H321.24M321.52 284.01H328.70M321.82 284.15H328.70M321.82 284.30H328.70M321.82 284.15V284.30M321.52 284.23H321.82M321.52 284.01V284.23M319.40 284.12H321.52M322.27 284.44H328.70M322.57 284.59H328.70M322.57 284.77H328.70M322.57 284.59V284.77M322.27 284.68H322.57M322.27 284.44V284.68M319.40 284.56H322.27M319.40 284.12V284.56M319.10 284.34H319.40M319.10 283.71V284.34M318.80 284.03H319.10M318.80 282.25V284.03M318.50 283.14H318.80M320.06 284.98H328.70M321.88 285.14H328.70M321.88 285.31H328.70M321.88 285.14V285.31M320.06 285.23H321.88M320.06 284.98V285.23M319.40 285.10H320.06M319.70 285.55H328.70M322.86 285.75H328.70M322.86 285.95H328.70M322.86 285.75V285.95M319.70 285.85H322.86M319.70 285.55V285.85M319.40 285.70H319.70M319.40 285.10V285.70M319.10 285.40H319.40M320.41 286.15H328.70M320.41 286.34H328.70M320.41 286.15V286.34M319.10 286.24H320.41M319.10 285.40V286.24M318.80 285.82H319.10M322.72 286.47H328.70M322.72 286.64H328.70M322.72 286.47V286.64M320.87 286.56H322.72M320.87 286.89H328.70M320.87 286.56V286.89M318.80 286.72H320.87M318.80 285.82V286.72M318.50 286.27H318.80M318.50 283.14V286.27M323.21 287.04H328.70M323.21 287.20H328.70M323.21 287.04V287.20M318.50 287.12H323.21M320.64 287.43H328.70M321.10 287.68H328.70M321.10 287.86H328.70M321.10 287.68V287.86M320.64 287.77H321.10M320.64 287.43V287.77M318.50 287.60H320.64M318.50 287.12V287.60M317.02 287.36H318.50M318.24 288.01H328.70M322.00 288.15H328.70M322.00 288.31H328.70M322.00 288.15V288.31M319.83 288.23H322.00M320.36 288.58H328.70M320.36 288.83H328.70M320.36 288.58V288.83M319.83 288.70H320.36M319.83 288.23V288.70M318.24 288.47H319.83M318.24 288.01V288.47M317.32 288.24H318.24M320.03 289.05H328.70M320.03 289.22H328.70M320.03 289.05V289.22M318.86 289.13H320.03M319.46 289.35H328.70M323.16 289.47H328.70M323.16 289.64H328.70M323.16 289.47V289.64M319.46 289.56H323.16M319.46 289.35V289.56M319.16 289.45H319.46M319.16 289.87H328.70M319.16 289.45V289.87M318.86 289.66H319.16M318.86 289.13V289.66M317.92 289.40H318.86M321.13 290.09H328.70M321.13 290.31H328.70M321.13 290.09V290.31M320.05 290.20H321.13M320.05 290.56H328.70M320.05 290.20V290.56M317.92 290.38H320.05M317.92 289.40V290.38M317.62 289.89H317.92M319.45 290.76H328.70M320.50 290.86H328.70M320.50 291.06H328.70M320.50 290.86V291.06M319.45 290.96H320.50M319.45 290.76V290.96M317.62 290.86H319.45M317.62 289.89V290.86M317.32 290.37H317.62M317.32 288.24V290.37M317.02 289.31H317.32M317.02 287.36V289.31M316.10 288.33H317.02M321.95 291.25H328.70M322.53 291.33H328.70M322.53 291.49H328.70M322.53 291.33V291.49M321.95 291.41H322.53M321.95 291.25V291.41M321.09 291.33H321.95M321.09 291.70H328.70M321.09 291.33V291.70M318.14 291.51H321.09M318.44 291.88H328.70M318.74 292.07H328.70M322.08 292.25H328.70M322.08 292.43H328.70M322.08 292.25V292.43M318.74 292.34H322.08M318.74 292.07V292.34M318.44 292.21H318.74M318.44 291.88V292.21M318.14 292.05H318.44M318.14 291.51V292.05M317.84 291.78H318.14M322.99 292.58H328.70M322.99 292.74H328.70M322.99 292.58V292.74M320.39 292.66H322.99M322.77 292.91H328.70M322.77 293.12H328.70M322.77 292.91V293.12M320.39 293.01H322.77M320.39 292.66V293.01M317.84 292.84H320.39M317.84 291.78V292.84M316.10 292.31H317.84M316.10 288.33V292.31M315.80 290.32H316.10M320.42 293.37H328.70M321.91 293.58H328.70M321.91 293.75H328.70M321.91 293.58V293.75M320.42 293.66H321.91M320.42 293.37V293.66M320.12 293.52H320.42M320.42 293.91H328.70M320.42 294.09H328.70M320.42 293.91V294.09M320.12 294.00H320.42M320.12 293.52V294.00M316.10 293.76H320.12M319.67 294.31H328.70M319.67 294.55H328.70M319.67 294.31V294.55M319.14 294.43H319.67M320.02 294.74H328.70M321.35 294.94H328.70M321.35 295.09H328.70M321.35 294.94V295.09M320.32 295.02H321.35M320.32 295.26H328.70M320.32 295.02V295.26M320.02 295.14H320.32M320.02 294.74V295.14M319.44 294.94H320.02M321.80 295.43H328.70M321.80 295.60H328.70M321.80 295.43V295.60M319.44 295.51H321.80M319.44 294.94V295.51M319.14 295.23H319.44M319.14 294.43V295.23M316.10 294.83H319.14M316.10 293.76V294.83M315.80 294.29H316.10M315.80 290.32V294.29M315.50 292.31H315.80M322.01 295.81H328.70M322.01 295.96H328.70M322.01 295.81V295.96M321.71 295.89H322.01M322.01 296.06H328.70M322.01 296.23H328.70M322.01 296.06V296.23M321.71 296.15H322.01M321.71 295.89V296.15M319.37 296.02H321.71M321.29 296.44H328.70M321.29 296.59H328.70M321.29 296.44V296.59M319.37 296.52H321.29M319.37 296.02V296.52M318.67 296.27H319.37M322.91 296.77H328.70M322.91 296.92H328.70M322.91 296.77V296.92M318.67 296.84H322.91M318.67 296.27V296.84M316.40 296.55H318.67M320.95 297.06H328.70M320.95 297.26H328.70M320.95 297.06V297.26M320.65 297.16H320.95M320.65 297.49H328.70M320.65 297.16V297.49M319.62 297.32H320.65M322.10 297.74H328.70M322.10 297.90H328.70M322.10 297.74V297.90M320.79 297.82H322.10M321.80 298.01H328.70M321.80 298.17H328.70M321.80 298.01V298.17M320.79 298.09H321.80M320.79 297.82V298.09M319.62 297.95H320.79M319.62 297.32V297.95M316.77 297.64H319.62M322.19 298.31H328.70M322.19 298.49H328.70M322.19 298.31V298.49M316.77 298.40H322.19M316.77 297.64V298.40M316.40 298.02H316.77M316.40 296.55V298.02M316.10 297.29H316.40M320.03 298.71H328.70M320.03 298.89H328.70M320.03 298.71V298.89M316.78 298.80H320.03M318.30 299.05H328.70M319.49 299.26H328.70M319.49 299.46H328.70M319.49 299.26V299.46M318.30 299.36H319.49M318.30 299.05V299.36M316.78 299.20H318.30M316.78 298.80V299.20M316.10 299.00H316.78M316.10 297.29V299.00M315.80 298.15H316.10M322.95 299.64H328.70M322.95 299.84H328.70M322.95 299.64V299.84M317.52 299.74H322.95M321.53 300.06H328.70M321.53 300.26H328.70M321.53 300.06V300.26M321.23 300.16H321.53M321.23 300.40H328.70M321.23 300.16V300.40M319.56 300.28H321.23M319.56 300.59H328.70M319.56 300.28V300.59M317.52 300.44H319.56M317.52 299.74V300.44M316.40 300.09H317.52M322.42 300.76H328.70M322.42 300.95H328.70M322.42 300.76V300.95M316.70 300.85H322.42M319.59 301.20H328.70M321.35 301.40H328.70M321.65 301.59H328.70M321.95 301.77H328.70M321.95 301.93H328.70M321.95 301.77V301.93M321.65 301.85H321.95M321.65 301.59V301.85M321.35 301.72H321.65M321.35 301.40V301.72M319.59 301.56H321.35M319.59 301.20V301.56M316.70 301.38H319.59M316.70 300.85V301.38M316.40 301.12H316.70M316.40 300.09V301.12M316.10 300.60H316.40M322.09 302.11H328.70M322.50 302.27H328.70M322.50 302.44H328.70M322.50 302.27V302.44M322.09 302.35H322.50M322.09 302.11V302.35M319.23 302.23H322.09M321.35 302.67H328.70M321.35 302.92H328.70M321.35 302.67V302.92M319.23 302.80H321.35M319.23 302.23V302.80M316.40 302.51H319.23M321.39 303.12H328.70M321.39 303.36H328.70M321.39 303.12V303.36M316.40 303.24H321.39M316.40 302.51V303.24M316.10 302.88H316.40M316.10 300.60V302.88M315.80 301.74H316.10M315.80 298.15V301.74M315.50 299.94H315.80M315.50 292.31V299.94M321.17 303.59H328.70M321.47 303.74H328.70M321.47 303.91H328.70M321.47 303.74V303.91M321.17 303.83H321.47M321.17 303.59V303.83M320.87 303.71H321.17M321.65 304.12H328.70M321.65 304.27H328.70M321.65 304.12V304.27M320.87 304.20H321.65M320.87 303.71V304.20M320.57 303.95H320.87M320.87 304.39H328.70M320.87 304.55H328.70M320.87 304.39V304.55M320.57 304.47H320.87M320.57 303.95V304.47M316.80 304.21H320.57M322.12 304.79H328.70M322.12 304.95H328.70M322.12 304.79V304.95M320.28 304.87H322.12M320.28 305.05H328.70M320.28 304.87V305.05M319.98 304.96H320.28M321.49 305.16H328.70M321.49 305.34H328.70M321.49 305.16V305.34M319.98 305.25H321.49M319.98 304.96V305.25M319.68 305.10H319.98M319.68 305.58H328.70M319.68 305.10V305.58M317.10 305.34H319.68M321.21 305.79H328.70M321.21 306.00H328.70M321.21 305.79V306.00M320.91 305.90H321.21M320.91 306.24H328.70M320.91 305.90V306.24M320.61 306.07H320.91M320.91 306.44H328.70M321.21 306.59H328.70M321.21 306.77H328.70M321.21 306.59V306.77M320.91 306.68H321.21M320.91 306.44V306.68M320.61 306.56H320.91M320.61 306.07V306.56M317.70 306.31H320.61M321.27 306.97H328.70M321.27 307.12H328.70M321.27 306.97V307.12M318.00 307.05H321.27M319.88 307.30H328.70M319.88 307.54H328.70M319.88 307.30V307.54M318.00 307.42H319.88M318.00 307.05V307.42M317.70 307.23H318.00M317.70 306.31V307.23M317.40 306.77H317.70M322.65 307.74H328.70M322.65 307.94H328.70M322.65 307.74V307.94M317.70 307.84H322.65M320.53 308.13H328.70M320.83 308.35H328.70M320.83 308.61H328.70M320.83 308.35V308.61M320.53 308.48H320.83M320.53 308.13V308.48M318.00 308.30H320.53M320.95 308.87H328.70M320.95 309.10H328.70M320.95 308.87V309.10M318.00 308.98H320.95M318.00 308.30V308.98M317.70 308.64H318.00M317.70 307.84V308.64M317.40 308.24H317.70M317.40 306.77V308.24M317.10 307.51H317.40M317.10 305.34V307.51M316.80 306.42H317.10M316.80 304.21V306.42M316.50 305.32H316.80M321.74 309.30H328.70M322.04 309.47H328.70M322.04 309.65H328.70M322.04 309.47V309.65M321.74 309.56H322.04M321.74 309.30V309.56M320.28 309.43H321.74M320.28 309.84H328.70M320.28 309.43V309.84M317.10 309.63H320.28M319.22 310.01H328.70M322.82 310.18H328.70M322.82 310.34H328.70M322.82 310.18V310.34M319.22 310.26H322.82M319.22 310.01V310.26M317.40 310.13H319.22M322.38 310.46H328.70M322.38 310.63H328.70M322.38 310.46V310.63M322.08 310.54H322.38M322.08 310.81H328.70M322.08 310.54V310.81M318.30 310.67H322.08M320.94 310.92H328.70M323.24 311.03H328.70M323.24 311.20H328.70M323.24 311.03V311.20M320.94 311.11H323.24M320.94 310.92V311.11M318.30 311.02H320.94M318.30 310.67V311.02M318.00 310.85H318.30M321.34 311.40H328.70M321.34 311.56H328.70M321.34 311.40V311.56M318.00 311.48H321.34M318.00 310.85V311.48M317.70 311.16H318.00M319.71 311.73H328.70M319.71 311.91H328.70M319.71 311.73V311.91M317.70 311.82H319.71M317.70 311.16V311.82M317.40 311.49H317.70M317.40 310.13V311.49M317.10 310.81H317.40M317.10 309.63V310.81M316.80 310.22H317.10M323.02 312.01H328.70M323.02 312.17H328.70M323.02 312.01V312.17M319.11 312.09H323.02M319.11 312.43H328.70M319.11 312.09V312.43M317.10 312.26H319.11M319.91 312.64H328.70M319.91 312.85H328.70M319.91 312.64V312.85M317.10 312.75H319.91M317.10 312.26V312.75M316.80 312.50H317.10M316.80 310.22V312.50M316.50 311.36H316.80M316.50 305.32V311.36M320.10 313.15H328.70M323.04 313.35H328.70M323.04 313.52H328.70M323.04 313.35V313.52M320.10 313.43H323.04M320.10 313.15V313.43M319.80 313.29H320.10M320.40 313.77H328.70M321.00 313.97H328.70M321.00 314.17H328.70M321.00 313.97V314.17M320.70 314.07H321.00M323.19 314.36H328.70M323.19 314.51H328.70M323.19 314.36V314.51M320.70 314.43H323.19M320.70 314.07V314.43M320.40 314.25H320.70M320.40 313.77V314.25M320.10 314.01H320.40M322.59 314.68H328.70M322.59 314.90H328.70M322.59 314.68V314.90M320.40 314.79H322.59M321.00 315.14H328.70M321.00 315.39H328.70M321.00 315.14V315.39M320.70 315.27H321.00M321.85 315.60H328.70M322.15 315.73H328.70M322.15 315.92H328.70M322.15 315.73V315.92M321.85 315.82H322.15M321.85 315.60V315.82M320.70 315.71H321.85M320.70 315.27V315.71M320.40 315.49H320.70M320.40 314.79V315.49M320.10 315.14H320.40M320.10 314.01V315.14M319.80 314.58H320.10M319.80 313.29V314.58M319.50 313.93H319.80M322.46 316.11H328.70M322.76 316.25H328.70M322.76 316.44H328.70M322.76 316.25V316.44M322.46 316.35H322.76M322.46 316.11V316.35M320.10 316.23H322.46M320.40 316.68H328.70M321.00 316.94H328.70M321.00 317.18H328.70M321.00 316.94V317.18M320.70 317.06H321.00M321.00 317.34H328.70M321.00 317.49H328.70M321.00 317.34V317.49M320.70 317.42H321.00M320.70 317.06V317.42M320.40 317.24H320.70M320.40 316.68V317.24M320.10 316.96H320.40M320.10 316.23V316.96M319.80 316.59H320.10M321.74 317.73H328.70M321.74 317.89H328.70M321.74 317.73V317.89M321.44 317.81H321.74M321.44 318.06H328.70M321.44 317.81V318.06M319.80 317.94H321.44M319.80 316.59V317.94M319.50 317.27H319.80M319.50 313.93V317.27M322.17 318.25H328.70M322.17 318.40H328.70M322.17 318.25V318.40M320.40 318.32H322.17M322.89 318.62H328.70M322.89 318.80H328.70M322.89 318.62V318.80M322.59 318.71H322.89M322.59 318.93H328.70M322.59 318.71V318.93M320.40 318.82H322.59M320.40 318.32V318.82M320.10 318.57H320.40M321.30 319.06H328.70M321.30 319.24H328.70M321.30 319.06V319.24M321.00 319.15H321.30M321.00 319.44H328.70M321.00 319.15V319.44M320.70 319.29H321.00M321.00 319.58H328.70M321.00 319.78H328.70M321.00 319.58V319.78M320.70 319.68H321.00M320.70 319.29V319.68M320.40 319.49H320.70M321.58 320.01H328.70M321.58 320.16H328.70M321.58 320.01V320.16M320.70 320.09H321.58M321.30 320.32H328.70M321.30 320.49H328.70M321.30 320.32V320.49M321.00 320.40H321.30M321.30 320.64H328.70M322.14 320.83H328.70M322.14 321.01H328.70M322.14 320.83V321.01M321.30 320.92H322.14M321.30 320.64V320.92M321.00 320.78H321.30M321.00 320.40V320.78M320.70 320.59H321.00M320.70 320.09V320.59M320.40 320.34H320.70M320.40 319.49V320.34M320.10 319.91H320.40M320.10 318.57V319.91M319.80 319.24H320.10M321.88 321.15H328.70M321.88 321.38H328.70M321.88 321.15V321.38M320.40 321.27H321.88M320.40 321.62H328.70M320.40 321.27V321.62M320.10 321.44H320.40M320.70 321.78H328.70M320.70 321.94H328.70M320.70 321.78V321.94M320.40 321.86H320.70M322.53 322.16H328.70M322.53 322.33H328.70M322.53 322.16V322.33M320.70 322.24H322.53M320.70 322.47H328.70M320.70 322.24V322.47M320.40 322.36H320.70M320.40 321.86V322.36M320.10 322.11H320.40M320.10 321.44V322.11M319.80 321.78H320.10M319.80 319.24V321.78M319.50 320.51H319.80M322.20 322.63H328.70M322.20 322.78H328.70M322.20 322.63V322.78M321.90 322.71H322.20M322.20 322.94H328.70M322.20 323.11H328.70M322.20 322.94V323.11M321.90 323.02H322.20M321.90 322.71V323.02M319.80 322.87H321.90M322.05 323.28H328.70M322.05 323.47H328.70M322.05 323.28V323.47M320.10 323.38H322.05M321.00 323.73H328.70M321.00 323.93H328.70M321.00 323.73V323.93M320.70 323.83H321.00M320.70 324.10H328.70M320.70 323.83V324.10M320.40 323.96H320.70M321.30 324.28H328.70M321.30 324.47H328.70M321.30 324.28V324.47M321.00 324.37H321.30M321.00 324.64H328.70M321.00 324.37V324.64M320.70 324.51H321.00M320.70 324.87H328.70M320.70 324.51V324.87M320.40 324.69H320.70M320.40 323.96V324.69M320.10 324.33H320.40M320.10 323.38V324.33M319.80 323.85H320.10M319.80 322.87V323.85M319.50 323.36H319.80M319.50 320.51V323.36M322.57 325.07H328.70M322.57 325.23H328.70M322.57 325.07V325.23M318.68 325.15H322.57M318.68 325.47H328.70M318.68 325.15V325.47M316.80 325.31H318.68M320.75 325.70H328.70M322.43 325.87H328.70M322.43 326.05H328.70M322.43 325.87V326.05M321.17 325.96H322.43M321.17 326.23H328.70M321.17 325.96V326.23M320.75 326.09H321.17M320.75 325.70V326.09M320.45 325.89H320.75M320.75 326.45H328.70M320.75 326.68H328.70M320.75 326.45V326.68M320.45 326.56H320.75M320.45 325.89V326.56M316.80 326.23H320.45M316.80 325.31V326.23M316.50 325.77H316.80M321.22 326.84H328.70M322.86 326.94H328.70M322.86 327.11H328.70M322.86 326.94V327.11M321.22 327.03H322.86M321.22 326.84V327.03M320.02 326.94H321.22M322.47 327.30H328.70M322.47 327.49H328.70M322.47 327.30V327.49M320.02 327.40H322.47M320.02 326.94V327.40M318.90 327.17H320.02M320.81 327.75H328.70M320.81 327.95H328.70M320.81 327.75V327.95M319.20 327.85H320.81M323.02 328.08H328.70M323.02 328.24H328.70M323.02 328.08V328.24M319.20 328.16H323.02M319.20 327.85V328.16M318.90 328.00H319.20M318.90 327.17V328.00M318.60 327.58H318.90M322.18 328.45H328.70M322.18 328.71H328.70M322.18 328.45V328.71M318.60 328.58H322.18M318.60 327.58V328.58M316.50 328.08H318.60M316.50 325.77V328.08M316.20 326.93H316.50M322.45 328.95H328.70M322.45 329.17H328.70M322.45 328.95V329.17M319.26 329.06H322.45M319.86 329.38H328.70M322.25 329.55H328.70M322.25 329.71H328.70M322.25 329.55V329.71M319.86 329.63H322.25M319.86 329.38V329.63M319.56 329.50H319.86M321.44 329.94H328.70M321.44 330.15H328.70M321.44 329.94V330.15M321.14 330.05H321.44M322.83 330.30H328.70M322.83 330.45H328.70M322.83 330.30V330.45M322.53 330.38H322.83M322.53 330.60H328.70M322.53 330.38V330.60M321.14 330.49H322.53M321.14 330.05V330.49M319.56 330.27H321.14M319.56 329.50V330.27M319.26 329.89H319.56M319.26 329.06V329.89M316.20 329.47H319.26M316.20 326.93V329.47M315.90 328.20H316.20M321.94 330.80H328.70M321.94 331.02H328.70M321.94 330.80V331.02M320.17 330.91H321.94M320.17 331.17H328.70M320.17 330.91V331.17M319.87 331.04H320.17M319.87 331.32H328.70M319.87 331.04V331.32M319.57 331.18H319.87M321.04 331.50H328.70M321.04 331.67H328.70M321.04 331.50V331.67M319.87 331.58H321.04M322.15 331.84H328.70M322.15 332.00H328.70M322.15 331.84V332.00M319.87 331.92H322.15M319.87 331.58V331.92M319.57 331.75H319.87M319.57 331.18V331.75M319.27 331.47H319.57M322.19 332.20H328.70M322.19 332.46H328.70M322.19 332.20V332.46M319.27 332.33H322.19M319.27 331.47V332.33M315.90 331.90H319.27M315.90 328.20V331.90M315.60 330.05H315.90M322.97 332.65H328.70M322.97 332.82H328.70M322.97 332.65V332.82M321.96 332.74H322.97M321.96 333.07H328.70M321.96 332.74V333.07M319.31 332.90H321.96M322.87 333.31H328.70M322.87 333.49H328.70M322.87 333.31V333.49M322.57 333.40H322.87M322.57 333.62H328.70M322.57 333.40V333.62M319.61 333.51H322.57M321.57 333.83H328.70M321.57 334.09H328.70M321.57 333.83V334.09M319.61 333.96H321.57M319.61 333.51V333.96M319.31 333.74H319.61M319.31 332.90V333.74M316.20 333.32H319.31M321.10 334.33H328.70M321.10 334.54H328.70M321.10 334.33V334.54M319.24 334.43H321.10M321.98 334.68H328.70M321.98 334.88H328.70M321.98 334.68V334.88M319.54 334.78H321.98M319.54 335.16H328.70M319.54 334.78V335.16M319.24 334.97H319.54M319.24 334.43V334.97M316.20 334.70H319.24M316.20 333.32V334.70M315.90 334.01H316.20M319.70 335.41H328.70M320.00 335.63H328.70M321.11 335.78H328.70M321.11 335.94H328.70M321.11 335.78V335.94M320.35 335.86H321.11M320.35 336.16H328.70M320.35 335.86V336.16M320.00 336.01H320.35M320.00 335.63V336.01M319.70 335.82H320.00M319.70 335.41V335.82M316.50 335.62H319.70M321.99 336.31H328.70M321.99 336.47H328.70M321.99 336.31V336.47M321.24 336.39H321.99M321.24 336.70H328.70M321.24 336.39V336.70M320.94 336.54H321.24M321.24 336.86H328.70M321.24 337.04H328.70M321.24 336.86V337.04M320.94 336.95H321.24M320.94 336.54V336.95M318.89 336.75H320.94M318.89 337.33H328.70M318.89 336.75V337.33M316.50 337.04H318.89M316.50 335.62V337.04M316.20 336.33H316.50M321.73 337.59H328.70M321.73 337.76H328.70M321.73 337.59V337.76M321.14 337.68H321.73M321.44 337.95H328.70M323.35 338.18H328.70M323.35 338.33H328.70M323.35 338.18V338.33M321.44 338.26H323.35M321.44 337.95V338.26M321.14 338.10H321.44M321.14 337.68V338.10M318.04 337.89H321.14M318.04 338.53H328.70M318.04 337.89V338.53M316.80 338.21H318.04M318.94 338.80H328.70M322.01 339.01H328.70M322.01 339.19H328.70M322.01 339.01V339.19M319.24 339.10H322.01M320.91 339.38H328.70M320.91 339.59H328.70M320.91 339.38V339.59M319.24 339.49H320.91M319.24 339.10V339.49M318.94 339.30H319.24M318.94 338.80V339.30M316.80 339.05H318.94M316.80 338.21V339.05M316.50 338.63H316.80M319.39 339.88H328.70M320.65 340.14H328.70M320.65 340.34H328.70M320.65 340.14V340.34M320.35 340.24H320.65M320.35 340.48H328.70M320.35 340.24V340.48M319.39 340.36H320.35M319.39 339.88V340.36M319.04 340.12H319.39M319.04 340.67H328.70M319.04 340.12V340.67M316.50 340.40H319.04M316.50 338.63V340.40M316.20 339.51H316.50M316.20 336.33V339.51M315.90 337.92H316.20M315.90 334.01V337.92M315.60 335.97H315.90M315.60 330.05V335.97M322.32 341.68H328.70M322.32 341.88H328.70M322.32 341.68V341.88M319.30 341.78H322.32M322.33 342.04H328.70M322.63 342.12H328.70M322.63 342.27H328.70M322.63 342.12V342.27M322.33 342.20H322.63M322.33 342.04V342.20M322.03 342.12H322.33M322.03 342.46H328.70M322.03 342.12V342.46M320.39 342.29H322.03M322.29 342.61H328.70M322.29 342.78H328.70M322.29 342.61V342.78M320.39 342.69H322.29M320.39 342.29V342.69M319.30 342.49H320.39M319.30 341.78V342.49M319.00 342.14H319.30M319.60 343.02H328.70M322.01 343.29H328.70M322.01 343.45H328.70M322.01 343.29V343.45M321.71 343.37H322.01M321.71 343.60H328.70M321.71 343.37V343.60M319.60 343.49H321.71M319.60 343.02V343.49M319.30 343.25H319.60M319.60 343.81H328.70M320.20 344.01H328.70M320.20 344.21H328.70M320.20 344.01V344.21M319.90 344.11H320.20M319.90 344.46H328.70M319.90 344.11V344.46M319.60 344.28H319.90M319.60 343.81V344.28M319.30 344.05H319.60M319.30 343.25V344.05M319.00 343.65H319.30M319.00 341.60V343.65M318.07 344.73H328.70M323.13 344.99H328.70M323.13 345.17H328.70M323.13 344.99V345.17M321.91 345.08H323.13M321.91 345.30H328.70M321.91 345.08V345.30M318.07 345.19H321.91M318.07 344.73V345.19M316.30 344.96H318.07M322.22 345.45H328.70M322.22 345.60H328.70M322.22 345.45V345.60M321.92 345.53H322.22M321.92 345.81H328.70M321.92 345.53V345.81M316.30 345.67H321.92M316.30 344.96V345.67M316.00 345.31H316.30M320.44 346.06H328.70M320.44 346.31H328.70M320.44 346.06V346.31M319.22 346.19H320.44M319.22 346.58H328.70M319.22 346.19V346.58M318.92 346.38H319.22M319.22 346.81H328.70M319.22 347.04H328.70M319.22 346.81V347.04M318.92 346.92H319.22M318.92 346.38V346.92M318.62 346.65H318.92M321.54 347.30H328.70M321.54 347.53H328.70M321.54 347.30V347.53M321.24 347.41H321.54M321.24 347.73H328.70M321.24 347.41V347.73M318.62 347.57H321.24M318.62 346.65V347.57M316.00 347.11H318.62M316.00 345.31V347.11M321.27 347.88H328.70M321.27 348.08H328.70M321.27 347.88V348.08M319.43 347.98H321.27M320.18 348.32H328.70M320.18 348.48H328.70M320.18 348.32V348.48M319.43 348.40H320.18M319.43 347.98V348.40M319.13 348.19H319.43M321.45 348.66H328.70M321.45 348.84H328.70M321.45 348.66V348.84M321.15 348.75H321.45M321.45 348.97H328.70M321.45 349.19H328.70M321.45 348.97V349.19M321.15 349.08H321.45M321.15 348.75V349.08M319.13 348.91H321.15M319.13 348.19V348.91M318.83 348.55H319.13M323.04 349.40H328.70M323.04 349.57H328.70M323.04 349.40V349.57M319.13 349.48H323.04M319.13 349.78H328.70M319.13 349.48V349.78M318.83 349.63H319.13M318.83 348.55V349.63M316.30 349.09H318.83M321.36 349.97H328.70M321.66 350.13H328.70M321.66 350.37H328.70M321.66 350.13V350.37M321.36 350.25H321.66M321.36 349.97V350.25M316.30 350.11H321.36M316.30 349.09V350.11M316.00 349.60H316.30M319.25 350.66H328.70M319.25 350.89H328.70M319.25 350.66V350.89M316.30 350.78H319.25M319.55 351.11H328.70M319.85 351.31H328.70M321.08 351.45H328.70M321.08 351.64H328.70M321.08 351.45V351.64M319.85 351.54H321.08M319.85 351.31V351.54M319.55 351.43H319.85M319.55 351.11V351.43M316.60 351.27H319.55M322.04 351.87H328.70M322.04 352.06H328.70M322.04 351.87V352.06M321.74 351.97H322.04M321.74 352.28H328.70M321.74 351.97V352.28M316.60 352.13H321.74M316.60 351.27V352.13M316.30 351.70H316.60M316.30 350.78V351.70M316.00 351.24H316.30M316.00 349.60V351.24M321.28 352.51H328.70M322.64 352.68H328.70M322.94 352.87H328.70M322.94 353.06H328.70M322.94 352.87V353.06M322.64 352.96H322.94M322.64 352.68V352.96M321.28 352.82H322.64M321.28 352.51V352.82M314.97 352.67H321.28M321.14 353.21H328.70M321.14 353.44H328.70M321.14 353.21V353.44M320.84 353.33H321.14M320.84 353.70H328.70M320.84 353.33V353.70M320.54 353.51H320.84M320.84 353.92H328.70M320.84 354.13H328.70M320.84 353.92V354.13M320.54 354.02H320.84M320.54 353.51V354.02M314.97 353.77H320.54M314.97 352.67V353.77M314.30 353.22H314.97M322.61 354.34H328.70M322.61 354.54H328.70M322.61 354.34V354.54M322.31 354.44H322.61M322.31 354.75H328.70M322.31 354.44V354.75M315.45 354.59H322.31M320.53 354.93H328.70M323.39 355.16H328.70M323.39 355.32H328.70M323.39 355.16V355.32M321.13 355.24H323.39M321.43 355.51H328.70M321.43 355.70H328.70M321.43 355.51V355.70M321.13 355.60H321.43M321.13 355.24V355.60M320.83 355.42H321.13M320.83 355.87H328.70M320.83 355.42V355.87M320.53 355.65H320.83M320.53 354.93V355.65M315.45 355.29H320.53M315.45 354.59V355.29M314.30 354.94H315.45M314.30 353.22V354.94M314.00 354.08H314.30M322.18 356.05H328.70M322.18 356.26H328.70M322.18 356.05V356.26M321.88 356.15H322.18M321.88 356.51H328.70M321.88 356.15V356.51M315.49 356.33H321.88M322.80 356.68H328.70M322.80 356.86H328.70M322.80 356.68V356.86M321.11 356.77H322.80M321.11 357.02H328.70M321.11 356.77V357.02M320.81 356.89H321.11M320.81 357.17H328.70M320.81 356.89V357.17M317.14 357.03H320.81M319.16 357.41H328.70M322.04 357.65H328.70M322.04 357.80H328.70M322.04 357.65V357.80M319.16 357.73H322.04M319.16 357.41V357.73M317.44 357.57H319.16M321.19 357.88H328.70M321.19 358.06H328.70M321.19 357.88V358.06M320.71 357.97H321.19M323.08 358.24H328.70M323.08 358.40H328.70M323.08 358.24V358.40M320.71 358.32H323.08M320.71 357.97V358.32M317.44 358.15H320.71M317.44 357.57V358.15M317.14 357.86H317.44M317.14 357.03V357.86M315.49 357.45H317.14M315.49 356.33V357.45M314.00 356.89H315.49M314.00 354.08V356.89M321.62 358.54H328.70M321.62 358.73H328.70M321.62 358.54V358.73M321.32 358.64H321.62M321.62 359.03H328.70M321.62 359.27H328.70M321.62 359.03V359.27M321.32 359.15H321.62M321.32 358.64V359.15M317.50 358.90H321.32M322.33 359.47H328.70M322.33 359.67H328.70M322.33 359.47V359.67M319.97 359.57H322.33M320.47 359.86H328.70M321.55 360.03H328.70M321.85 360.20H328.70M321.85 360.35H328.70M321.85 360.20V360.35M321.55 360.28H321.85M321.55 360.03V360.28M320.47 360.15H321.55M320.47 359.86V360.15M319.97 360.00H320.47M319.97 359.57V360.00M317.50 359.79H319.97M317.50 358.90V359.79M312.79 359.34H317.50M320.54 360.49H328.70M321.97 360.61H328.70M322.35 360.77H328.70M322.35 360.96H328.70M322.35 360.77V360.96M321.97 360.86H322.35M321.97 360.61V360.86M320.54 360.74H321.97M320.54 360.49V360.74M319.05 360.61H320.54M319.05 361.12H328.70M319.05 360.61V361.12M317.33 360.87H319.05M320.77 361.28H328.70M321.07 361.48H328.70M321.07 361.69H328.70M321.07 361.48V361.69M320.77 361.58H321.07M320.77 361.28V361.58M320.47 361.43H320.77M320.47 361.89H328.70M320.47 361.43V361.89M317.33 361.66H320.47M317.33 360.87V361.66M312.79 361.26H317.33M312.79 359.34V361.26M312.30 360.30H312.79M320.72 362.15H328.70M321.02 362.42H328.70M321.02 362.69H328.70M321.02 362.42V362.69M320.72 362.56H321.02M320.72 362.15V362.56M314.68 362.35H320.72M322.60 362.96H328.70M322.60 363.16H328.70M322.60 362.96V363.16M322.30 363.06H322.60M322.30 363.27H328.70M322.30 363.06V363.27M322.00 363.17H322.30M322.00 363.41H328.70M322.00 363.17V363.41M318.72 363.29H322.00M318.72 363.59H328.70M318.72 363.29V363.59M318.42 363.44H318.72M320.08 363.80H328.70M320.08 363.97H328.70M320.08 363.80V363.97M318.42 363.89H320.08M318.42 363.44V363.89M314.68 363.66H318.42M314.68 362.35V363.66M312.60 363.01H314.68M320.29 364.13H328.70M320.29 364.28H328.70M320.29 364.13V364.28M319.82 364.21H320.29M319.82 364.40H328.70M319.82 364.21V364.40M319.50 364.31H319.82M319.80 364.56H328.70M321.65 364.74H328.70M321.65 364.90H328.70M321.65 364.74V364.90M321.19 364.82H321.65M321.19 365.07H328.70M321.19 364.82V365.07M319.80 364.95H321.19M319.80 364.56V364.95M319.50 364.75H319.80M319.50 364.31V364.75M318.34 364.53H319.50M322.98 365.23H328.70M322.98 365.40H328.70M322.98 365.23V365.40M318.94 365.32H322.98M318.94 365.59H328.70M318.94 365.32V365.59M318.64 365.46H318.94M323.02 365.75H328.70M323.02 365.94H328.70M323.02 365.75V365.94M318.94 365.84H323.02M319.61 366.16H328.70M322.38 366.32H328.70M322.68 366.53H328.70M322.68 366.71H328.70M322.68 366.53V366.71M322.38 366.62H322.68M322.38 366.32V366.62M319.61 366.47H322.38M319.61 366.16V366.47M318.94 366.32H319.61M318.94 365.84V366.32M318.64 366.08H318.94M318.64 365.46V366.08M318.34 365.77H318.64M318.34 364.53V365.77M315.96 365.15H318.34M319.33 366.87H328.70M320.06 367.09H328.70M320.06 367.32H328.70M320.06 367.09V367.32M319.63 367.21H320.06M319.63 367.56H328.70M319.63 367.21V367.56M319.33 367.38H319.63M319.33 366.87V367.38M319.03 367.13H319.33M321.18 367.78H328.70M321.48 367.97H328.70M321.48 368.16H328.70M321.48 367.97V368.16M321.18 368.06H321.48M321.18 367.78V368.06M319.33 367.92H321.18M319.33 368.38H328.70M319.33 367.92V368.38M319.03 368.15H319.33M319.03 367.13V368.15M315.96 367.64H319.03M315.96 365.15V367.64M312.60 366.39H315.96M312.60 363.01V366.39M312.30 364.70H312.60M312.30 360.30V364.70M322.61 368.55H328.70M322.91 368.70H328.70M322.91 368.86H328.70M322.91 368.70V368.86M322.61 368.78H322.91M322.61 368.55V368.78M322.31 368.67H322.61M322.31 368.97H328.70M322.31 368.67V368.97M317.99 368.82H322.31M317.99 369.14H328.70M317.99 368.82V369.14M315.78 368.98H317.99M321.31 369.33H328.70M321.31 369.51H328.70M321.31 369.33V369.51M315.78 369.42H321.31M315.78 368.98V369.42M315.10 369.20H315.78M319.47 369.73H328.70M320.99 369.98H328.70M320.99 370.23H328.70M320.99 369.98V370.23M319.47 370.11H320.99M319.47 369.73V370.11M315.10 369.92H319.47M315.10 369.20V369.92M314.80 369.56H315.10M320.05 370.43H328.70M320.05 370.60H328.70M320.05 370.43V370.60M319.30 370.52H320.05M319.30 370.73H328.70M319.30 370.52V370.73M318.13 370.62H319.30M322.03 370.84H328.70M322.33 370.96H328.70M322.33 371.12H328.70M322.33 370.96V371.12M322.03 371.04H322.33M322.03 370.84V371.04M318.13 370.94H322.03M318.13 370.62V370.94M314.80 370.78H318.13M314.80 369.56V370.78M314.50 370.17H314.80M320.41 371.34H328.70M320.41 371.57H328.70M320.41 371.34V371.57M320.11 371.46H320.41M321.14 371.77H328.70M321.14 371.99H328.70M321.14 371.77V371.99M320.41 371.88H321.14M320.71 372.16H328.70M322.12 372.35H328.70M322.12 372.51H328.70M322.12 372.35V372.51M321.01 372.43H322.12M321.01 372.66H328.70M321.01 372.43V372.66M320.71 372.55H321.01M320.71 372.16V372.55M320.41 372.35H320.71M320.41 371.88V372.35M320.11 372.12H320.41M320.11 371.46V372.12M314.50 371.79H320.11M314.50 370.17V371.79M314.20 370.98H314.50M322.05 372.89H328.70M322.05 373.06H328.70M322.05 372.89V373.06M321.59 372.97H322.05M321.59 373.16H328.70M321.59 372.97V373.16M320.60 373.07H321.59M320.60 373.28H328.70M320.60 373.07V373.28M319.04 373.17H320.60M322.70 373.43H328.70M322.70 373.59H328.70M322.70 373.43V373.59M322.40 373.51H322.70M322.40 373.73H328.70M322.40 373.51V373.73M319.04 373.62H322.40M319.04 373.17V373.62M314.50 373.40H319.04M321.81 373.90H328.70M321.81 374.05H328.70M321.81 373.90V374.05M320.09 373.98H321.81M320.09 374.24H328.70M320.09 373.98V374.24M319.31 374.11H320.09M320.39 374.53H328.70M322.78 374.80H328.70M322.78 375.01H328.70M322.78 374.80V375.01M320.39 374.91H322.78M320.39 374.53V374.91M320.09 374.72H320.39M320.66 375.15H328.70M320.66 375.32H328.70M320.66 375.15V375.32M320.09 375.23H320.66M320.09 374.72V375.23M319.31 374.97H320.09M319.31 374.11V374.97M315.34 374.54H319.31M321.32 375.55H328.70M321.32 375.77H328.70M321.32 375.55V375.77M318.50 375.66H321.32M323.06 375.90H328.70M323.06 376.05H328.70M323.06 375.90V376.05M318.50 375.98H323.06M318.50 375.66V375.98M315.64 375.82H318.50M318.09 376.27H328.70M318.74 376.51H328.70M321.72 376.68H328.70M322.02 376.80H328.70M322.02 376.96H328.70M322.02 376.80V376.96M321.72 376.88H322.02M321.72 376.68V376.88M320.68 376.78H321.72M320.68 377.14H328.70M320.68 376.78V377.14M318.74 376.96H320.68M318.74 376.51V376.96M318.09 376.73H318.74M318.09 376.27V376.73M317.79 376.50H318.09M317.79 377.35H328.70M317.79 376.50V377.35M315.64 376.93H317.79M315.64 375.82V376.93M315.34 376.37H315.64M315.34 374.54V376.37M314.50 375.46H315.34M314.50 373.40V375.46M314.20 374.43H314.50M314.20 370.98V374.43M322.76 377.59H328.70M322.76 377.74H328.70M322.76 377.59V377.74M322.46 377.66H322.76M322.46 377.87H328.70M322.46 377.66V377.87M318.16 377.77H322.46M321.06 378.03H328.70M321.66 378.24H328.70M321.66 378.39H328.70M321.66 378.24V378.39M321.36 378.32H321.66M321.36 378.54H328.70M321.36 378.32V378.54M321.06 378.43H321.36M321.06 378.03V378.43M318.16 378.23H321.06M318.16 377.77V378.23M317.86 378.00H318.16M320.34 378.73H328.70M321.51 378.89H328.70M321.81 379.02H328.70M321.81 379.22H328.70M321.81 379.02V379.22M321.51 379.12H321.81M321.51 378.89V379.12M320.34 379.01H321.51M320.34 378.73V379.01M319.69 378.87H320.34M319.69 379.50H328.70M319.69 378.87V379.50M318.16 379.18H319.69M320.23 379.75H328.70M320.53 379.94H328.70M320.53 380.13H328.70M320.53 379.94V380.13M320.23 380.03H320.53M320.23 379.75V380.03M318.16 379.89H320.23M318.16 379.18V379.89M317.86 379.54H318.16M317.86 378.00V379.54M317.20 378.77H317.86M321.91 380.39H328.70M321.91 380.63H328.70M321.91 380.39V380.63M319.32 380.51H321.91M322.43 380.86H328.70M322.43 381.03H328.70M322.43 380.86V381.03M322.13 380.95H322.43M322.13 381.15H328.70M322.13 380.95V381.15M319.62 381.05H322.13M319.94 381.26H328.70M319.94 381.42H328.70M319.94 381.26V381.42M319.62 381.34H319.94M319.62 381.05V381.34M319.32 381.19H319.62M319.32 380.51V381.19M317.20 380.85H319.32M317.20 378.77V380.85M316.90 379.81H317.20M320.17 381.60H328.70M321.42 381.76H328.70M321.42 381.92H328.70M321.42 381.76V381.92M320.17 381.84H321.42M320.17 381.60V381.84M317.53 381.72H320.17M320.86 382.09H328.70M320.86 382.24H328.70M320.86 382.09V382.24M319.04 382.16H320.86M321.52 382.34H328.70M321.82 382.49H328.70M321.82 382.67H328.70M321.82 382.49V382.67M321.52 382.58H321.82M321.52 382.34V382.58M319.04 382.46H321.52M319.04 382.16V382.46M317.53 382.31H319.04M317.53 381.72V382.31M316.90 382.01H317.53M316.90 379.81V382.01M316.60 380.91H316.90M321.90 382.87H328.70M321.90 383.08H328.70M321.90 382.87V383.08M321.48 382.97H321.90M321.78 383.27H328.70M321.78 383.49H328.70M321.78 383.27V383.49M321.48 383.38H321.78M321.48 382.97V383.38M317.20 383.17H321.48M321.87 383.77H328.70M321.87 383.99H328.70M321.87 383.77V383.99M321.57 383.88H321.87M321.87 384.20H328.70M321.87 384.37H328.70M321.87 384.20V384.37M321.57 384.28H321.87M321.57 383.88V384.28M318.20 384.08H321.57M322.04 384.50H328.70M322.04 384.68H328.70M322.04 384.50V384.68M321.21 384.59H322.04M321.72 384.87H328.70M322.02 385.00H328.70M322.02 385.16H328.70M322.02 385.00V385.16M321.72 385.08H322.02M321.72 384.87V385.08M321.21 384.98H321.72M321.21 384.59V384.98M318.82 384.78H321.21M321.76 385.35H328.70M321.76 385.51H328.70M321.76 385.35V385.51M320.99 385.43H321.76M320.99 385.65H328.70M320.99 385.43V385.65M318.82 385.54H320.99M318.82 384.78V385.54M318.20 385.16H318.82M318.20 384.08V385.16M317.62 384.62H318.20M319.60 385.80H328.70M322.07 385.95H328.70M322.07 386.11H328.70M322.07 385.95V386.11M321.77 386.03H322.07M321.77 386.31H328.70M321.77 386.03V386.31M319.60 386.17H321.77M319.60 385.80V386.17M317.62 385.99H319.60M317.62 384.62V385.99M317.20 385.30H317.62M317.20 383.17V385.30M316.90 384.24H317.20M322.86 386.48H328.70M322.86 386.64H328.70M322.86 386.48V386.64M320.84 386.56H322.86M320.84 386.86H328.70M320.84 386.56V386.86M320.54 386.71H320.84M320.54 387.13H328.70M320.54 386.71V387.13M318.53 386.92H320.54M318.53 387.39H328.70M318.53 386.92V387.39M316.90 387.15H318.53M316.90 384.24V387.15M316.60 385.70H316.90M316.60 380.91V385.70M322.37 387.61H328.70M322.37 387.79H328.70M322.37 387.61V387.79M322.07 387.70H322.37M322.07 387.92H328.70M322.07 387.70V387.92M321.77 387.81H322.07M321.77 388.10H328.70M321.77 387.81V388.10M315.60 387.96H321.77M322.36 388.30H328.70M322.36 388.50H328.70M322.36 388.30V388.50M318.94 388.40H322.36M322.57 388.75H328.70M322.57 388.94H328.70M322.57 388.75V388.94M318.94 388.85H322.57M318.94 388.40V388.85M318.64 388.62H318.94M321.42 389.09H328.70M322.60 389.27H328.70M322.60 389.50H328.70M322.60 389.27V389.50M321.42 389.38H322.60M321.42 389.09V389.38M320.11 389.24H321.42M321.40 389.75H328.70M321.40 389.92H328.70M321.40 389.75V389.92M320.41 389.83H321.40M320.41 390.02H328.70M320.41 389.83V390.02M320.11 389.93H320.41M320.11 389.24V389.93M318.64 389.58H320.11M318.64 388.62V389.58M315.90 389.10H318.64M320.94 390.20H328.70M321.95 390.44H328.70M321.95 390.60H328.70M321.95 390.44V390.60M321.65 390.52H321.95M321.65 390.73H328.70M321.65 390.52V390.73M320.94 390.62H321.65M320.94 390.20V390.62M318.15 390.41H320.94M318.15 390.90H328.70M318.15 390.41V390.90M315.90 390.66H318.15M315.90 389.10V390.66M315.60 389.88H315.90M315.60 387.96V389.88M315.30 388.92H315.60M315.60 391.16H328.70M322.08 391.38H328.70M322.08 391.55H328.70M322.08 391.38V391.55M320.00 391.47H322.08M320.30 391.77H328.70M320.90 391.94H328.70M320.90 392.12H328.70M320.90 391.94V392.12M320.60 392.03H320.90M320.60 392.36H328.70M320.60 392.03V392.36M320.30 392.19H320.60M320.30 391.77V392.19M320.00 391.98H320.30M320.00 391.47V391.98M315.60 391.72H320.00M315.60 391.16V391.72M315.30 391.44H315.60M315.30 388.92V391.44M315.00 390.18H315.30M321.56 392.53H328.70M323.25 392.63H328.70M323.25 392.79H328.70M323.25 392.63V392.79M321.56 392.71H323.25M321.56 392.53V392.71M320.64 392.62H321.56M320.94 392.95H328.70M322.29 393.16H328.70M322.29 393.36H328.70M322.29 393.16V393.36M320.94 393.26H322.29M320.94 392.95V393.26M320.64 393.11H320.94M320.64 392.62V393.11M318.44 392.86H320.64M321.62 393.46H328.70M321.62 393.62H328.70M321.62 393.46V393.62M318.44 393.54H321.62M318.44 392.86V393.54M315.30 393.20H318.44M321.29 393.83H328.70M321.29 394.03H328.70M321.29 393.83V394.03M320.99 393.93H321.29M321.80 394.20H328.70M322.10 394.38H328.70M322.10 394.61H328.70M322.10 394.38V394.61M321.80 394.49H322.10M321.80 394.20V394.49M320.99 394.34H321.80M320.99 393.93V394.34M318.43 394.14H320.99M319.51 394.81H328.70M319.51 395.02H328.70M319.51 394.81V395.02M318.43 394.92H319.51M318.43 394.14V394.92M315.60 394.53H318.43M318.79 395.30H328.70M319.48 395.54H328.70M319.48 395.73H328.70M319.48 395.54V395.73M319.09 395.63H319.48M319.09 395.91H328.70M319.09 395.63V395.91M318.79 395.77H319.09M318.79 395.30V395.77M315.60 395.54H318.79M315.60 394.53V395.54M315.30 395.03H315.60M315.30 393.20V395.03M315.00 394.12H315.30M315.00 387.50V394.12M319.38 396.12H328.70M319.98 396.34H328.70M321.36 396.50H328.70M321.36 396.71H328.70M321.36 396.50V396.71M319.98 396.61H321.36M319.98 396.34V396.61M319.68 396.47H319.98M320.26 396.95H328.70M320.26 397.11H328.70M320.26 396.95V397.11M319.68 397.03H320.26M319.68 396.47V397.03M319.38 396.75H319.68M319.38 396.12V396.75M318.60 396.44H319.38M323.36 397.21H328.70M323.36 397.36H328.70M323.36 397.21V397.36M319.78 397.28H323.36M319.78 397.53H328.70M319.78 397.28V397.53M319.48 397.41H319.78M319.48 397.69H328.70M319.48 397.41V397.69M318.60 397.55H319.48M318.60 396.44V397.55M318.30 396.99H318.60M319.20 397.93H328.70M320.44 398.17H328.70M320.44 398.33H328.70M320.44 398.17V398.33M319.20 398.25H320.44M319.20 397.93V398.25M318.60 398.09H319.20M322.49 398.45H328.70M322.79 398.65H328.70M322.79 398.85H328.70M322.79 398.65V398.85M322.49 398.75H322.79M322.49 398.45V398.75M320.32 398.60H322.49M320.32 399.04H328.70M320.32 398.60V399.04M318.60 398.82H320.32M318.60 398.09V398.82M318.30 398.46H318.60M318.30 396.99V398.46M318.00 397.72H318.30M321.15 399.26H328.70M321.45 399.42H328.70M321.45 399.61H328.70M321.45 399.42V399.61M321.15 399.51H321.45M321.15 399.26V399.51M318.30 399.39H321.15M322.58 399.77H328.70M322.88 399.87H328.70M322.88 400.02H328.70M322.88 399.87V400.02M322.58 399.95H322.88M322.58 399.77V399.95M319.80 399.86H322.58M320.10 400.20H328.70M320.10 400.40H328.70M320.10 400.20V400.40M319.80 400.30H320.10M319.80 399.86V400.30M318.60 400.08H319.80M319.48 400.59H328.70M319.48 400.77H328.70M319.48 400.59V400.77M318.90 400.68H319.48M323.03 401.00H328.70M323.03 401.19H328.70M323.03 401.00V401.19M319.82 401.10H323.03M319.82 401.39H328.70M319.82 401.10V401.39M318.90 401.24H319.82M318.90 400.68V401.24M318.60 400.96H318.90M318.60 400.08V400.96M318.30 400.52H318.60M318.30 399.39V400.52M318.00 399.95H318.30M318.00 397.72V399.95M318.60 401.63H328.70M319.56 401.84H328.70M319.96 401.97H328.70M319.96 402.13H328.70M319.96 401.97V402.13M319.56 402.05H319.96M319.56 401.84V402.05M319.20 401.95H319.56M319.20 402.37H328.70M319.20 401.95V402.37M318.90 402.16H319.20M318.90 402.59H328.70M318.90 402.16V402.59M318.60 402.38H318.90M318.60 401.63V402.38M318.30 402.00H318.60M321.91 402.80H328.70M321.91 403.00H328.70M321.91 402.80V403.00M318.90 402.90H321.91M320.08 403.20H328.70M321.65 403.39H328.70M321.65 403.57H328.70M321.65 403.39V403.57M321.35 403.48H321.65M321.35 403.74H328.70M321.35 403.48V403.74M320.08 403.61H321.35M320.08 403.20V403.61M318.90 403.41H320.08M318.90 402.90V403.41M318.60 403.15H318.90M322.10 403.89H328.70M322.40 404.09H328.70M322.40 404.29H328.70M322.40 404.09V404.29M322.10 404.19H322.40M322.10 403.89V404.19M318.60 404.04H322.10M318.60 403.15V404.04M318.30 403.60H318.60M318.30 402.00V403.60M318.00 402.80H318.30M321.24 404.43H328.70M322.62 404.66H328.70M322.62 404.88H328.70M322.62 404.66V404.88M321.54 404.77H322.62M321.54 405.04H328.70M321.54 404.77V405.04M321.24 404.91H321.54M321.24 404.43V404.91M318.60 404.67H321.24M321.95 405.24H328.70M321.95 405.41H328.70M321.95 405.24V405.41M321.65 405.32H321.95M321.95 405.58H328.70M321.95 405.74H328.70M321.95 405.58V405.74M321.65 405.66H321.95M321.65 405.32V405.66M321.35 405.49H321.65M321.35 405.91H328.70M321.35 405.49V405.91M318.60 405.70H321.35M318.60 404.67V405.70M318.30 405.19H318.60M319.75 406.18H328.70M319.75 406.40H328.70M319.75 406.18V406.40M318.60 406.29H319.75M319.07 406.60H328.70M322.77 406.83H328.70M322.77 406.99H328.70M322.77 406.83V406.99M319.37 406.91H322.77M319.37 407.13H328.70M319.37 406.91V407.13M319.07 407.02H319.37M319.07 406.60V407.02M318.60 406.81H319.07M318.60 406.29V406.81M318.30 406.55H318.60M318.30 405.19V406.55M318.00 405.87H318.30M318.00 402.80V405.87M323.04 408.66H328.70M323.04 408.84H328.70M323.04 408.66V408.84M322.74 408.75H323.04M322.74 409.00H328.70M322.74 408.75V409.00M317.20 408.88H322.74M320.25 409.11H328.70M320.25 409.28H328.70M320.25 409.11V409.28M317.20 409.19H320.25M317.20 408.88V409.19M316.09 409.04H317.20M321.22 409.52H328.70M321.82 409.72H328.70M321.82 409.88H328.70M321.82 409.72V409.88M321.52 409.80H321.82M321.52 409.98H328.70M321.52 409.80V409.98M321.22 409.89H321.52M321.22 409.52V409.89M320.92 409.70H321.22M320.92 410.16H328.70M320.92 409.70V410.16M317.47 409.93H320.92M317.77 410.38H328.70M322.08 410.56H328.70M322.38 410.76H328.70M322.38 410.93H328.70M322.38 410.76V410.93M322.08 410.84H322.38M322.08 410.56V410.84M319.44 410.70H322.08M319.44 411.06H328.70M319.44 410.70V411.06M317.77 410.88H319.44M317.77 410.38V410.88M317.47 410.63H317.77M317.47 409.93V410.63M316.39 410.28H317.47M322.77 411.27H328.70M322.77 411.47H328.70M322.77 411.27V411.47M319.21 411.37H322.77M321.98 411.59H328.70M321.98 411.77H328.70M321.98 411.59V411.77M319.21 411.68H321.98M319.21 411.37V411.68M316.39 411.52H319.21M316.39 410.28V411.52M316.09 410.90H316.39M316.09 409.04V410.90M314.50 409.97H316.09M320.32 411.98H328.70M320.62 412.20H328.70M320.62 412.41H328.70M320.62 412.20V412.41M320.32 412.30H320.62M320.32 411.98V412.30M319.23 412.14H320.32M320.70 412.57H328.70M320.70 412.73H328.70M320.70 412.57V412.73M319.23 412.65H320.70M319.23 412.14V412.65M314.80 412.40H319.23M319.24 412.90H328.70M319.24 413.14H328.70M319.24 412.90V413.14M318.23 413.02H319.24M318.23 413.34H328.70M318.23 413.02V413.34M314.80 413.18H318.23M314.80 412.40V413.18M314.50 412.79H314.80M314.50 409.97V412.79M314.20 411.38H314.50M320.47 413.52H328.70M320.47 413.76H328.70M320.47 413.52V413.76M316.61 413.64H320.47M322.82 414.04H328.70M322.82 414.23H328.70M322.82 414.04V414.23M321.22 414.14H322.82M321.22 414.34H328.70M321.22 414.14V414.34M320.92 414.24H321.22M322.57 414.51H328.70M322.57 414.68H328.70M322.57 414.51V414.68M321.22 414.60H322.57M321.22 414.88H328.70M321.22 414.60V414.88M320.92 414.74H321.22M320.92 414.24V414.74M316.61 414.49H320.92M316.61 413.64V414.49M316.31 414.07H316.61M319.64 415.15H328.70M321.75 415.34H328.70M321.75 415.50H328.70M321.75 415.34V415.50M319.64 415.42H321.75M319.64 415.15V415.42M319.34 415.28H319.64M321.54 415.73H328.70M321.54 415.92H328.70M321.54 415.73V415.92M321.24 415.82H321.54M322.18 416.11H328.70M322.18 416.38H328.70M322.18 416.11V416.38M321.24 416.24H322.18M321.24 415.82V416.24M319.34 416.03H321.24M319.34 415.28V416.03M316.31 415.66H319.34M316.31 414.07V415.66M314.20 414.86H316.31M314.20 411.38V414.86M321.37 416.62H328.70M321.37 416.81H328.70M321.37 416.62V416.81M319.95 416.71H321.37M319.95 416.99H328.70M319.95 416.71V416.99M319.65 416.85H319.95M319.65 417.24H328.70M319.65 416.85V417.24M318.14 417.05H319.65M318.14 417.54H328.70M318.14 417.05V417.54M315.85 417.29H318.14M319.86 417.79H328.70M319.86 418.01H328.70M319.86 417.79V418.01M316.46 417.90H319.86M321.87 418.24H328.70M321.87 418.41H328.70M321.87 418.24V418.41M319.46 418.32H321.87M321.63 418.53H328.70M321.63 418.72H328.70M321.63 418.53V418.72M319.46 418.63H321.63M319.46 418.32V418.63M316.46 418.48H319.46M316.46 417.90V418.48M315.85 418.19H316.46M315.85 417.29V418.19M315.55 417.74H315.85M318.82 418.99H328.70M321.15 419.26H328.70M321.15 419.43H328.70M321.15 419.26V419.43M318.82 419.34H321.15M318.82 418.99V419.34M315.55 419.16H318.82M315.55 417.74V419.16M312.50 418.45H315.55M318.63 419.60H328.70M321.65 419.83H328.70M321.65 420.05H328.70M321.65 419.83V420.05M318.63 419.94H321.65M318.63 419.60V419.94M318.33 419.77H318.63M321.75 420.22H328.70M321.75 420.38H328.70M321.75 420.22V420.38M321.04 420.30H321.75M321.04 420.55H328.70M321.04 420.30V420.55M318.33 420.42H321.04M318.33 419.77V420.42M318.03 420.10H318.33M319.64 420.72H328.70M320.36 420.93H328.70M320.36 421.15H328.70M320.36 420.93V421.15M319.64 421.04H320.36M319.64 420.72V421.04M318.03 420.88H319.64M318.03 420.10V420.88M313.02 420.49H318.03M323.10 421.40H328.70M323.10 421.57H328.70M323.10 421.40V421.57M321.24 421.48H323.10M321.24 421.67H328.70M321.24 421.48V421.67M318.99 421.58H321.24M322.23 421.76H328.70M322.23 421.94H328.70M322.23 421.76V421.94M318.99 421.85H322.23M318.99 421.58V421.85M314.29 421.71H318.99M321.92 422.18H328.70M321.92 422.38H328.70M321.92 422.18V422.38M320.80 422.28H321.92M320.80 422.58H328.70M320.80 422.28V422.58M320.50 422.43H320.80M322.94 422.75H328.70M322.94 422.91H328.70M322.94 422.75V422.91M320.50 422.83H322.94M320.50 422.43V422.83M314.29 422.63H320.50M314.29 421.71V422.63M313.02 422.17H314.29M313.02 420.49V422.17M312.50 421.33H313.02M312.50 418.45V421.33M319.44 423.05H328.70M323.26 423.15H328.70M323.26 423.31H328.70M323.26 423.15V423.31M319.44 423.23H323.26M319.44 423.05V423.23M318.53 423.14H319.44M321.33 423.56H328.70M321.33 423.81H328.70M321.33 423.56V423.81M321.03 423.68H321.33M323.14 424.05H328.70M323.14 424.23H328.70M323.14 424.05V424.23M321.03 424.14H323.14M321.03 423.68V424.14M318.83 423.91H321.03M318.83 424.44H328.70M318.83 423.91V424.44M318.53 424.18H318.83M318.53 423.14V424.18M314.65 423.66H318.53M321.61 424.70H328.70M321.91 424.97H328.70M321.91 425.17H328.70M321.91 424.97V425.17M321.61 425.07H321.91M321.61 424.70V425.07M318.18 424.89H321.61M321.07 425.32H328.70M321.07 425.55H328.70M321.07 425.32V425.55M318.18 425.44H321.07M318.18 424.89V425.44M317.88 425.16H318.18M320.99 425.82H328.70M320.99 425.99H328.70M320.99 425.82V425.99M317.88 425.90H320.99M317.88 425.16V425.90M314.65 425.53H317.88M314.65 423.66V425.53M314.35 424.60H314.65M323.42 426.10H328.70M323.42 426.25H328.70M323.42 426.10V426.25M318.77 426.17H323.42M319.90 426.46H328.70M321.43 426.68H328.70M321.43 426.84H328.70M321.43 426.68V426.84M321.13 426.76H321.43M321.13 427.00H328.70M321.13 426.76V427.00M319.90 426.88H321.13M319.90 426.46V426.88M318.77 426.67H319.90M318.77 426.17V426.67M318.47 426.42H318.77M320.50 427.16H328.70M320.50 427.32H328.70M320.50 427.16V427.32M318.47 427.24H320.50M318.47 426.42V427.24M315.20 426.83H318.47M319.64 427.49H328.70M319.64 427.68H328.70M319.64 427.49V427.68M319.24 427.58H319.64M319.24 427.87H328.70M319.24 427.58V427.87M318.35 427.73H319.24M322.44 428.01H328.70M322.44 428.22H328.70M322.44 428.01V428.22M318.35 428.11H322.44M318.35 427.73V428.11M317.32 427.92H318.35M319.24 428.45H328.70M320.75 428.64H328.70M320.75 428.80H328.70M320.75 428.64V428.80M319.24 428.72H320.75M319.24 428.45V428.72M317.32 428.59H319.24M317.32 427.92V428.59M315.20 428.25H317.32M315.20 426.83V428.25M314.90 427.54H315.20M318.66 428.94H328.70M320.16 429.13H328.70M320.16 429.37H328.70M320.16 429.13V429.37M318.66 429.25H320.16M318.66 428.94V429.25M315.20 429.10H318.66M320.66 429.63H328.70M320.66 429.92H328.70M320.66 429.63V429.92M318.58 429.77H320.66M322.29 430.19H328.70M322.29 430.43H328.70M322.29 430.19V430.43M320.28 430.31H322.29M320.58 430.68H328.70M321.62 430.89H328.70M321.62 431.05H328.70M321.62 430.89V431.05M320.58 430.97H321.62M320.58 430.68V430.97M320.28 430.82H320.58M320.28 430.31V430.82M318.58 430.57H320.28M318.58 429.77V430.57M315.20 430.17H318.58M315.20 429.10V430.17M314.90 429.63H315.20M314.90 427.54V429.63M314.35 428.59H314.90M314.35 424.60V428.59M309.60 426.59H314.35M319.21 431.22H328.70M320.97 431.41H328.70M320.97 431.61H328.70M320.97 431.41V431.61M319.21 431.51H320.97M319.21 431.22V431.51M316.64 431.36H319.21M321.39 431.82H328.70M322.08 432.05H328.70M322.08 432.25H328.70M322.08 432.05V432.25M321.39 432.15H322.08M321.39 431.82V432.15M316.64 431.99H321.39M316.64 431.36V431.99M316.34 431.68H316.64M319.57 432.37H328.70M320.80 432.46H328.70M320.80 432.63H328.70M320.80 432.46V432.63M319.57 432.55H320.80M319.57 432.37V432.55M318.53 432.46H319.57M321.24 432.83H328.70M321.24 433.01H328.70M321.24 432.83V433.01M318.53 432.92H321.24M318.53 432.46V432.92M318.23 432.69H318.53M322.24 433.17H328.70M322.54 433.33H328.70M322.54 433.52H328.70M322.54 433.33V433.52M322.24 433.42H322.54M322.24 433.17V433.42M319.72 433.30H322.24M319.72 433.74H328.70M319.72 433.30V433.74M318.23 433.52H319.72M318.23 432.69V433.52M316.64 433.11H318.23M320.50 433.96H328.70M320.95 434.18H328.70M320.95 434.39H328.70M320.95 434.18V434.39M320.50 434.28H320.95M320.50 433.96V434.28M316.64 434.12H320.50M316.64 433.11V434.12M316.34 433.61H316.64M316.34 431.68V433.61M309.90 432.64H316.34M321.67 434.60H328.70M321.67 434.79H328.70M321.67 434.60V434.79M320.23 434.70H321.67M320.83 434.89H328.70M320.83 435.04H328.70M320.83 434.89V435.04M320.53 434.97H320.83M322.77 435.20H328.70M322.77 435.38H328.70M322.77 435.20V435.38M320.53 435.29H322.77M320.53 434.97V435.29M320.23 435.13H320.53M320.23 434.70V435.13M317.68 434.91H320.23M317.68 435.67H328.70M317.68 434.91V435.67M317.38 435.29H317.68M319.32 435.95H328.70M320.99 436.21H328.70M320.99 436.48H328.70M320.99 436.21V436.48M319.32 436.34H320.99M319.32 435.95V436.34M317.38 436.15H319.32M317.38 435.29V436.15M317.08 435.72H317.38M322.38 436.70H328.70M322.38 436.87H328.70M322.38 436.70V436.87M322.08 436.79H322.38M322.08 437.03H328.70M322.08 436.79V437.03M318.17 436.91H322.08M322.38 437.17H328.70M322.38 437.36H328.70M322.38 437.17V437.36M322.08 437.26H322.38M322.08 437.55H328.70M322.08 437.26V437.55M320.88 437.40H322.08M320.88 437.68H328.70M320.88 437.40V437.68M318.17 437.54H320.88M318.17 436.91V437.54M317.08 437.23H318.17M317.08 435.72V437.23M310.20 436.47H317.08M321.60 437.85H328.70M321.90 438.00H328.70M322.20 438.13H328.70M322.20 438.29H328.70M322.20 438.13V438.29M321.90 438.21H322.20M321.90 438.00V438.21M321.60 438.10H321.90M321.60 437.85V438.10M319.36 437.97H321.60M321.26 438.48H328.70M321.26 438.70H328.70M321.26 438.48V438.70M319.36 438.59H321.26M319.36 437.97V438.59M319.06 438.28H319.36M320.19 438.90H328.70M320.19 439.05H328.70M320.19 438.90V439.05M319.36 438.97H320.19M319.66 439.25H328.70M322.05 439.51H328.70M322.05 439.71H328.70M322.05 439.51V439.71M319.96 439.61H322.05M319.96 439.88H328.70M319.96 439.61V439.88M319.66 439.75H319.96M319.66 439.25V439.75M319.36 439.50H319.66M319.36 438.97V439.50M319.06 439.24H319.36M319.06 438.28V439.24M312.55 438.76H319.06M322.35 440.07H328.70M322.65 440.20H328.70M322.65 440.40H328.70M322.65 440.20V440.40M322.35 440.30H322.65M322.35 440.07V440.30M322.05 440.18H322.35M322.05 440.59H328.70M322.05 440.18V440.59M319.94 440.39H322.05M319.94 440.81H328.70M319.94 440.39V440.81M314.07 440.60H319.94M321.31 441.06H328.70M321.31 441.21H328.70M321.31 441.06V441.21M321.01 441.14H321.31M321.31 441.34H328.70M321.31 441.56H328.70M321.31 441.34V441.56M321.01 441.45H321.31M321.01 441.14V441.45M316.99 441.29H321.01M316.99 441.85H328.70M316.99 441.29V441.85M314.07 441.57H316.99M314.07 440.60V441.57M312.55 441.09H314.07M312.55 438.76V441.09M310.20 439.92H312.55M310.20 436.47V439.92M309.90 438.20H310.20M309.90 432.64V438.20M309.60 435.42H309.90M309.60 426.59V436.10M318.84 442.11H328.70M320.16 442.32H328.70M320.16 442.51H328.70M320.16 442.32V442.51M319.14 442.42H320.16M322.55 442.70H328.70M322.55 442.90H328.70M322.55 442.70V442.90M319.14 442.80H322.55M319.14 442.42V442.80M318.84 442.61H319.14M318.84 442.11V442.61M315.16 442.36H318.84M319.63 443.12H328.70M319.63 443.31H328.70M319.63 443.12V443.31M318.23 443.21H319.63M321.70 443.46H328.70M321.70 443.66H328.70M321.70 443.46V443.66M321.40 443.56H321.70M322.25 443.87H328.70M322.25 444.10H328.70M322.25 443.87V444.10M321.40 443.99H322.25M321.40 443.56V443.99M318.23 443.77H321.40M318.23 443.21V443.77M317.93 443.49H318.23M321.02 444.38H328.70M321.02 444.60H328.70M321.02 444.38V444.60M320.29 444.49H321.02M320.59 444.81H328.70M320.59 445.04H328.70M320.59 444.81V445.04M320.29 444.93H320.59M320.29 444.49V444.93M318.23 444.71H320.29M322.22 445.27H328.70M322.22 445.44H328.70M322.22 445.27V445.44M320.47 445.35H322.22M321.65 445.56H328.70M321.95 445.74H328.70M321.95 445.90H328.70M321.95 445.74V445.90M321.65 445.82H321.95M321.65 445.56V445.82M321.35 445.69H321.65M321.65 446.01H328.70M321.65 446.18H328.70M321.65 446.01V446.18M321.35 446.09H321.65M321.35 445.69V446.09M320.47 445.89H321.35M320.47 445.35V445.89M318.23 445.62H320.47M318.23 444.71V445.62M317.93 445.17H318.23M317.93 443.49V445.17M315.16 444.33H317.93M315.16 442.36V444.33M312.49 443.34H315.16M321.24 446.41H328.70M321.24 446.56H328.70M321.24 446.41V446.56M319.26 446.49H321.24M319.56 446.66H328.70M319.86 446.80H328.70M319.86 446.98H328.70M319.86 446.80V446.98M319.56 446.89H319.86M319.56 446.66V446.89M319.26 446.78H319.56M319.26 446.49V446.78M317.48 446.63H319.26M322.16 447.19H328.70M322.46 447.34H328.70M322.46 447.52H328.70M322.46 447.34V447.52M322.16 447.43H322.46M322.16 447.19V447.43M319.01 447.31H322.16M320.51 447.74H328.70M320.51 447.98H328.70M320.51 447.74V447.98M319.31 447.86H320.51M321.11 448.17H328.70M321.41 448.28H328.70M321.41 448.44H328.70M321.41 448.28V448.44M321.11 448.36H321.41M321.11 448.17V448.36M319.61 448.26H321.11M319.61 448.62H328.70M319.61 448.26V448.62M319.31 448.44H319.61M319.31 447.86V448.44M319.01 448.15H319.31M319.01 447.31V448.15M317.48 447.73H319.01M317.48 446.63V447.73M313.11 447.18H317.48M320.57 448.77H328.70M320.87 448.99H328.70M320.87 449.23H328.70M320.87 448.99V449.23M320.57 449.11H320.87M320.57 448.77V449.11M320.27 448.94H320.57M320.27 449.43H328.70M320.27 448.94V449.43M319.97 449.19H320.27M319.97 449.68H328.70M319.97 449.19V449.68M319.67 449.43H319.97M320.93 449.86H328.70M321.26 449.99H328.70M321.26 450.14H328.70M321.26 449.99V450.14M320.93 450.07H321.26M320.93 449.86V450.07M319.67 449.97H320.93M319.67 449.43V449.97M315.52 449.70H319.67M322.58 450.35H328.70M322.58 450.57H328.70M322.58 450.35V450.57M316.82 450.46H322.58M320.80 450.76H328.70M321.10 450.91H328.70M321.10 451.09H328.70M321.10 450.91V451.09M320.80 451.00H321.10M320.80 450.76V451.00M316.82 450.88H320.80M316.82 450.46V450.88M315.52 450.67H316.82M315.52 449.70V450.67M315.22 450.18H315.52M321.35 451.29H328.70M321.65 451.45H328.70M321.95 451.57H328.70M321.95 451.73H328.70M321.95 451.57V451.73M321.65 451.65H321.95M321.65 451.45V451.65M321.35 451.55H321.65M321.35 451.29V451.55M318.94 451.42H321.35M321.68 451.92H328.70M321.68 452.11H328.70M321.68 451.92V452.11M320.45 452.01H321.68M320.75 452.29H328.70M321.05 452.44H328.70M321.05 452.61H328.70M321.05 452.44V452.61M320.75 452.52H321.05M320.75 452.29V452.52M320.45 452.40H320.75M320.45 452.01V452.40M318.94 452.21H320.45M318.94 451.42V452.21M318.64 451.81H318.94M319.66 452.79H328.70M321.50 452.98H328.70M321.50 453.13H328.70M321.50 452.98V453.13M320.10 453.06H321.50M320.10 453.29H328.70M320.10 453.06V453.29M319.66 453.17H320.10M319.66 452.79V453.17M318.64 452.98H319.66M318.64 451.81V452.98M318.34 452.40H318.64M319.97 453.51H328.70M321.33 453.73H328.70M321.33 453.89H328.70M321.33 453.73V453.89M319.97 453.81H321.33M319.97 453.51V453.81M318.34 453.66H319.97M318.34 452.40V453.66M315.22 453.03H318.34M315.22 450.18V453.03M313.11 451.61H315.22M313.11 447.18V451.61M312.49 449.39H313.11M312.49 443.34V449.39M311.70 446.37H312.49M320.21 454.09H328.70M322.72 454.28H328.70M322.72 454.45H328.70M322.72 454.28V454.45M320.51 454.37H322.72M320.81 454.66H328.70M321.11 454.85H328.70M321.11 455.04H328.70M321.11 454.85V455.04M320.81 454.94H321.11M320.81 454.66V454.94M320.51 454.80H320.81M320.51 454.37V454.80M320.21 454.59H320.51M320.21 454.09V454.59M316.31 454.34H320.21M321.12 455.22H328.70M321.42 455.38H328.70M321.42 455.55H328.70M321.42 455.38V455.55M321.12 455.47H321.42M321.12 455.22V455.47M316.31 455.34H321.12M316.31 454.34V455.34M312.63 454.84H316.31M322.01 455.70H328.70M322.01 455.89H328.70M322.01 455.70V455.89M319.49 455.79H322.01M319.49 456.14H328.70M319.49 455.79V456.14M316.47 455.96H319.49M319.25 456.36H328.70M323.21 456.55H328.70M323.21 456.71H328.70M323.21 456.55V456.71M319.25 456.63H323.21M319.25 456.36V456.63M316.47 456.50H319.25M316.47 455.96V456.50M313.72 456.23H316.47M318.27 456.95H328.70M321.10 457.23H328.70M321.10 457.41H328.70M321.10 457.23V457.41M318.27 457.32H321.10M318.27 456.95V457.32M313.72 457.14H318.27M313.72 456.23V457.14M312.93 456.68H313.72M322.64 457.56H328.70M322.64 457.75H328.70M322.64 457.56V457.75M321.34 457.66H322.64M321.64 457.90H328.70M321.94 458.10H328.70M321.94 458.29H328.70M321.94 458.10V458.29M321.64 458.20H321.94M321.64 457.90V458.20M321.34 458.05H321.64M321.34 457.66V458.05M317.34 457.85H321.34M321.90 458.42H328.70M321.90 458.61H328.70M321.90 458.42V458.61M319.35 458.52H321.90M319.35 458.79H328.70M319.35 458.52V458.79M319.05 458.65H319.35M322.25 458.91H328.70M322.25 459.08H328.70M322.25 458.91V459.08M319.05 458.99H322.25M319.05 458.65V458.99M317.64 458.82H319.05M321.81 459.28H328.70M321.81 459.48H328.70M321.81 459.28V459.48M321.51 459.38H321.81M321.51 459.72H328.70M321.51 459.38V459.72M317.94 459.55H321.51M319.61 459.92H328.70M320.51 460.03H328.70M320.51 460.22H328.70M320.51 460.03V460.22M319.61 460.12H320.51M319.61 459.92V460.12M317.94 460.02H319.61M317.94 459.55V460.02M317.64 459.79H317.94M317.64 458.82V459.79M317.34 459.30H317.64M317.34 457.85V459.30M312.93 458.58H317.34M312.93 456.68V458.58M312.63 457.63H312.93M312.63 454.84V457.63M312.00 456.24H312.63M322.27 460.50H328.70M322.27 460.70H328.70M322.27 460.50V460.70M315.82 460.60H322.27M321.11 460.89H328.70M321.11 461.09H328.70M321.11 460.89V461.09M320.81 460.99H321.11M321.69 461.21H328.70M321.99 461.36H328.70M322.43 461.47H328.70M322.43 461.62H328.70M322.43 461.47V461.62M321.99 461.54H322.43M321.99 461.36V461.54M321.69 461.45H321.99M321.69 461.21V461.45M320.81 461.33H321.69M320.81 460.99V461.33M315.82 461.16H320.81M315.82 460.60V461.16M312.95 460.88H315.82M319.05 461.83H328.70M321.99 462.00H328.70M322.29 462.20H328.70M322.29 462.37H328.70M322.29 462.20V462.37M321.99 462.28H322.29M321.99 462.00V462.28M321.69 462.14H321.99M321.69 462.51H328.70M321.69 462.14V462.51M319.05 462.33H321.69M319.05 461.83V462.33M318.75 462.08H319.05M319.90 462.72H328.70M319.90 462.92H328.70M319.90 462.72V462.92M318.75 462.82H319.90M318.75 462.08V462.82M312.95 462.45H318.75M312.95 460.88V462.45M312.00 461.67H312.95M312.00 456.24V461.67M311.70 458.95H312.00M311.70 446.37V458.95M320.19 463.08H328.70M322.12 463.21H328.70M322.12 463.37H328.70M322.12 463.21V463.37M320.19 463.29H322.12M320.19 463.08V463.29M318.08 463.18H320.19M319.88 463.61H328.70M319.88 463.85H328.70M319.88 463.61V463.85M318.81 463.73H319.88M321.55 464.05H328.70M321.55 464.26H328.70M321.55 464.05V464.26M321.25 464.15H321.55M321.25 464.50H328.70M321.25 464.15V464.50M318.81 464.33H321.25M318.81 463.73V464.33M318.08 464.03H318.81M318.08 463.18V464.03M313.29 463.61H318.08M321.91 464.70H328.70M322.21 464.89H328.70M322.21 465.09H328.70M322.21 464.89V465.09M321.91 464.99H322.21M321.91 464.70V464.99M321.61 464.85H321.91M321.61 465.28H328.70M321.61 464.85V465.28M313.29 465.07H321.61M313.29 463.61V465.07M309.90 464.34H313.29M320.31 465.49H328.70M322.16 465.66H328.70M322.16 465.85H328.70M322.16 465.66V465.85M320.61 465.75H322.16M320.61 466.05H328.70M320.61 465.75V466.05M320.31 465.90H320.61M320.31 465.49V465.90M314.55 465.70H320.31M321.13 466.21H328.70M321.43 466.40H328.70M321.43 466.65H328.70M321.43 466.40V466.65M321.13 466.52H321.43M321.13 466.21V466.52M320.83 466.37H321.13M321.34 466.87H328.70M321.34 467.03H328.70M321.34 466.87V467.03M320.83 466.95H321.34M320.83 466.37V466.95M315.25 466.66H320.83M321.86 467.19H328.70M321.86 467.41H328.70M321.86 467.19V467.41M317.21 467.30H321.86M319.42 467.66H328.70M319.42 467.88H328.70M319.42 467.66V467.88M317.21 467.77H319.42M317.21 467.30V467.77M315.25 467.53H317.21M315.25 466.66V467.53M314.55 467.09H315.25M314.55 465.70V467.09M309.90 466.39H314.55M309.90 464.34V466.39M307.80 465.37H309.90M322.47 468.05H328.70M322.77 468.21H328.70M322.77 468.40H328.70M322.77 468.21V468.40M322.47 468.30H322.77M322.47 468.05V468.30M317.27 468.18H322.47M322.81 468.58H328.70M322.81 468.76H328.70M322.81 468.58V468.76M320.82 468.67H322.81M320.82 468.91H328.70M320.82 468.67V468.91M318.58 468.79H320.82M320.55 469.07H328.70M320.55 469.22H328.70M320.55 469.07V469.22M318.58 469.15H320.55M318.58 468.79V469.15M317.27 468.97H318.58M317.27 468.18V468.97M316.97 468.57H317.27M320.84 469.41H328.70M320.84 469.62H328.70M320.84 469.41V469.62M316.97 469.52H320.84M316.97 468.57V469.52M314.10 469.05H316.97M321.23 469.85H328.70M321.53 470.08H328.70M321.53 470.27H328.70M321.53 470.08V470.27M321.23 470.17H321.53M321.23 469.85V470.17M320.43 470.01H321.23M320.43 470.52H328.70M320.43 470.01V470.52M320.13 470.27H320.43M320.77 470.77H328.70M320.77 470.99H328.70M320.77 470.77V470.99M320.43 470.88H320.77M320.43 471.17H328.70M320.43 470.88V471.17M320.13 471.03H320.43M320.13 470.27V471.03M314.10 470.65H320.13M314.10 469.05V470.65M307.80 469.85H314.10M307.80 465.37V469.85M307.50 467.61H307.80M318.91 471.38H328.70M322.19 471.60H328.70M322.19 471.80H328.70M322.19 471.60V471.80M321.89 471.70H322.19M321.89 472.04H328.70M321.89 471.70V472.04M321.59 471.87H321.89M321.59 472.25H328.70M321.59 471.87V472.25M318.91 472.06H321.59M318.91 471.38V472.06M315.06 471.72H318.91M319.80 472.50H328.70M321.20 472.72H328.70M321.20 472.87H328.70M321.20 472.72V472.87M319.80 472.79H321.20M319.80 472.50V472.79M318.69 472.65H319.80M322.72 473.06H328.70M322.72 473.27H328.70M322.72 473.06V473.27M318.69 473.16H322.72M318.69 472.65V473.16M318.09 472.90H318.69M321.73 473.48H328.70M321.73 473.71H328.70M321.73 473.48V473.71M318.39 473.59H321.73M318.39 473.94H328.70M318.39 473.59V473.94M318.09 473.77H318.39M318.09 472.90V473.77M315.06 473.34H318.09M315.06 471.72V473.34M312.91 472.53H315.06M320.58 474.10H328.70M320.58 474.26H328.70M320.58 474.10V474.26M319.98 474.18H320.58M319.98 474.50H328.70M319.98 474.18V474.50M319.68 474.34H319.98M321.55 474.75H328.70M321.55 474.97H328.70M321.55 474.75V474.97M319.68 474.86H321.55M319.68 474.34V474.86M319.38 474.60H319.68M322.00 475.16H328.70M322.00 475.33H328.70M322.00 475.16V475.33M321.26 475.24H322.00M323.13 475.52H328.70M323.13 475.67H328.70M323.13 475.52V475.67M321.26 475.59H323.13M321.26 475.24V475.59M319.38 475.42H321.26M319.38 474.60V475.42M312.91 475.01H319.38M312.91 472.53V475.01M307.80 473.77H312.91M321.91 475.83H328.70M322.21 476.08H328.70M322.21 476.27H328.70M322.21 476.08V476.27M321.91 476.18H322.21M321.91 475.83V476.18M320.41 476.00H321.91M322.74 476.41H328.70M322.74 476.57H328.70M322.74 476.41V476.57M320.41 476.49H322.74M320.41 476.00V476.49M320.11 476.25H320.41M320.11 476.76H328.70M320.11 476.25V476.76M316.82 476.51H320.11M320.71 476.95H328.70M320.71 477.12H328.70M320.71 476.95V477.12M319.65 477.03H320.71M319.95 477.29H328.70M322.73 477.39H328.70M322.73 477.57H328.70M322.73 477.39V477.57M320.49 477.48H322.73M320.49 477.78H328.70M320.49 477.48V477.78M319.95 477.63H320.49M319.95 477.29V477.63M319.65 477.46H319.95M319.65 477.03V477.46M317.12 477.24H319.65M321.04 477.88H328.70M321.04 478.06H328.70M321.04 477.88V478.06M317.42 477.97H321.04M323.10 478.28H328.70M323.10 478.46H328.70M323.10 478.28V478.46M319.34 478.37H323.10M321.03 478.69H328.70M321.03 478.91H328.70M321.03 478.69V478.91M319.34 478.80H321.03M319.34 478.37V478.80M317.42 478.59H319.34M317.42 477.97V478.59M317.12 478.28H317.42M317.12 477.24V478.28M316.82 477.76H317.12M316.82 476.51V477.76M312.14 477.13H316.82M321.20 479.14H328.70M321.20 479.30H328.70M321.20 479.14V479.30M317.50 479.22H321.20M320.06 479.45H328.70M320.06 479.68H328.70M320.06 479.45V479.68M317.50 479.56H320.06M317.50 479.22V479.56M314.27 479.39H317.50M323.02 479.92H328.70M323.02 480.10H328.70M323.02 479.92V480.10M321.69 480.01H323.02M321.69 480.25H328.70M321.69 480.01V480.25M321.39 480.13H321.69M321.69 480.36H328.70M321.69 480.53H328.70M321.69 480.36V480.53M321.39 480.44H321.69M321.39 480.13V480.44M314.57 480.29H321.39M319.90 480.76H328.70M319.90 480.95H328.70M319.90 480.76V480.95M319.60 480.86H319.90M319.60 481.11H328.70M319.60 480.86V481.11M318.67 480.98H319.60M322.98 481.30H328.70M322.98 481.48H328.70M322.98 481.30V481.48M318.67 481.39H322.98M318.67 480.98V481.39M318.37 481.19H318.67M322.76 481.61H328.70M323.06 481.75H328.70M323.06 481.91H328.70M323.06 481.75V481.91M322.76 481.83H323.06M322.76 481.61V481.83M318.37 481.72H322.76M318.37 481.19V481.72M314.57 481.45H318.37M314.57 480.29V481.45M314.27 480.87H314.57M314.27 479.39V480.87M313.97 480.13H314.27M322.21 482.05H328.70M322.21 482.24H328.70M322.21 482.05V482.24M321.04 482.15H322.21M322.48 482.48H328.70M322.48 482.64H328.70M322.48 482.48V482.64M321.04 482.56H322.48M321.04 482.15V482.56M319.45 482.36H321.04M319.45 482.77H328.70M319.45 482.36V482.77M319.15 482.56H319.45M319.15 483.02H328.70M319.15 482.56V483.02M318.85 482.79H319.15M322.48 483.24H328.70M322.87 483.37H328.70M322.87 483.52H328.70M322.87 483.37V483.52M322.48 483.45H322.87M322.48 483.24V483.45M319.15 483.34H322.48M321.42 483.70H328.70M321.42 483.89H328.70M321.42 483.70V483.89M319.15 483.80H321.42M319.15 483.34V483.80M318.85 483.57H319.15M318.85 482.79V483.57M313.97 483.18H318.85M313.97 480.13V483.18M312.14 481.66H313.97M312.14 477.13V481.66M307.80 479.39H312.14M307.80 473.77V479.39M307.50 476.58H307.80M307.50 467.61V478.00M322.01 484.06H328.70M322.31 484.23H328.70M322.31 484.41H328.70M322.31 484.23V484.41M322.01 484.32H322.31M322.01 484.06V484.32M320.31 484.19H322.01M322.68 484.57H328.70M322.68 484.77H328.70M322.68 484.57V484.77M320.31 484.67H322.68M320.31 484.19V484.67M316.72 484.43H320.31M321.15 484.97H328.70M321.15 485.15H328.70M321.15 484.97V485.15M320.85 485.06H321.15M321.45 485.29H328.70M321.45 485.48H328.70M321.45 485.29V485.48M321.15 485.38H321.45M321.15 485.68H328.70M321.15 485.38V485.68M320.85 485.53H321.15M320.85 485.06V485.53M316.72 485.30H320.85M316.72 484.43V485.30M311.42 484.86H316.72M319.37 485.85H328.70M319.37 486.05H328.70M319.37 485.85V486.05M317.72 485.95H319.37M320.38 486.24H328.70M320.38 486.40H328.70M320.38 486.24V486.40M317.72 486.32H320.38M317.72 485.95V486.32M313.45 486.13H317.72M320.77 486.55H328.70M321.07 486.71H328.70M321.07 486.92H328.70M321.07 486.71V486.92M320.77 486.81H321.07M320.77 486.55V486.81M317.46 486.68H320.77M322.69 487.13H328.70M322.69 487.31H328.70M322.69 487.13V487.31M317.46 487.22H322.69M317.46 486.68V487.22M316.60 486.95H317.46M321.11 487.53H328.70M321.11 487.78H328.70M321.11 487.53V487.78M316.60 487.65H321.11M316.60 486.95V487.65M313.45 487.30H316.60M313.45 486.13V487.30M311.42 486.72H313.45M311.42 484.86V486.72M306.00 485.79H311.42M323.27 487.98H328.70M323.27 488.14H328.70M323.27 487.98V488.14M320.62 488.06H323.27M320.62 488.24H328.70M320.62 488.06V488.24M314.37 488.15H320.62M321.71 488.41H328.70M321.71 488.57H328.70M321.71 488.41V488.57M321.41 488.49H321.71M321.41 488.71H328.70M321.41 488.49V488.71M321.11 488.60H321.41M321.41 488.86H328.70M321.41 489.04H328.70M321.41 488.86V489.04M321.11 488.95H321.41M321.11 488.60V488.95M318.41 488.78H321.11M321.23 489.28H328.70M321.23 489.54H328.70M321.23 489.28V489.54M319.36 489.41H321.23M319.36 489.80H328.70M319.36 489.41V489.80M318.41 489.61H319.36M318.41 488.78V489.61M314.37 489.19H318.41M314.37 488.15V489.19M314.07 488.67H314.37M318.06 490.01H328.70M322.12 490.21H328.70M322.42 490.38H328.70M322.42 490.55H328.70M322.42 490.38V490.55M322.12 490.46H322.42M322.12 490.21V490.46M318.06 490.34H322.12M318.06 490.01V490.34M314.07 490.17H318.06M314.07 488.67V490.17M313.77 489.42H314.07M321.74 490.73H328.70M322.04 490.90H328.70M322.04 491.12H328.70M322.04 490.90V491.12M321.74 491.01H322.04M321.74 490.73V491.01M321.44 490.87H321.74M321.44 491.36H328.70M321.44 490.87V491.36M317.55 491.11H321.44M319.45 491.53H328.70M321.63 491.64H328.70M321.93 491.72H328.70M321.93 491.88H328.70M321.93 491.72V491.88M321.63 491.80H321.93M321.63 491.64V491.80M319.45 491.72H321.63M319.45 491.53V491.72M317.55 491.62H319.45M317.55 491.11V491.62M313.77 491.37H317.55M313.77 489.42V491.37M306.00 490.40H313.77M306.00 485.79V490.40M320.19 492.14H328.70M322.95 492.40H328.70M322.95 492.59H328.70M322.95 492.40V492.59M320.49 492.49H322.95M323.05 492.78H328.70M323.05 492.94H328.70M323.05 492.78V492.94M320.49 492.86H323.05M320.49 492.49V492.86M320.19 492.68H320.49M320.19 492.14V492.68M317.80 492.41H320.19M323.27 493.08H328.70M323.27 493.25H328.70M323.27 493.08V493.25M318.10 493.16H323.27M319.96 493.44H328.70M321.80 493.59H328.70M321.80 493.77H328.70M321.80 493.59V493.77M319.96 493.68H321.80M319.96 493.44V493.68M318.10 493.56H319.96M318.10 493.16V493.56M317.80 493.36H318.10M317.80 492.41V493.36M310.79 492.88H317.80M319.26 494.02H328.70M322.56 494.25H328.70M322.56 494.47H328.70M322.56 494.25V494.47M319.26 494.36H322.56M319.26 494.02V494.36M316.79 494.19H319.26M320.79 494.72H328.70M320.79 495.00H328.70M320.79 494.72V495.00M320.49 494.86H320.79M320.49 495.24H328.70M320.49 494.86V495.24M319.32 495.05H320.49M320.60 495.47H328.70M320.60 495.73H328.70M320.60 495.47V495.73M319.32 495.60H320.60M319.32 495.05V495.60M316.79 495.33H319.32M316.79 494.19V495.33M311.09 494.76H316.79M321.73 495.97H328.70M321.73 496.16H328.70M321.73 495.97V496.16M319.41 496.06H321.73M319.41 496.37H328.70M319.41 496.06V496.37M317.39 496.22H319.41M319.60 496.65H328.70M321.93 496.89H328.70M321.93 497.08H328.70M321.93 496.89V497.08M321.63 496.98H321.93M321.63 497.29H328.70M321.63 496.98V497.29M320.19 497.14H321.63M322.09 497.50H328.70M322.09 497.67H328.70M322.09 497.50V497.67M320.19 497.58H322.09M320.19 497.14V497.58M319.60 497.36H320.19M319.60 496.65V497.36M317.39 497.00H319.60M317.39 496.22V497.00M317.09 496.61H317.39M322.68 497.86H328.70M322.68 498.08H328.70M322.68 497.86V498.08M317.39 497.97H322.68M322.17 498.27H328.70M322.47 498.44H328.70M322.47 498.64H328.70M322.47 498.44V498.64M322.17 498.54H322.47M322.17 498.27V498.54M317.39 498.40H322.17M317.39 497.97V498.40M317.09 498.19H317.39M317.09 496.61V498.19M311.56 497.40H317.09M321.21 498.77H328.70M321.21 498.93H328.70M321.21 498.77V498.93M320.54 498.85H321.21M322.72 499.17H328.70M322.72 499.35H328.70M322.72 499.17V499.35M321.14 499.26H322.72M321.14 499.49H328.70M321.14 499.26V499.49M320.84 499.37H321.14M321.51 499.68H328.70M321.51 499.88H328.70M321.51 499.68V499.88M320.84 499.78H321.51M320.84 499.37V499.78M320.54 499.58H320.84M320.54 498.85V499.58M314.93 499.21H320.54M320.00 500.04H328.70M322.94 500.23H328.70M322.94 500.38H328.70M322.94 500.23V500.38M322.64 500.31H322.94M322.64 500.49H328.70M322.64 500.31V500.49M320.00 500.40H322.64M320.00 500.04V500.40M319.70 500.22H320.00M319.70 500.65H328.70M319.70 500.22V500.65M316.80 500.43H319.70M319.40 500.86H328.70M320.64 501.06H328.70M320.64 501.23H328.70M320.64 501.06V501.23M319.40 501.14H320.64M319.40 500.86V501.14M318.46 501.00H319.40M318.46 501.38H328.70M318.46 501.00V501.38M316.80 501.19H318.46M316.80 500.43V501.19M314.93 500.81H316.80M314.93 499.21V500.81M311.56 500.01H314.93M311.56 497.40V500.01M311.09 498.71H311.56M311.09 494.76V498.71M310.79 496.73H311.09M310.79 492.88V496.73M309.00 494.81H310.79M320.94 501.51H328.70M320.94 501.68H328.70M320.94 501.51V501.68M320.64 501.59H320.94M321.78 501.89H328.70M322.08 502.05H328.70M322.08 502.20H328.70M322.08 502.05V502.20M321.78 502.12H322.08M321.78 501.89V502.12M320.64 502.01H321.78M320.64 501.59V502.01M317.94 501.80H320.64M319.08 502.42H328.70M320.61 502.66H328.70M320.61 502.83H328.70M320.61 502.66V502.83M319.08 502.74H320.61M319.08 502.42V502.74M318.78 502.58H319.08M322.44 503.00H328.70M322.44 503.23H328.70M322.44 503.00V503.23M322.14 503.11H322.44M322.14 503.42H328.70M322.14 503.11V503.42M318.78 503.27H322.14M318.78 502.58V503.27M317.94 502.92H318.78M317.94 501.80V502.92M316.12 502.36H317.94M322.57 503.63H328.70M322.57 503.82H328.70M322.57 503.63V503.82M322.27 503.73H322.57M322.27 503.95H328.70M322.27 503.73V503.95M321.97 503.84H322.27M321.97 504.10H328.70M321.97 503.84V504.10M316.12 503.97H321.97M316.12 502.36V503.97M314.02 503.16H316.12M318.56 504.27H328.70M319.23 504.46H328.70M322.89 504.67H328.70M322.89 504.83H328.70M322.89 504.67V504.83M322.59 504.75H322.89M322.59 504.93H328.70M322.59 504.75V504.93M319.23 504.84H322.59M319.23 504.46V504.84M318.56 504.65H319.23M318.56 504.27V504.65M314.02 504.46H318.56M314.02 503.16V504.46M313.72 503.81H314.02M321.46 505.04H328.70M322.06 505.16H328.70M322.06 505.33H328.70M322.06 505.16V505.33M321.76 505.24H322.06M321.76 505.50H328.70M321.76 505.24V505.50M321.46 505.37H321.76M321.46 505.04V505.37M319.56 505.21H321.46M319.56 505.66H328.70M319.56 505.21V505.66M316.96 505.43H319.56M320.36 505.85H328.70M320.36 506.04H328.70M320.36 505.85V506.04M320.06 505.94H320.36M320.06 506.25H328.70M320.06 505.94V506.25M319.76 506.10H320.06M321.44 506.44H328.70M321.44 506.61H328.70M321.44 506.44V506.61M321.14 506.53H321.44M321.14 506.79H328.70M321.14 506.53V506.79M319.76 506.66H321.14M319.76 506.10V506.66M316.96 506.38H319.76M316.96 505.43V506.38M316.66 505.90H316.96M321.21 506.96H328.70M322.07 507.15H328.70M322.07 507.34H328.70M322.07 507.15V507.34M321.21 507.24H322.07M321.21 506.96V507.24M316.96 507.10H321.21M319.03 507.51H328.70M321.75 507.66H328.70M321.75 507.86H328.70M321.75 507.66V507.86M319.03 507.76H321.75M319.03 507.51V507.76M316.96 507.64H319.03M316.96 507.10V507.64M316.66 507.37H316.96M316.66 505.90V507.37M313.72 506.64H316.66M313.72 503.81V506.64M309.00 505.22H313.72M309.00 494.81V505.22M320.59 508.09H328.70M322.60 508.31H328.70M322.60 508.55H328.70M322.60 508.31V508.55M320.59 508.43H322.60M320.59 508.09V508.43M315.85 508.26H320.59M322.91 508.69H328.70M322.91 508.87H328.70M322.91 508.69V508.87M320.91 508.78H322.91M320.91 509.09H328.70M320.91 508.78V509.09M318.64 508.93H320.91M321.46 509.26H328.70M321.76 509.49H328.70M321.76 509.78H328.70M321.76 509.49V509.78M321.46 509.64H321.76M321.46 509.26V509.64M318.64 509.45H321.46M318.64 508.93V509.45M315.85 509.19H318.64M315.85 508.26V509.19M315.55 508.72H315.85M320.58 510.02H328.70M321.18 510.19H328.70M321.18 510.35H328.70M321.18 510.19V510.35M320.88 510.27H321.18M320.88 510.51H328.70M320.88 510.27V510.51M320.58 510.39H320.88M320.58 510.02V510.39M320.28 510.20H320.58M320.58 510.64H328.70M321.18 510.81H328.70M321.18 510.97H328.70M321.18 510.81V510.97M320.88 510.89H321.18M320.88 511.10H328.70M320.88 510.89V511.10M320.58 511.00H320.88M320.58 510.64V511.00M320.28 510.82H320.58M320.28 510.20V510.82M317.62 510.51H320.28M320.19 511.28H328.70M320.19 511.48H328.70M320.19 511.28V511.48M318.76 511.38H320.19M319.06 511.69H328.70M319.36 511.94H328.70M320.25 512.19H328.70M320.25 512.36H328.70M320.25 512.19V512.36M319.36 512.28H320.25M319.36 511.94V512.28M319.06 512.11H319.36M319.06 511.69V512.11M318.76 511.90H319.06M318.76 511.38V511.90M318.46 511.64H318.76M323.22 512.46H328.70M323.22 512.63H328.70M323.22 512.46V512.63M322.20 512.55H323.22M322.20 512.85H328.70M322.20 512.55V512.85M318.46 512.70H322.20M318.46 511.64V512.70M317.62 512.17H318.46M317.62 510.51V512.17M315.55 511.34H317.62M315.55 508.72V511.34M310.89 510.03H315.55M321.27 513.03H328.70M321.57 513.23H328.70M321.57 513.41H328.70M321.57 513.23V513.41M321.27 513.32H321.57M321.27 513.03V513.32M317.56 513.18H321.27M320.57 513.57H328.70M320.57 513.83H328.70M320.57 513.57V513.83M317.56 513.70H320.57M317.56 513.18V513.70M314.13 513.44H317.56M318.65 514.05H328.70M322.88 514.25H328.70M322.88 514.40H328.70M322.88 514.25V514.40M322.58 514.32H322.88M322.58 514.48H328.70M322.58 514.32V514.48M319.92 514.40H322.58M319.92 514.58H328.70M319.92 514.40V514.58M318.65 514.49H319.92M318.65 514.05V514.49M314.13 514.27H318.65M314.13 513.44V514.27M310.89 513.85H314.13M310.89 510.03V513.85M310.59 511.94H310.89M322.14 514.77H328.70M322.14 514.95H328.70M322.14 514.77V514.95M321.84 514.86H322.14M321.84 515.11H328.70M321.84 514.86V515.11M320.85 514.98H321.84M320.85 515.29H328.70M320.85 514.98V515.29M318.89 515.14H320.85M319.90 515.46H328.70M319.90 515.63H328.70M319.90 515.46V515.63M318.89 515.54H319.90M318.89 515.14V515.54M318.59 515.34H318.89M322.48 515.81H328.70M322.48 516.05H328.70M322.48 515.81V516.05M319.19 515.93H322.48M319.85 516.29H328.70M319.85 516.45H328.70M319.85 516.29V516.45M319.19 516.37H319.85M319.19 515.93V516.37M318.89 516.15H319.19M318.89 516.64H328.70M318.89 516.15V516.64M318.59 516.40H318.89M318.59 515.34V516.40M310.59 515.87H318.59M310.59 511.94V515.87M308.00 513.91H310.59M320.77 516.85H328.70M320.77 517.02H328.70M320.77 516.85V517.02M320.47 516.94H320.77M320.47 517.21H328.70M320.47 516.94V517.21M320.11 517.07H320.47M321.63 517.44H328.70M321.63 517.68H328.70M321.63 517.44V517.68M320.11 517.56H321.63M320.11 517.07V517.56M314.68 517.32H320.11M321.17 517.87H328.70M321.17 518.10H328.70M321.17 517.87V518.10M319.71 517.99H321.17M319.71 518.35H328.70M319.71 517.99V518.35M318.57 518.17H319.71M321.30 518.53H328.70M321.30 518.71H328.70M321.30 518.53V518.71M321.00 518.62H321.30M321.00 518.88H328.70M321.00 518.62V518.88M319.30 518.75H321.00M319.30 519.05H328.70M319.30 518.75V519.05M318.87 518.90H319.30M322.11 519.29H328.70M322.11 519.49H328.70M322.11 519.29V519.49M318.87 519.39H322.11M318.87 518.90V519.39M318.57 519.15H318.87M318.57 518.17V519.15M314.68 518.66H318.57M314.68 517.32V518.66M309.66 517.99H314.68M321.11 519.67H328.70M321.11 519.82H328.70M321.11 519.67V519.82M319.77 519.74H321.11M320.38 519.94H328.70M320.38 520.10H328.70M320.38 519.94V520.10M319.77 520.02H320.38M319.77 519.74V520.02M317.76 519.88H319.77M317.76 520.32H328.70M317.76 519.88V520.32M317.46 520.10H317.76M319.86 520.54H328.70M319.86 520.70H328.70M319.86 520.54V520.70M319.56 520.62H319.86M319.56 520.90H328.70M319.56 520.62V520.90M319.26 520.76H319.56M320.91 521.17H328.70M320.91 521.41H328.70M320.91 521.17V521.41M319.26 521.29H320.91M319.26 520.76V521.29M317.46 521.03H319.26M317.46 520.10V521.03M317.16 520.56H317.46M322.14 521.57H328.70M322.44 521.72H328.70M322.74 521.88H328.70M322.74 522.03H328.70M322.74 521.88V522.03M322.44 521.95H322.74M322.44 521.72V521.95M322.14 521.84H322.44M322.14 521.57V521.84M318.11 521.70H322.14M321.72 522.21H328.70M321.72 522.37H328.70M321.72 522.21V522.37M319.43 522.29H321.72M319.43 522.50H328.70M319.43 522.29V522.50M318.11 522.39H319.43M318.11 521.70V522.39M317.46 522.05H318.11M321.06 522.66H328.70M321.06 522.84H328.70M321.06 522.66V522.84M320.75 522.75H321.06M320.75 523.01H328.70M320.75 522.75V523.01M320.45 522.88H320.75M320.45 523.17H328.70M320.45 522.88V523.17M317.46 523.03H320.45M317.46 522.05V523.03M317.16 522.54H317.46M317.16 520.56V522.54M309.66 521.55H317.16M309.66 517.99V521.55M308.30 519.77H309.66M321.51 523.32H328.70M321.51 523.49H328.70M321.51 523.32V523.49M316.58 523.41H321.51M318.42 523.75H328.70M320.95 524.00H328.70M320.95 524.24H328.70M320.95 524.00V524.24M318.42 524.12H320.95M318.42 523.75V524.12M316.58 523.94H318.42M316.58 523.41V523.94M314.32 523.67H316.58M320.54 524.45H328.70M320.54 524.66H328.70M320.54 524.45V524.66M319.48 524.56H320.54M321.18 524.87H328.70M322.55 524.99H328.70M322.55 525.16H328.70M322.55 524.99V525.16M321.18 525.07H322.55M321.18 524.87V525.07M319.48 524.97H321.18M319.48 524.56V524.97M314.32 524.76H319.48M314.32 523.67V524.76M312.16 524.22H314.32M319.36 525.43H328.70M321.53 525.62H328.70M321.53 525.79H328.70M321.53 525.62V525.79M321.23 525.70H321.53M321.23 526.01H328.70M321.23 525.70V526.01M320.93 525.86H321.23M320.93 526.21H328.70M320.93 525.86V526.21M319.36 526.03H320.93M319.36 525.43V526.03M312.16 525.73H319.36M312.16 524.22V525.73M308.30 524.97H312.16M308.30 519.77V524.97M308.00 522.37H308.30M308.00 513.91V522.37" stroke="#000" stroke-width="0.8" fill="none"/>
<path d="M278.80 278.20H306.30M306.30 272.90H314.30M314.30 266.90H317.50M314.30 278.50H319.50M314.30 266.90V278.50M306.30 283.80H318.50M306.30 272.90V283.80M278.80 323.30H296.60M296.60 311.90H306.60M306.60 304.75H310.40M310.40 296.90H315.50M310.40 309.40H316.50M310.40 296.90V309.40M306.60 317.75H311.25M311.25 315.60H319.50M311.25 320.60H319.50M311.25 315.60V320.60M306.60 304.75V317.75M296.60 334.80H315.60M296.60 311.90V334.80M278.80 278.20V323.30M279.30 347.70H299.10M299.10 341.60H319.00M299.10 353.70H306.30M306.30 348.90H311.10M311.10 346.50H316.00M311.10 350.10H316.00M311.10 346.50V350.10M306.30 357.90H309.30M309.30 354.90H314.00M309.30 363.40H312.30M309.30 354.90V363.40M306.30 348.90V357.90M299.10 341.60V353.70M279.30 380.90H302.10M302.10 373.60H314.20M302.10 387.50H307.50M307.50 382.70H316.60M307.50 392.30H311.70M311.70 387.50H315.00M311.70 400.80H314.20M314.20 398.40H318.00M314.20 404.40H318.00M314.20 398.40V404.40M311.70 387.50V400.80M307.50 382.70V392.30M302.10 373.60V387.50M279.30 347.70V380.90M279.40 454.60H291.70M291.70 431.30H299.50M299.50 416.50H306.70M306.70 414.20H314.20M306.70 419.80H312.50M306.70 414.20V419.80M299.50 445.40H303.30M303.30 436.10H309.60M303.30 453.20H311.70M303.30 436.10V453.20M299.50 416.50V445.40M291.70 478.00H307.50M291.70 431.30V478.00M279.40 499.10H298.40M298.40 488.20H306.00M298.40 510.70H303.50M303.50 502.00H309.00M303.50 517.00H308.00M303.50 502.00V517.00M298.40 488.20V510.70M279.40 454.60V499.10" stroke="#1a1a1a" stroke-width="1" fill="none"/>
<defs><filter id="hb" x="0" y="0" width="1" height="1"><feGaussianBlur stdDeviation="0.6"/></filter></defs>
<g shape-rendering="crispEdges" filter="url(#hb)"><rect x="331" y="256" width="134" height="270" fill="#fff"/><path d="M359 315h2m-14 2h2m54 0h2m-2 2h2m-22 2h2m6 0h2m40 0h2m-90 10h4m2 0h4m2 0h2m2 0h2m10 0h2m2 0h4m2 0h4m2 0h2m10 0h6m2 0h2m6 0h6m10 0h4m-106 2h2m10 0h2m2 0h2m30 0h4m4 0h2m14 0h2m4 0h2m4 0h2m14 0h2m-102 2h2m14 0h2m36 0h2m24 0h2m4 0h4m-76 2h2m14 0h2m22 0h2m-56 36h4m2 0h2m2 0h2m34 0h2m6 0h2m16 0h2m18 0h8m6 0h2m-78 2h2m62 0h2m-94 2h2m2 0h2m20 0h2m18 0h2m4 0h2m2 0h2m6 0h2m4 0h2m2 0h2m10 0h2m2 0h2m2 0h2m8 0h2m-108 2h4m2 0h2m2 0h4m12 0h8m4 0h2m8 0h10m6 0h2m6 0h2m2 0h4m2 0h6m2 0h12m4 0h2m-108 2h4m8 0h2m14 0h2m18 0h2m24 0h6m6 0h2m6 0h2m10 0h2m-96 12h2m92 0h2m-108 4h2m54 0h2m-44 4h2m40 4h2m48 0h2m-104 64h2m-4 2h8m6 0h2m8 0h2m2 0h2m14 0h2m14 0h6m4 0h2m2 0h2m4 0h2m2 0h2m14 0h4m-40 2h2m42 16h2m2 16h2m-110 4h2m10 0h2m10 0h2m22 0h2m8 0h2m-58 2h2m54 0h4m-8 2h2m-56 2h2m22 0h2m14 0h2m16 0h2m38 0h2m-100 6h2m0 2h2m56 0h2m16 0h2m-80 2h2" stroke="#5458ae" stroke-width="2" fill="none"/><path d="M395 313h2m-34 6h2m14 0h2m8 0h2m44 0h2m-106 2h2m14 0h2m8 0h2m56 0h2m10 0h2m-68 2h2m12 0h4m24 2h2m28 0h2m-92 2h2m38 2h2m48 0h2m-104 2h2m10 0h2m10 0h2m14 0h2m2 0h2m4 0h2m4 0h2m10 0h2m12 0h2m16 0h2m4 0h2m22 0h2m-118 2h2m22 0h2m14 0h2m14 0h2m8 0h4m2 0h2m4 0h2m4 0h2m-70 2h2m10 0h8m22 0h4m-54 2h2m16 0h2m14 0h2m14 0h2m6 0h2m-70 36h4m10 0h2m2 0h2m16 0h4m4 0h2m26 0h4m-88 2h2m12 0h2m10 0h2m28 0h2m14 0h2m12 0h2m-88 2h2m10 0h6m20 0h2m24 0h2m8 0h2m2 0h2m6 0h2m2 0h2m6 0h4m-94 2h2m4 0h4m2 0h2m38 0h4m2 0h2m6 0h2m4 0h2m6 0h2m-64 2h2m2 0h2m6 0h2m14 0h2m8 0h4m16 0h2m4 0h2m-92 2h2m64 4h2m-4 2h2m-58 2h2m-10 2h4m10 6h2m2 0h2m8 2h2m18 0h2m-50 2h2m78 0h4m-84 2h2m16 0h2m34 0h2m58 12h2m-68 44h2m38 0h2m-82 4h2m36 4h2m-48 2h2m10 0h2m6 0h2m10 0h2m10 0h2m14 0h2m18 0h2m6 0h2m-88 2h6m56 0h2m-64 2h2m108 14h2m2 0h8m6 0h4m-126 2h2m92 0h2m28 0h2m-128 2h2m110 2h2m6 0h2m2 0h2m-12 2h4m-116 2h2m98 0h4m-54 2h2m64 0h2m-126 4h2m54 0h2m14 0h2m38 0h2m2 0h8m6 0h4m-92 2h2m68 0h2m8 0h2m6 0h2m-132 2h2m26 0h2m20 0h4m12 0h2m4 0h2m8 0h4m2 0h2m-84 2h2m78 0h2m-88 2h2m54 0h2m-58 2h2m6 0h2m48 0h2m8 0h4m14 0h4m-90 6h2m6 0h2m4 0h2m48 2h2m4 0h4m8 0h2m-74 2h2m16 0h2m72 0h2" stroke="#696db8" stroke-width="2" fill="none"/><path d="M429 307h2m-32 10h2m8 0h2m24 0h2m16 0h2m-82 2h2m22 0h2m26 0h2m10 0h2m14 0h2m-102 2h4m2 0h2m10 0h4m12 0h2m14 0h2m2 0h4m8 0h4m6 0h2m4 0h2m-104 2h2m10 0h2m2 0h2m8 0h2m10 0h2m50 0h2m-82 2h2m12 0h2m10 0h2m10 0h2m22 0h2m4 0h2m10 0h2m6 0h2m2 0h2m-90 2h2m4 0h4m44 0h2m14 0h2m4 0h2m30 0h2m-104 2h2m30 0h2m50 0h2m-106 2h4m2 0h4m26 0h2m24 0h2m14 0h2m2 0h2m6 0h2m30 0h6m-128 2h4m12 0h2m2 0h2m2 0h2m2 0h4m8 0h6m14 0h6m6 0h2m12 0h4m2 0h2m6 0h4m26 0h2m-130 2h2m6 0h2m8 0h4m24 0h4m6 0h2m8 0h2m50 0h2m2 0h2m-116 2h2m2 0h2m8 0h2m24 0h2m16 0h2m6 0h2m2 0h2m4 0h2m4 0h2m6 0h4m-82 2h2m4 0h2m14 0h2m48 0h2m24 0h4m4 0h4m-128 18h2m38 0h2m-26 14h2m-16 2h2m18 0h2m2 0h2m4 0h2m20 0h2m14 0h2m2 0h4m6 0h2m8 0h2m-100 2h2m24 0h2m2 0h2m16 0h2m2 0h2m20 0h2m4 0h2m12 0h2m8 0h2m14 0h2m4 0h2m-122 2h4m14 0h2m2 0h2m8 0h2m4 0h2m2 0h4m6 0h2m22 0h2m8 0h2m32 0h2m2 0h2m-116 2h2m2 0h2m12 0h2m2 0h2m4 0h2m10 0h2m66 0h4m-120 2h2m20 0h2m24 0h2m2 0h2m18 0h2m14 0h2m-88 2h2m62 0h2m16 0h2m28 0h2m6 0h2m-108 2h2m56 0h2m-84 2h2m8 0h2m26 0h2m30 0h2m30 0h4m20 0h2m-102 6h2m44 0h2m-74 4h2m2 0h2m30 0h2m22 0h2m22 0h2m4 0h8m-100 2h2m48 0h2m14 0h2m18 0h2m10 0h2m-100 2h2m16 0h2m18 2h2m12 0h2m12 0h2m16 0h2m4 0h2m-86 2h4m6 0h2m32 0h2m28 0h2m4 0h2m8 0h4m8 12h6m2 0h4m2 0h2m2 0h2m2 0h2m-32 2h2m14 0h2m-96 4h2m-24 20h2m6 0h2m54 2h2m20 10h2m-88 2h2m8 0h2m24 0h2m28 0h2m20 0h2m-26 2h2m-16 6h2m28 0h2m-22 2h2m42 0h2m-74 2h2m48 0h2m-70 2h2m2 0h2m8 0h2m18 0h2m4 0h2m2 0h2m8 0h4m2 0h2m8 0h2m4 0h4m-94 2h2m6 0h2m10 0h2m10 0h2m24 0h2m22 0h2m4 0h2m-82 2h2m4 0h2m12 0h2m2 0h2m14 0h2m22 0h2m8 0h6m20 14h2m4 0h2m8 0h6m-56 2h2m14 0h2m30 0h2m-78 2h2m62 0h2m-44 2h2m32 0h2m4 0h2m4 0h4m2 0h6m2 0h2m2 0h2m-88 2h2m8 0h2m50 0h12m4 0h2m2 0h6m-120 2h2m48 0h2m46 0h6m8 0h4m-114 2h2m46 0h2m42 0h2m2 0h6m4 0h2m4 0h6m-38 2h2m10 0h2m4 0h2m14 0h2m-126 2h2m38 0h2m18 0h2m36 0h2m2 0h4m12 0h2m2 0h2m-98 2h2m50 0h2m22 0h4m4 0h6m2 0h4m4 0h2m-126 2h2m2 0h2m18 0h2m8 0h2m2 0h2m20 0h2m20 0h2m-78 2h2m24 0h2m16 0h2m28 0h4m-86 2h4m6 0h4m8 0h2m16 0h2m10 0h2m8 0h2m2 0h2m6 0h2m4 0h2m14 0h4m-90 2h4m6 0h4m4 0h2m4 0h2m10 0h2m2 0h2m2 0h2m18 0h6m2 2h2m-90 2h2m6 0h2m50 0h2m18 0h2m4 0h2m-70 2h2m26 0h2m16 0h2m16 0h2m4 0h2m10 0h2m-102 2h2m14 0h2m12 0h2m4 0h2m12 0h2m4 0h2m10 0h2m16 0h2m-32 2h2m6 0h2" stroke="#7f82c2" stroke-width="2" fill="none"/><path d="M351 291h2m-6 10h2m32 4h2m-22 2h2m-4 2h2m8 0h2m6 0h2m32 0h2m2 0h2m38 0h2m-126 2h2m16 0h2m22 0h2m-26 2h2m48 0h2m60 2h2m-108 2h4m4 0h2m2 0h2m32 0h2m18 0h2m8 0h4m2 0h2m16 0h10m-120 2h2m22 0h4m10 0h2m2 0h2m30 0h2m10 0h2m22 0h4m2 0h4m-130 2h2m4 0h2m2 0h2m4 0h2m8 0h2m4 0h2m6 0h4m2 0h2m6 0h2m22 0h2m2 0h2m6 0h2m-88 2h2m2 0h2m2 0h2m6 0h2m24 0h2m20 0h2m2 0h2m20 0h4m28 0h4m-134 2h4m6 0h2m4 0h2m4 0h2m10 0h2m4 0h2m2 0h4m6 0h4m10 0h2m14 0h2m42 0h6m-120 2h2m14 0h2m10 0h2m6 0h2m26 0h2m20 0h2m20 0h2m2 0h6m-116 2h4m4 0h4m4 0h6m6 0h2m36 0h2m14 0h2m22 0h2m2 0h2m2 0h4m-128 2h2m10 0h2m12 0h2m2 0h2m28 0h2m8 0h2m16 0h2m26 0h2m8 0h2m-126 2h2m10 0h2m6 0h2m10 0h2m16 0h4m6 0h2m36 0h2m14 0h4m2 0h4m-126 2h2m2 0h2m2 0h2m10 0h2m4 0h4m4 0h2m16 0h2m8 0h2m6 0h2m4 0h4m6 0h2m4 0h10m16 0h2m2 0h6m-134 2h2m16 0h2m12 0h4m6 0h6m38 0h2m2 0h4m28 0h12m-128 2h4m6 0h2m8 0h2m12 0h6m4 0h2m8 0h2m22 0h2m8 0h2m30 0h4m-78 14h2m-50 10h2m20 6h2m-26 2h2m12 2h6m18 0h2m16 0h2m2 0h2m10 0h2m2 0h2m8 0h2m34 0h2m2 0h4m-126 2h2m2 0h4m6 0h2m16 0h4m6 0h2m24 0h2m8 0h2m2 0h4m6 0h4m24 0h2m2 0h4m-78 2h2m4 0h2m16 0h2m22 0h2m16 0h4m4 0h2m-128 2h2m18 0h2m42 0h2m34 0h2m16 0h2m6 0h4m-128 2h2m6 0h4m28 0h2m2 0h2m8 0h2m10 0h2m14 0h2m2 0h2m2 0h2m2 0h2m20 0h2m2 0h2m4 0h2m-128 2h2m2 0h2m6 0h2m6 0h2m2 0h4m12 0h2m8 0h2m2 0h2m10 0h2m8 0h2m4 0h6m32 0h2m-126 2h2m24 0h4m6 0h2m14 0h2m8 0h4m4 0h4m10 0h2m4 0h2m28 0h2m-110 2h4m12 0h2m24 0h4m32 0h4m28 0h2m4 0h2m-104 2h2m36 0h2m24 2h2m30 0h4m-102 2h2m4 0h2m14 0h2m2 0h2m4 0h2m6 0h2m20 0h4m-42 2h2m22 0h2m-64 2h2m2 0h2m14 0h2m12 0h2m12 0h2m2 0h4m6 0h2m6 0h2m16 0h2m4 0h2m-98 2h4m2 0h2m8 0h2m12 0h2m14 0h4m10 0h2m16 0h2m10 0h2m4 0h2m-106 2h2m46 0h2m6 0h2m4 0h4m20 0h2m-80 2h2m2 0h2m10 0h4m16 0h2m6 0h2m2 0h2m12 0h2m52 0h2m2 0h4m-122 2h2m16 0h6m4 0h2m10 0h2m12 0h2m6 0h2m12 0h2m30 12h2m2 0h2m6 0h2m-24 2h2m2 0h2m2 0h2m10 0h2m-2 2h2m-92 8h2m62 12h2m-52 2h2m14 0h4m-68 2h2m46 0h2m4 6h2m-34 6h2m-28 2h4m12 0h4m30 0h2m12 0h2m4 0h2m30 0h2m-102 2h2m2 0h2m4 0h2m30 0h2m-28 2h2m42 0h2m22 0h2m-36 2h2m8 0h2m-64 2h2m12 0h2m46 0h4m14 0h2m-82 2h2m12 0h2m2 0h2m4 0h2m20 0h4m4 0h2m4 0h4m2 0h2m4 0h2m4 0h2m8 0h2m10 0h4m-96 2h2m10 0h2m10 0h2m6 0h2m8 0h2m2 0h2m42 0h2m-92 2h4m2 0h2m8 0h2m2 0h2m6 0h2m4 0h2m14 0h4m6 0h4m2 0h2m2 0h2m2 0h2m14 0h2m-96 2h2m2 0h2m8 0h2m8 0h2m12 0h2m16 0h2m4 0h2m10 0h2m22 4h2m12 2h2m-12 6h2m-32 2h2m-76 2h2m24 0h2m28 0h2m6 0h2m2 0h2m14 0h2m18 0h4m4 0h2m6 0h2m2 0h4m-122 2h2m6 0h2m6 0h2m34 0h2m6 0h2m30 0h2m4 0h2m4 0h4m4 0h2m2 0h2m4 0h2m-126 2h2m52 0h2m48 0h2m-106 2h2m2 0h2m14 0h4m10 0h2m6 0h2m36 0h2m36 0h2m-82 2h2m6 0h2m26 0h2m4 0h2m4 0h2m4 0h2m2 0h2m12 0h8m6 0h2m-80 2h2m54 0h2m6 0h2m6 0h2m-120 2h2m6 0h2m70 0h2m4 0h2m14 0h2m4 0h2m2 0h8m-66 2h2m4 0h2m56 0h2m-116 2h2m16 0h2m14 0h2m2 0h2m12 0h2m2 0h2m12 0h2m2 0h2m14 0h2m10 0h2m12 0h2m-120 2h2m2 0h4m6 0h2m10 0h2m10 0h2m6 0h6m18 0h2m4 0h2m-70 2h2m6 0h2m18 0h4m2 0h4m12 0h2m2 0h2m8 0h2m18 0h4m-76 2h4m10 0h2m2 0h2m14 0h2m8 0h2m12 0h2m4 0h2m-82 2h2m16 0h2m14 0h2m22 0h4m26 0h2m-104 2h2m6 0h2m18 0h2m6 0h2m28 0h2m12 0h2m-76 2h2m16 0h2m32 0h2m4 0h2m4 0h2m-48 2h4m12 0h2m6 0h2m6 0h2m8 0h4m14 0h4m14 0h4m-100 2h2m18 0h4m12 0h2m2 0h2m12 0h2m16 0h2m8 0h2m14 0h2m-98 2h2m6 0h2m30 0h2m4 0h2m2 0h2m6 0h4m10 0h2m2 0h2m2 0h2m14 0h2" stroke="#9497cc" stroke-width="2" fill="none"/><path d="M425 287h2m-82 6h2m84 0h2m-80 2h2m28 0h2m42 0h2m8 0h2m-20 2h2m16 0h2m-68 2h2m60 4h2m-88 2h2m-10 4h2m48 0h2m6 0h2m2 0h2m10 0h2m38 0h2m2 0h6m-104 2h2m24 0h2m30 0h2m12 0h2m24 0h2m4 2h2m-134 2h2m8 0h2m2 0h2m34 0h2m38 0h2m8 0h2m20 0h8m2 0h2m-132 2h4m6 0h4m2 0h4m6 0h4m6 0h2m4 0h4m8 0h2m8 0h2m6 0h2m8 0h2m-86 2h2m4 0h2m4 0h2m2 0h2m4 0h2m2 0h2m2 0h2m14 0h2m2 0h2m24 0h2m2 0h4m2 0h2m4 0h2m4 0h2m2 0h2m24 0h2m-128 2h2m4 0h2m2 0h2m40 0h2m18 0h2m4 0h2m10 0h2m12 0h2m14 0h2m2 0h8m-130 2h4m12 0h4m8 0h2m8 0h2m8 0h4m2 0h2m2 0h4m4 0h2m2 0h2m4 0h6m2 0h2m14 0h2m22 0h2m-126 2h6m4 0h2m16 0h2m8 0h2m8 0h2m6 0h2m8 0h2m14 0h4m8 0h2m22 0h6m-128 2h2m8 0h2m6 0h4m4 0h2m8 0h2m16 0h6m8 0h2m20 0h2m2 0h2m2 0h2m32 0h2m-134 2h4m2 0h2m2 0h2m8 0h2m8 0h2m8 0h2m8 0h2m16 0h2m2 0h4m10 0h4m10 0h2m22 0h2m2 0h2m-96 2h2m24 0h4m32 0h4m-94 2h2m2 0h2m12 0h2m8 0h4m14 0h2m22 0h2m48 0h2m-126 2h2m4 0h2m8 0h2m16 0h4m24 0h2m30 0h2m-94 2h2m22 0h2m8 0h2m8 0h4m16 0h2m6 0h2m6 0h2m12 0h2m6 0h2m-108 2h2m2 0h2m6 0h2m14 0h2m2 0h2m2 0h2m10 0h2m4 0h2m2 0h2m8 0h2m2 0h2m4 0h4m4 0h2m2 0h4m6 0h4m-88 2h2m68 4h2m-74 2h2m22 0h2m16 0h2m-54 2h2m38 0h2m4 0h2m8 2h2m-58 4h2m92 0h2m0 2h2m-68 2h2m24 0h2m-8 2h2m36 0h2m10 0h2m-94 2h2m72 2h2m16 2h2m-104 2h4m20 2h4m4 0h2m16 2h2m12 0h2m36 0h2m16 0h2m2 0h2m4 0h2m-126 2h2m6 0h4m14 0h2m26 0h2m2 0h4m22 0h2m10 0h2m18 0h2m-108 2h2m4 0h2m6 0h4m34 0h2m30 0h2m22 0h2m-84 2h2m24 0h2m30 0h2m20 0h2m-108 2h4m18 0h4m8 0h2m2 0h2m70 0h4m-118 2h4m16 0h2m14 0h2m26 0h2m26 0h2m14 0h2m4 0h4m-122 2h2m4 0h2m2 0h2m20 0h4m10 0h2m2 0h2m14 0h2m2 0h2m12 0h2m2 0h4m24 0h8m-134 2h2m4 0h2m10 0h2m4 0h6m2 0h2m14 0h2m24 0h2m4 0h2m4 0h6m6 0h2m22 0h2m8 0h2m-134 2h2m12 0h2m24 0h2m44 0h2m18 0h2m14 0h12m-134 2h2m8 0h4m14 0h2m6 0h2m28 0h2m16 0h2m2 0h2m4 0h2m4 0h2m20 0h2m6 0h4m-128 2h2m2 0h2m4 0h4m10 0h2m6 0h2m14 0h4m2 0h4m12 0h2m2 0h2m4 0h2m4 0h4m2 0h4m22 0h2m2 0h2m2 0h2m-134 2h2m14 0h2m12 0h2m22 0h2m6 0h2m18 0h6m10 0h4m22 0h2m2 0h4m-118 2h2m10 0h2m20 0h2m2 0h4m48 0h2m20 0h2m4 0h2m-132 2h2m2 0h4m32 0h4m18 0h2m6 0h2m2 0h2m6 0h2m4 0h2m4 0h2m24 0h2m8 0h2m-100 2h2m4 0h2m4 0h2m4 0h6m16 0h2m6 0h2m10 0h2m28 0h2m4 0h4m-132 2h2m16 0h2m10 0h2m6 0h2m6 0h4m8 0h2m6 0h2m4 0h4m10 0h2m6 0h4m6 0h2m14 0h2m-122 2h2m6 0h2m8 0h2m4 0h2m20 0h2m8 0h2m4 0h2m2 0h2m2 0h2m10 0h2m16 0h2m18 0h2m2 0h4m2 0h2m-120 12h2m112 0h2m-96 2h2m72 0h2m2 0h2m12 0h2m4 0h2m-26 2h2m4 0h4m6 0h2m2 0h2m2 0h2m-54 4h2m14 0h2m-62 2h2m52 0h2m-88 4h2m10 2h2m0 2h2m22 0h2m2 4h2m48 0h2m-74 2h2m-14 2h2m52 0h2m12 0h2m2 0h2m2 0h2m-62 2h2m4 0h2m32 0h2m2 0h2m-74 2h2m18 0h2m22 0h2m12 0h2m-56 2h2m40 0h2m-32 2h2m52 0h2m12 0h2m8 0h2m8 0h2m-40 2h4m12 0h4m-6 2h2m-80 2h2m16 0h2m20 0h2m36 0h2m16 0h2m6 0h2m-100 2h2m14 0h2m10 0h2m8 0h4m8 0h4m6 0h2m10 0h6m14 0h2m-76 2h2m26 0h2m28 0h2m4 0h2m6 0h2m-82 2h2m84 0h2m-104 2h2m2 0h2m14 0h2m46 0h2m6 0h2m-76 2h6m2 0h2m14 0h2m2 0h2m6 0h2m8 0h2m2 0h4m14 0h2m10 0h4m-82 2h8m8 0h2m4 0h2m6 0h2m4 0h4m14 0h2m4 0h2m2 0h4m4 0h2m4 0h2m2 0h2m10 0h2m4 0h2m-84 2h2m10 0h4m10 0h2m44 0h2m-64 2h2m10 0h2m20 0h2m8 0h2m6 0h2m4 0h2m2 0h2m4 0h4m-106 2h2m2 0h2m6 0h2m4 0h2m2 0h2m18 0h2m10 0h4m6 0h2m4 0h2m2 0h2m2 0h2m8 0h6m6 0h8m-92 4h2m54 0h2m-38 2h2m72 0h2m2 0h4m-42 2h2m36 0h4m-80 2h2m64 2h2m4 0h2m2 0h6m10 0h4m-128 4h2m28 0h2m2 0h2m10 0h2m8 0h6m18 0h2m24 0h4m2 0h4m4 0h2m-120 2h2m20 0h2m16 0h4m12 0h6m18 0h2m10 0h2m10 0h2m4 0h4m6 0h4m-126 2h2m6 0h2m12 0h2m24 0h2m30 0h2m2 0h2m2 0h2m8 0h2m4 0h2m-106 2h2m36 0h2m2 0h2m14 0h2m2 0h2m16 0h2m-82 2h2m18 0h2m16 0h2m6 0h2m2 0h2m14 0h2m56 0h2m-126 2h2m12 0h2m8 0h2m2 0h2m6 0h2m28 0h2m6 0h2m8 0h2m28 0h2m-118 2h4m4 0h2m14 0h2m16 0h4m12 0h2m4 0h2m6 0h2m2 0h2m2 0h2m16 0h2m8 0h2m4 0h2m8 0h2m2 0h2m-130 2h2m28 0h2m22 0h2m4 0h2m22 0h4m-86 2h2m8 0h4m4 0h2m2 0h2m14 0h2m2 0h2m4 0h2m4 0h2m4 0h2m2 0h2m16 0h2m-86 2h2m14 0h2m4 0h2m12 0h2m2 0h2m28 0h2m24 0h6m-106 2h2m14 0h2m6 0h2m2 0h10m6 0h2m4 0h2m4 0h2m12 0h2m2 0h2m24 0h2m-92 2h6m10 0h2m8 0h2m2 0h2m8 0h2m14 0h2m8 0h2m4 0h2m6 0h2m6 0h4m4 0h2m-98 2h4m6 0h4m14 0h2m4 0h2m4 0h2m14 0h2m24 0h4m4 0h2m4 0h2m-102 2h2m6 0h2m2 0h4m2 0h2m16 0h2m4 0h2m2 0h2m16 0h4m10 0h4m14 0h4m-94 2h4m12 0h2m16 0h2m4 0h2m12 0h4m2 0h2m14 0h2m12 0h4m-90 2h2m2 0h2m8 0h4m8 0h2m10 0h2m2 0h4m10 0h2m6 0h2m8 0h2m-80 2h2m4 0h2m12 0h4m4 0h2m6 0h2m2 0h2m4 0h2m20 0h2m8 0h2m8 0h4m2 0h2m-108 2h2m12 0h2m2 0h2m6 0h2m32 0h2m8 0h4m8 0h2m6 0h2m8 0h2" stroke="#aaacd6" stroke-width="2" fill="none"/><path d="M407 291h2m14 2h2m38 0h2m-126 2h4m-4 2h2m60 0h2m-48 4h2m104 0h2m-112 2h2m26 0h2m2 0h4m36 0h2m-58 2h2m6 0h2m50 0h2m24 0h6m2 0h2m-108 2h2m36 0h2m22 0h2m14 0h2m-104 2h2m34 0h2m4 0h2m10 0h4m30 0h2m2 0h2m4 0h2m2 0h2m2 0h2m24 0h2m-102 2h2m4 0h2m8 0h4m4 0h4m12 0h2m18 0h2m4 0h2m2 0h2m18 0h4m2 0h6m-100 2h2m4 0h2m2 0h2m4 0h2m2 0h2m26 0h6m18 0h2m14 0h2m6 0h2m-124 2h2m14 0h4m18 0h2m10 0h2m34 0h2m6 0h2m2 0h2m-108 2h2m8 0h2m22 0h2m4 0h2m8 0h2m2 0h2m2 0h4m14 0h2m2 0h4m10 0h4m-96 2h2m20 0h2m10 0h2m22 0h6m2 0h2m4 0h2m8 0h2m4 0h2m-86 2h2m10 0h2m12 0h2m34 0h4m28 0h2m22 0h2m-126 2h2m8 0h2m14 0h2m6 0h2m2 0h2m46 0h2m2 0h2m2 0h2m6 0h2m2 0h2m16 0h4m-104 2h2m10 0h2m10 0h2m8 0h2m4 0h2m10 0h4m10 0h2m4 0h2m8 0h2m-106 2h2m2 0h2m20 0h2m2 0h4m2 0h2m32 0h4m6 0h2m4 0h2m14 0h2m-102 2h2m2 0h2m4 0h2m22 0h2m8 0h2m14 0h4m2 0h2m4 0h6m12 0h2m-68 2h2m66 2h2m16 0h2m-88 2h2m26 0h2m8 0h2m10 0h2m-70 2h2m12 0h2m10 0h2m20 0h10m28 0h2m-96 2h2m10 0h2m2 0h2m2 0h2m32 0h2m4 0h4m4 0h2m2 0h4m4 0h2m24 0h2m-60 2h2m10 0h2m24 0h2m-62 2h2m28 0h2m46 0h2m-18 2h2m2 0h2m2 0h2m-70 2h2m-24 2h2m54 0h2m24 0h2m2 0h2m-34 4h2m24 0h2m8 0h2m-14 2h2m-72 2h2m54 0h2m16 0h2m-90 2h2m2 0h2m56 0h4m20 0h2m-68 2h2m14 0h2m44 0h2m2 0h2m-52 2h2m22 0h2m8 0h2m32 0h2m-108 2h2m16 2h2m52 0h2m16 0h2m-86 2h2m12 0h4m30 0h2m26 0h2m20 0h2m-62 2h6m4 0h2m12 0h2m34 0h2m-70 2h2m6 0h2m18 0h2m4 0h2m-48 2h2m10 0h2m8 0h2m4 0h2m4 0h4m2 0h2m4 0h2m6 0h4m-62 2h4m12 0h2m4 0h2m38 0h2m-50 2h2m-32 2h2m2 0h2m24 0h2m8 0h2m22 0h4m8 0h2m22 0h2m18 0h2m-124 2h2m16 0h4m4 0h2m12 0h2m4 0h2m4 0h2m2 0h2m2 0h2m22 0h2m8 0h6m2 0h2m-106 2h2m6 0h2m14 0h2m26 0h2m8 0h2m18 0h2m4 0h2m34 0h2m-116 2h2m8 0h2m30 0h4m28 0h2m10 0h2m28 0h2m-122 2h2m2 0h4m2 0h2m12 0h4m4 0h2m8 0h2m8 0h2m12 0h2m4 0h2m10 0h4m2 0h2m-96 2h2m10 0h2m24 0h2m6 0h2m4 0h2m4 0h4m4 0h2m2 0h2m2 0h2m20 0h2m4 0h4m-94 2h2m24 0h2m4 0h2m2 0h2m20 0h2m10 0h2m10 0h2m24 0h2m2 0h2m-126 2h2m2 0h2m44 0h2m2 0h2m6 0h2m24 0h2m30 0h2m2 0h2m4 0h2m-126 2h2m8 0h4m8 0h2m18 0h2m18 0h4m10 0h2m2 0h4m10 0h2m18 0h4m4 0h2m-128 2h2m22 0h4m4 0h4m6 0h4m10 0h2m20 0h2m42 0h6m-128 2h8m4 0h2m4 0h2m6 0h4m4 0h2m2 0h2m18 0h2m8 0h2m2 0h4m4 0h4m2 0h4m2 0h2m24 0h2m2 0h4m-114 2h2m12 0h2m12 0h2m10 0h2m28 0h2m4 0h2m6 0h2m22 0h2m2 0h2m-92 2h2m36 0h4m2 0h2m16 0h2m2 0h2m18 0h2m4 0h2m-56 2h2m46 0h2m-104 2h2m-12 8h2m2 0h2m2 0h2m62 0h2m-80 2h2m34 0h2m8 0h2m2 0h2m62 0h6m-112 2h2m42 0h2m50 0h4m4 0h2m2 0h2m2 0h2m-98 2h2m46 0h2m-50 2h2m16 0h2m-48 2h2m80 0h2m-42 2h2m38 0h2m-84 2h2m6 0h4m4 0h2m12 0h2m8 0h2m30 0h2m2 0h2m24 0h2m-80 2h2m40 0h2m4 0h2m-70 2h2m54 0h2m-20 2h2m4 2h2m14 0h2m16 0h2m12 2h2m-94 2h2m24 0h2m4 0h2m4 0h2m18 0h2m10 0h2m14 0h2m-86 2h2m4 0h2m14 0h2m14 0h4m24 0h2m6 0h2m18 0h2m-90 2h2m24 0h2m8 0h2m14 0h2m16 0h2m4 0h2m4 0h2m-96 2h2m12 0h2m8 0h2m8 0h2m16 0h2m4 0h2m6 0h4m16 0h2m-88 2h2m4 0h2m34 0h2m6 0h2m12 0h2m6 0h4m4 0h2m8 0h2m12 0h2m-106 2h2m34 0h2m18 0h2m4 0h2m10 0h2m-66 2h2m2 0h4m22 0h2m8 0h2m2 0h2m4 0h4m8 0h2m8 0h2m-82 2h4m14 0h4m12 0h2m4 0h4m6 0h2m2 0h2m2 0h2m6 0h2m10 0h6m2 0h2m2 0h2m-96 2h2m8 0h6m10 0h2m2 0h6m2 0h2m14 0h4m12 0h2m4 0h4m8 0h4m2 0h2m-94 2h2m18 0h2m8 0h6m18 0h2m8 0h2m4 0h2m6 0h2m22 0h2m-98 2h2m4 0h2m20 0h2m2 0h2m16 0h4m4 0h2m2 0h6m10 0h2m8 0h2m-98 2h2m2 0h2m14 0h2m20 0h4m2 0h2m12 0h2m2 0h4m12 0h4m20 0h2m-108 2h2m22 0h2m4 0h2m4 0h2m6 0h2m2 0h2m18 0h2m4 0h2m4 0h2m6 0h2m10 0h2m-102 2h2m12 0h2m2 0h2m10 0h2m8 0h2m34 0h2m8 0h2m-48 2h2m36 0h2m14 0h2m10 0h2m-94 2h2m8 0h2m2 0h2m12 0h2m6 0h4m36 0h2m14 0h2m-72 2h2m2 0h2m4 0h2m4 0h2m22 0h2m-54 4h2m38 0h2m42 2h2m2 0h2m6 0h8m2 0h4m-104 2h2m34 0h2m40 0h6m4 0h4m2 0h2m6 0h2m-26 2h2m2 0h6m-6 2h2m6 0h6m2 0h2m-90 2h2m-42 2h2m16 0h2m6 0h4m4 0h2m6 0h2m26 0h2m8 0h2m2 0h2m14 0h2m-100 2h2m10 0h2m12 0h2m2 0h2m8 0h4m6 0h2m18 0h2m6 0h2m8 0h2m12 0h4m16 0h2m-126 2h2m24 0h2m10 0h4m4 0h4m8 0h2m4 0h2m8 0h4m6 0h2m12 0h2m-100 2h2m8 0h2m42 0h2m6 0h2m8 0h2m10 0h2m4 0h2m10 0h2m-104 2h2m16 0h2m8 0h4m4 0h2m28 0h2m2 0h2m6 0h4m20 0h2m-94 2h2m14 0h2m4 0h2m4 0h2m6 0h4m16 0h4m14 0h6m4 0h4m6 0h2m-106 2h4m10 0h2m2 0h2m6 0h2m32 0h2m16 0h2m6 0h2m2 0h2m-84 2h2m4 0h6m6 0h2m2 0h2m4 0h8m6 0h2m18 0h2m2 0h2m2 0h4m2 0h4m12 0h2m-88 2h2m4 0h2m4 0h2m6 0h2m4 0h2m10 0h2m26 0h2m8 0h2m2 0h2m8 0h2m-36 2h2m4 0h4m12 0h2m2 0h2m8 0h2m-98 2h4m6 0h4m36 0h2m18 0h2m2 0h2m12 0h2m-96 2h2m16 0h4m12 0h2m2 0h2m8 0h4m14 0h2m6 0h2m4 0h2m6 0h2m2 0h2m-56 2h2m10 0h2m6 0h2m14 0h2m10 0h2m4 0h2m-86 2h2m2 0h2m12 0h6m8 0h2m36 0h2m10 0h4m-96 2h2m6 0h2m6 0h2m6 0h2m2 0h2m2 0h2m2 0h2m8 0h2m32 0h2m6 0h8m2 0h2m-92 2h2m16 0h2m4 0h4m6 0h2m4 0h2m10 0h2m10 0h2m18 0h4m8 0h2m14 0h2m-122 2h4m4 0h2m12 0h2m12 0h2m4 0h2m16 0h2m10 0h4m16 0h2m2 0h2m8 0h2m-88 2h2m14 0h2m4 0h4m26 0h2m10 0h2m4 0h4m10 0h2" stroke="#bfc0e1" stroke-width="2" fill="none"/><path d="M455 257h2m2 2h2m2 0h2m-2 4h2m-10 2h2m2 0h2m-8 2h2m2 2h2m-96 6h2m2 0h2m92 0h2m-104 10h2m34 0h2m14 0h2m18 0h2m20 0h4m-68 2h2m-50 4h2m2 0h2m8 0h2m4 0h4m28 0h2m14 0h2m44 0h2m2 0h4m-114 2h4m40 0h2m58 0h8m-118 2h2m12 0h2m4 0h6m50 0h2m32 0h4m2 0h6m-134 2h2m20 0h4m16 0h2m12 0h2m24 0h2m2 0h2m8 0h6m20 0h2m6 0h2m-110 2h2m12 0h2m12 0h2m6 0h4m2 0h2m10 0h2m44 0h2m6 0h2m-122 2h2m44 0h2m34 0h2m2 0h2m24 0h4m6 0h2m-130 2h2m2 0h2m22 0h4m4 0h4m26 0h2m4 0h2m44 0h8m2 0h2m-126 2h2m8 0h2m22 0h2m18 0h2m2 0h4m22 0h2m-90 2h2m4 0h2m16 0h2m28 0h2m10 0h2m52 0h4m4 0h2m-132 2h2m28 0h4m4 0h2m10 0h2m6 0h2m6 0h2m2 0h2m4 0h2m20 0h2m-96 2h2m22 0h2m2 0h2m4 0h2m2 0h2m20 0h4m20 0h2m4 0h2m-98 2h4m2 0h6m8 0h4m2 0h4m18 0h2m2 0h2m8 0h2m12 0h6m12 0h2m2 0h2m26 0h4m-124 2h2m4 0h2m16 0h4m14 0h2m20 0h2m4 0h6m2 0h2m2 0h2m14 0h2m-100 2h2m14 0h2m18 0h2m4 0h2m2 0h2m8 0h4m20 0h2m4 0h2m4 0h2m20 0h2m-118 2h2m4 0h2m6 0h4m6 0h2m14 0h2m8 0h2m14 0h2m-38 2h2m2 0h2m8 0h2m12 0h6m-12 2h2m2 0h2m6 0h2m8 0h2m42 0h2m-106 2h4m8 0h2m50 0h2m-80 2h2m2 0h2m34 0h4m12 0h6m14 0h2m20 0h2m2 0h2m-80 2h2m12 0h2m2 0h2m8 0h2m2 0h2m30 0h2m2 0h2m6 0h2m6 2h4m4 0h2m-14 2h2m2 0h2m2 0h4m-100 2h2m40 0h2m26 0h2m2 0h2m20 0h4m-118 2h2m4 0h2m10 0h2m52 0h2m24 0h2m8 0h2m-102 2h2m8 0h2m12 0h2m16 0h2m12 0h2m30 0h2m4 0h2m6 0h8m-110 2h2m12 0h2m4 0h4m8 0h2m16 0h2m62 0h2m6 0h2m-134 2h2m4 0h2m24 0h2m10 0h2m48 0h2m4 0h2m-92 2h2m14 0h2m30 0h2m36 0h2m4 0h2m-100 2h2m14 0h2m42 0h2m-6 2h2m14 0h2m4 0h2m8 0h2m8 0h4m-102 2h2m4 0h4m12 0h2m40 0h2m28 0h2m6 0h2m-92 2h4m8 0h2m-30 2h2m8 0h2m18 0h2m2 0h2m34 0h2m2 0h2m2 0h2m2 0h2m20 0h2m18 0h4m-124 2h2m4 0h2m12 0h2m6 0h2m32 0h2m60 0h2m-126 2h2m8 0h2m38 0h2m2 0h2m2 0h2m26 0h2m-84 2h2m2 0h2m12 0h2m6 0h2m16 0h2m4 0h2m4 0h2m12 0h2m10 0h2m-82 2h2m2 0h2m2 0h2m20 0h2m2 0h2m10 0h2m12 0h2m12 0h2m10 0h2m4 0h2m28 0h2m-118 2h4m20 0h2m10 0h2m4 0h2m36 0h2m2 0h2m22 0h2m-124 2h2m16 0h2m20 0h2m10 0h2m2 0h2m2 0h2m62 0h2m-94 2h2m6 0h2m22 0h2m10 0h2m10 0h2m-72 2h2m18 0h2m8 0h2m4 0h4m14 0h2m12 0h4m30 0h2m2 0h2m2 0h4m-130 2h2m16 0h4m8 0h2m6 0h2m24 0h2m32 0h2m-100 4h2m62 0h2m-46 4h2m10 0h2m-30 2h2m14 0h2m10 0h2m2 0h2m10 0h2m16 0h2m2 0h2m4 0h2m2 0h2m-80 2h2m4 0h4m2 0h2m2 0h2m8 0h2m2 0h2m2 0h2m4 0h6m6 0h2m18 0h2m10 0h2m4 0h2m8 0h2m-104 2h2m28 0h6m4 0h4m2 0h2m8 0h4m4 0h2m12 0h2m18 0h2m-102 2h2m20 0h4m6 0h2m24 0h4m20 0h2m8 0h2m-80 2h2m12 0h2m6 0h2m6 0h2m4 0h2m2 0h4m4 0h2m8 0h2m2 0h6m44 0h2m-108 2h2m20 0h2m18 0h2m12 0h2m2 0h2m18 0h2m26 0h2m-128 2h2m4 0h2m12 0h6m8 0h2m28 0h2m2 0h2m4 0h2m8 0h2m2 0h2m10 0h2m-96 2h2m16 0h2m10 0h2m16 0h2m18 0h2m48 0h2m-98 2h2m20 0h2m6 0h2m10 0h2m2 0h4m10 0h4m6 0h2m20 0h2m-114 2h2m6 0h2m4 0h2m32 0h2m6 0h2m28 0h6m-62 2h2m34 0h2m14 0h2m-82 2h2m6 0h4m2 0h2m14 0h4m12 0h2m28 0h6m-92 2h2m6 0h4m26 0h2m8 0h2m60 0h2m14 0h2m-34 2h2m-84 2h2m44 0h2m34 0h4m12 0h2m-66 2h2m56 0h2m8 0h2m2 0h4m2 0h4m-88 4h4m14 0h4m14 0h2m14 0h2m-26 2h2m54 0h2m-130 2h2m32 0h2m26 0h2m24 0h2m30 0h2m-74 2h2m4 0h2m2 0h2m12 0h2m20 0h2m2 0h2m-98 2h2m96 0h2m-98 2h2m34 0h2m14 0h4m38 0h2m-78 2h2m14 0h2m8 0h2m2 0h2m4 0h4m36 0h2m-66 2h2m34 0h2m-50 2h2m12 0h2m26 0h2m-62 2h2m18 0h4m16 0h2m4 0h4m34 0h2m12 0h4m-98 2h2m10 0h2m14 0h2m18 0h2m18 0h2m22 0h2m-96 2h2m24 0h2m2 0h2m-10 2h2m30 0h2m28 0h2m-90 2h4m10 0h2m4 0h2m18 0h2m2 0h2m2 0h2m4 0h2m10 0h2m20 0h2m2 0h2m4 0h2m2 0h2m-90 2h6m16 0h4m2 0h2m12 0h2m2 0h2m12 0h2m8 0h2m6 0h2m10 0h2m-106 2h4m2 0h2m2 0h2m12 0h2m4 0h6m26 0h2m8 0h6m8 0h2m8 0h2m6 0h2m-88 2h2m16 0h2m4 0h2m10 0h2m14 0h2m30 0h2m-102 2h4m4 0h2m4 0h4m2 0h2m4 0h2m2 0h2m10 0h2m6 0h2m22 0h2m-80 2h2m2 0h2m2 0h2m18 0h2m22 0h2m8 0h2m8 0h2m16 0h2m6 0h2m-100 2h2m12 0h2m6 0h4m4 0h2m14 0h2m18 0h2m2 0h2m16 0h2m16 0h2m-96 2h2m36 0h4m2 0h2m2 0h2m2 0h2m8 0h2m16 0h2m8 0h2m-98 2h2m32 0h2m20 0h2m38 0h2m-104 2h2m4 0h2m8 0h6m2 0h2m2 0h4m6 0h8m12 0h2m8 0h4m14 0h2m6 0h2m6 0h2m-102 2h4m6 0h2m2 0h2m10 0h2m16 0h2m2 0h2m26 0h6m18 0h2m-94 2h2m2 0h2m2 0h2m10 0h6m2 0h2m6 0h2m4 0h2m18 0h2m12 0h2m16 0h2m-96 2h2m2 0h2m2 0h4m20 0h2m2 0h2m4 0h2m4 0h2m2 0h2m6 0h2m6 0h2m10 0h4m2 0h4m6 0h2m-84 2h2m8 0h2m2 0h2m18 0h2m32 0h4m-78 4h2m2 0h2m12 0h2m2 0h2m6 0h2m6 0h2m16 0h2m18 0h2m2 0h2m-84 2h2m6 0h2m8 0h2m14 0h2m6 0h2m6 0h2m30 0h2m-100 4h2m6 0h2m16 0h2m28 0h2m30 0h2m12 0h2m-82 2h2m36 0h2m32 0h2m4 0h2m2 0h2m22 0h2m-108 2h2m32 0h2m4 0h2m6 0h2m6 0h2m42 0h2m2 0h6m-124 2h2m14 0h2m84 0h2m8 0h2m2 0h2m4 0h2m-84 2h2m2 0h2m22 0h4m10 0h2m34 0h2m-126 2h2m10 0h2m-6 2h8m2 0h2m16 0h2m6 0h2m6 0h2m26 0h2m8 0h2m10 0h2m-102 2h2m6 0h2m2 0h2m2 0h4m10 0h4m2 0h2m14 0h6m20 0h2m2 0h2m8 0h2m-96 2h2m14 0h2m4 0h2m4 0h4m2 0h2m12 0h4m6 0h2m10 0h2m6 0h4m12 0h2m-96 2h4m8 0h2m2 0h2m6 0h2m4 0h2m6 0h2m10 0h2m4 0h4m4 0h2m2 0h2m6 0h6m8 0h2m6 0h2m-100 2h2m6 0h4m2 0h2m6 0h2m12 0h2m18 0h6m4 0h2m16 0h2m2 0h2m14 0h2m-108 2h2m10 0h2m4 0h2m2 0h4m2 0h2m6 0h2m14 0h2m6 0h4m14 0h2m12 0h2m12 0h2m-98 2h2m8 0h2m10 0h2m16 0h10m4 0h4m2 0h6m24 0h2m-92 2h2m10 0h2m4 0h2m2 0h2m10 0h2m30 0h2m28 0h2m-104 2h2m16 0h2m12 0h2m20 0h2m2 0h2m8 0h4m20 0h2m-76 2h2m10 0h2m2 0h2m54 0h2m16 0h2m8 0h12m-130 2h2m36 0h2m62 0h2m-88 2h2m-18 2h2m18 0h2m88 0h2m4 0h2m-120 2h2m22 0h2m12 0h2m4 0h2m2 0h2m2 0h4m2 0h2m2 0h2m2 0h2m20 0h2m6 0h2m6 0h2m-92 2h2m4 0h2m12 0h2m4 0h4m4 0h2m2 0h4m16 0h6m18 0h2m6 0h2m-86 2h2m28 0h2m38 0h2m14 0h2m2 0h2m10 0h10m-120 2h2m4 0h4m30 0h2m54 0h4m2 0h2m2 0h2m-92 2h8m2 0h2m8 0h4m22 0h2m54 0h2" stroke="#d4d5eb" stroke-width="2" fill="none"/><path d="M367 257h2m88 0h6m-10 2h6m2 0h2m-8 2h4m-120 2h2m114 0h4m2 0h2m-10 2h2m2 0h2m2 0h4m-8 2h8m-10 2h2m2 0h6m-40 2h2m28 0h6m-8 2h2m2 0h2m2 0h2m-114 2h2m10 0h2m2 0h2m38 0h2m18 0h2m26 0h4m6 0h2m-10 2h2m2 2h2m-126 6h2m4 0h2m4 0h2m2 0h2m50 0h2m20 0h2m32 0h6m-106 2h6m28 0h2m24 0h2m32 0h2m2 0h4m2 0h2m-96 2h2m56 0h2m26 0h2m2 0h4m-126 2h2m34 0h2m12 0h2m6 0h2m6 0h2m8 0h2m12 0h2m4 0h2m18 0h2m2 0h2m4 0h2m-134 2h4m12 0h2m4 0h4m2 0h2m4 0h2m6 0h2m2 0h2m4 0h2m4 0h2m4 0h4m4 0h4m54 0h2m-114 2h2m8 0h2m14 0h6m8 0h2m22 0h2m18 0h2m-98 2h2m10 0h2m8 0h2m4 0h2m12 0h4m8 0h2m18 0h2m10 0h2m30 0h4m4 0h2m-134 2h2m2 0h2m12 0h2m8 0h4m24 0h2m44 0h2m22 0h4m2 0h2m-130 2h2m8 0h2m6 0h2m10 0h2m2 0h2m12 0h2m4 0h2m2 0h2m2 0h2m32 0h2m24 0h4m-130 2h2m16 0h2m24 0h4m10 0h2m6 0h2m20 0h2m14 0h2m24 0h2m-128 2h2m22 0h2m18 0h2m6 0h2m14 0h4m18 0h2m2 0h2m4 0h2m22 0h2m2 0h2m-132 2h2m8 0h2m6 0h2m16 0h2m12 0h2m28 0h2m8 0h2m28 0h2m4 0h4m-128 2h2m6 0h6m2 0h2m2 0h2m18 0h2m4 0h2m10 0h4m20 0h2m2 0h2m2 0h2m-94 2h4m2 0h2m2 0h4m30 0h2m30 0h2m14 0h2m-92 2h2m8 0h2m8 0h2m6 0h2m22 0h6m4 0h2m2 0h2m2 0h2m14 0h2m4 0h2m2 0h2m2 0h2m18 0h2m-86 2h2m18 0h8m6 0h2m10 0h2m0 2h2m20 0h4m-106 2h2m24 0h2m42 0h2m16 0h2m10 0h6m2 0h2m-8 2h4m4 0h4m-86 2h2m10 0h2m16 0h2m28 0h2m10 0h2m2 0h4m-22 2h2m14 0h2m-72 2h2m6 0h2m2 0h2m12 0h2m8 0h2m6 0h2m10 0h2m10 0h2m4 0h4m-60 2h2m2 0h2m20 0h2m4 0h2m18 0h6m-8 2h4m4 0h4m-10 2h2m8 0h2m-14 2h4m2 0h2m4 0h2m-14 2h2m2 0h8m-82 2h2m48 0h2m16 0h2m2 0h2m8 0h2m-116 2h2m20 0h2m14 0h4m16 0h2m4 0h2m8 0h2m2 0h4m14 0h2m18 0h2m4 0h4m-130 2h4m8 0h2m2 0h2m10 0h2m6 0h2m6 0h2m2 0h2m38 0h4m4 0h2m22 0h2m4 0h2m-128 2h2m32 0h2m4 0h2m18 0h2m10 0h2m30 0h2m14 0h2m8 0h2m-134 2h2m4 0h2m14 0h2m4 0h2m28 0h2m12 0h2m6 0h2m42 0h2m2 0h2m-130 2h4m2 0h2m10 0h2m2 0h2m4 0h2m12 0h2m12 0h2m70 0h4m-126 2h2m20 0h2m22 0h2m2 0h2m28 0h2m40 0h2m2 0h2m-130 2h2m2 0h2m26 0h2m2 0h2m22 0h2m4 0h4m2 0h2m4 0h2m-82 2h2m16 0h4m4 0h2m18 0h4m40 0h2m36 0h2m-130 2h2m22 0h6m8 0h2m6 0h2m4 0h6m2 0h4m4 0h2m4 0h2m8 0h2m10 0h2m26 0h2m2 0h4m-114 2h2m8 0h2m16 0h2m28 0h2m16 0h2m24 0h2m4 0h2m2 0h2m-134 2h4m32 0h2m4 0h2m2 0h4m10 0h2m6 0h2m4 0h2m24 0h2m20 0h10m-130 2h2m16 0h2m8 0h2m26 0h2m4 0h2m22 0h2m10 0h2m20 0h10m-130 2h2m16 0h2m16 0h2m8 0h2m26 0h2m16 0h2m8 0h2m-84 2h4m2 0h2m6 0h2m56 0h2m26 0h4m2 0h2m2 0h2m-126 2h2m8 0h2m32 0h2m16 0h2m8 0h2m4 0h2m4 0h2m8 0h2m20 0h4m2 0h4m-130 2h2m2 0h2m2 0h4m2 0h2m4 0h2m36 0h2m2 0h2m2 0h2m8 0h2m4 0h2m36 0h2m2 0h2m-20 2h4m4 0h2m-116 2h2m36 0h4m56 0h2m4 2h4m-70 2h2m64 0h2m-8 2h2m-100 2h2m32 0h2m24 0h2m2 0h2m32 0h2m-34 2h2m30 0h4m-98 2h2m66 0h4m20 0h2m-98 2h2m12 0h6m12 0h2m12 0h6m12 0h2m4 0h2m22 0h4m-96 2h2m10 0h8m8 0h2m6 0h2m6 0h2m34 0h2m2 0h2m4 0h2m4 0h2m-96 2h2m10 0h2m20 0h2m24 0h2m34 0h2m-94 2h4m4 0h2m14 0h2m2 0h2m4 0h4m10 0h2m4 0h2m2 0h2m4 0h2m2 0h2m14 0h2m8 0h2m-104 2h2m16 0h2m10 0h4m4 0h4m22 0h2m-18 2h2m14 0h2m-46 2h2m78 0h4m-102 2h4m2 0h2m10 0h2m38 0h2m4 0h2m32 0h2m-102 2h2m30 0h2m32 0h2m-50 2h2m20 0h2m36 0h2m2 0h2m20 0h2m6 0h8m2 0h2m4 0h2m-122 2h2m36 0h2m24 0h2m32 0h2m4 0h2m6 0h2m2 0h2m-96 2h2m2 0h2m42 0h2m8 0h2m14 0h2m2 0h2m2 0h4m-90 2h2m34 0h2m42 0h6m10 0h2m4 0h2m-96 4h2m26 0h2m30 0h2m6 0h2m-104 2h2m40 0h2m10 0h2m16 0h2m2 0h4m-48 2h2m34 0h2m-74 2h2m2 0h2m4 0h4m10 0h2m10 0h2m4 0h2m6 0h2m12 0h2m-10 2h2m2 0h2m26 0h2m4 0h2m8 0h2m-100 2h2m16 0h2m4 0h2m10 0h2m2 0h2m12 0h2m20 0h2m2 0h2m8 0h2m-98 2h2m12 0h4m6 0h4m6 0h2m10 0h2m32 0h2m10 0h2m2 0h2m6 0h2m-100 2h4m6 0h2m10 0h2m8 0h2m4 0h2m20 0h4m2 0h2m14 0h2m6 0h2m2 0h2m4 0h2m-108 2h2m6 0h2m20 0h2m14 0h2m6 0h4m4 0h2m8 0h2m16 0h4m2 0h2m6 0h2m-94 2h2m2 0h2m4 0h2m6 0h2m6 0h4m16 0h2m20 0h2m4 0h2m10 0h4m4 0h2m-90 2h2m12 0h2m8 0h2m8 0h2m8 0h4m12 0h2m6 0h2m-86 2h4m12 0h4m6 0h4m24 0h2m4 0h4m6 0h2m2 0h2m8 0h2m6 0h2m6 0h2m-104 2h2m4 0h2m8 0h2m20 0h2m6 0h4m14 0h2m2 0h2m-60 2h2m6 0h2m4 0h2m2 0h2m6 0h2m2 0h2m10 0h2m6 0h4m10 0h2m6 0h2m2 0h2m18 0h2m-108 2h6m4 0h2m12 0h4m4 0h2m16 0h2m4 0h2m12 0h2m16 0h4m4 0h2m2 0h2m-74 2h4m6 0h2m2 0h2m2 0h4m12 0h2m4 0h2m16 0h2m14 0h2m-96 2h2m20 0h6m28 0h2m10 0h4m2 0h2m2 0h2m2 0h2m2 0h2m2 0h2m6 0h2m-108 2h2m12 0h2m6 0h2m2 0h2m4 0h2m14 0h4m6 0h2m2 0h2m4 0h2m16 0h4m6 0h2m-92 2h2m4 0h4m6 0h2m12 0h2m2 0h2m4 0h4m28 0h4m6 0h2m2 0h2m10 0h2m-104 2h2m2 0h2m18 0h2m4 0h2m26 0h2m6 0h2m6 0h4m10 0h2m2 0h2m-88 2h2m4 0h4m8 0h2m2 0h6m4 0h2m6 0h2m18 0h2m2 0h2m2 0h2m18 0h2m-76 2h2m4 0h2m14 0h2m4 0h2m22 0h2m10 0h2m10 0h2m6 0h2m-98 2h2m38 0h2m8 0h6m10 0h4m2 0h2m12 0h2m8 0h2m-108 2h2m8 0h2m12 0h2m4 0h2m10 0h2m10 0h4m4 0h2m4 0h2m6 0h2m12 0h6m4 0h2m4 0h2m-92 2h2m10 0h2m6 0h2m2 0h2m16 0h4m12 0h4m14 0h2m4 0h6m-82 2h2m14 0h2m36 0h2m24 0h2m-52 2h4m40 0h2m0 2h2m26 0h2m4 0h2m-80 2h2m-30 2h2m32 0h2m32 0h4m-60 4h2m2 0h2m8 0h2m20 0h2m6 0h2m6 0h4m18 0h2m6 0h2m-122 2h2m8 0h2m2 0h2m2 0h2m20 0h2m2 0h2m2 0h2m28 0h2m-70 2h2m22 0h2m6 0h2m4 0h2m2 0h2m6 0h2m26 0h2m12 0h2m2 0h2m-64 2h2m10 0h2m10 0h2m8 0h4m2 0h2m4 0h6m6 0h2m14 0h2m2 0h2m2 0h2m4 0h2m-124 2h2m12 0h2m8 0h2m4 0h2m16 0h6m36 0h4m-94 2h2m62 0h2m-54 2h2m8 0h2m10 0h2m2 0h4m24 0h4m26 0h2m-108 2h2m36 0h2m14 0h2m18 0h2m2 0h2m12 0h4m-80 2h2m16 0h2m20 0h2m8 0h2m20 0h2m16 0h2m-92 2h2m4 0h2m10 0h4m36 0h4m16 0h6m4 0h4m-104 2h2m14 0h4m16 0h4m6 0h2m22 0h4m6 0h2m10 0h2m-58 2h2m2 0h2m10 0h2m24 0h2m14 0h2m-66 2h4m4 0h4m46 0h2m10 0h2m-104 2h2m8 0h2m6 0h2m2 0h2m26 0h4m4 0h2m30 0h2m2 0h2m4 0h2m-104 2h4m4 0h4m26 0h2m36 0h2m22 0h2m4 0h2m-106 2h2m94 0h2m8 0h4m4 0h4m-118 2h2m72 0h4m16 0h2m12 0h2m10 0h4m-92 2h2m26 0h2m-62 2h2m72 0h2m20 0h2m8 0h6m2 0h4m6 0h2m2 0h4m-124 2h2m26 0h2m22 0h2m10 0h4m14 0h2m6 0h2m16 0h2m-116 2h2m14 0h2m10 0h2m6 0h2m20 0h2m20 0h2m40 0h2m-124 2h2m6 0h2m24 0h2m30 0h2m4 0h2m20 0h2m14 0h2m2 0h4m-26 2h2m16 0h2m2 0h2m4 0h4m2 0h4m-130 2h2m6 0h2m6 0h2m20 0h2m18 0h2m14 0h2m16 0h4m14 0h2m2 0h2m6 0h6" stroke="#eaeaf5" stroke-width="2" fill="none"/><path d="M335 257h4m4 0h2m14 0h2m2 0h2m4 0h2m16 0h2m2 0h4m12 0h2m16 0h2m-46 2h2m12 0h2m30 0h2m-94 2h2m26 0h2m32 0h2m-68 2h2m4 0h2m32 0h2m14 0h2m6 0h2m12 0h2m-52 2h2m6 2h2m-28 2h2m16 0h2m2 0h2m2 0h2m2 0h2m16 0h2m2 0h4m12 0h2m16 0h2m-60 2h2m-4 2h2m90 0h2m-128 2h4m16 0h4m2 0h2m12 0h2m14 0h4m4 0h2m8 0h2m4 0h2m14 0h2m2 0h4m-68 2h2m88 0h4m-10 2h2m-92 2h2m24 0h2m72 0h2m-104 2h6m2 0h2m22 0h2m58 0h2m4 0h6m-120 2h2m50 0h2m2 0h2m2 0h2m-66 2h2m12 0h2m28 0h2m8 0h2m8 0h2m8 0h2m6 0h2m36 0h2m-126 2h6m6 0h2m10 0h4m16 0h2m10 0h2m16 0h2m2 0h2m2 0h2m-86 2h2m34 0h2m10 0h2m30 0h2m14 0h2m2 0h2m-96 2h2m14 0h2m2 0h4m2 0h2m2 0h2m6 0h2m10 0h2m18 0h2m2 0h2m2 0h2m-70 2h2m28 0h2m8 0h2m2 0h2m2 0h2m8 0h4m10 0h4m8 0h2m-74 2h2m6 0h2m2 0h2m8 0h2m6 0h2m8 0h2m2 0h2m26 0h2m-96 2h4m2 0h2m14 0h2m4 0h2m8 0h2m12 0h2m16 0h2m10 0h8m-100 2h2m4 0h4m8 0h4m6 0h2m24 0h2m16 0h2m4 0h2m2 0h4m8 0h2m-94 2h2m6 0h2m4 0h2m4 0h4m36 0h2m10 0h2m4 0h4m10 0h2m-94 2h2m20 0h2m8 0h2m10 0h2m22 0h2m10 0h4m14 0h2m-102 2h2m14 0h2m4 0h2m18 0h2m6 0h2m22 0h2m2 0h2m16 0h2m-92 2h2m10 0h2m10 0h2m16 0h2m46 0h2m10 0h6m-104 2h2m8 0h2m14 0h2m22 0h2m12 0h4m6 0h2m2 0h2m14 0h2m-90 2h2m18 0h4m48 0h2m-72 2h2m14 0h2m8 0h2m6 0h4m52 0h2m10 0h2m-114 2h2m110 6h2m-8 2h2m4 0h2m-2 2h2m-2 2h2m-110 12h4m24 0h2m10 0h2m4 0h2m18 0h2m10 0h2m18 0h4m6 0h2m-110 2h2m8 0h4m8 0h2m40 0h4m4 0h4m8 0h2m4 0h4m20 0h2m-120 2h2m2 0h6m4 0h4m4 0h2m12 0h2m4 0h4m2 0h2m6 0h4m12 0h4m4 0h2m36 0h2m-112 2h2m6 0h2m52 0h2m8 0h2m2 0h4m2 0h2m-90 2h4m2 0h2m2 0h2m2 0h4m4 0h2m18 0h2m18 0h2m6 0h2m2 0h2m20 0h2m-108 2h4m4 0h2m8 0h2m12 0h2m12 0h2m2 0h2m26 0h2m4 0h2m4 0h4m2 0h2m28 0h2m-122 2h2m18 0h2m6 0h2m2 0h2m8 0h2m50 0h2m-86 2h4m18 0h2m20 0h4m12 0h2m16 0h2m4 0h4m-92 2h2m20 0h2m2 0h2m20 0h2m6 0h2m4 0h2m2 0h4m12 0h2m-78 2h2m24 0h2m6 0h2m28 0h2m2 0h2m6 0h2m-78 2h4m2 0h2m18 0h2m10 0h2m40 0h2m-94 2h2m34 0h2m4 0h8m18 0h2m-72 2h4m4 0h2m8 0h2m6 0h2m2 0h4m4 0h4m10 0h2m8 0h4m12 0h4m12 0h2m28 0h2m-126 2h4m6 0h2m10 0h2m10 0h2m4 0h4m12 0h2m4 0h2m12 0h4m2 0h2m12 0h2m-70 2h2m12 0h2m8 0h2m2 0h2m22 0h2m2 0h2m8 0h4m10 0h2m2 0h2m-86 2h2m4 0h2m36 0h2m14 0h4m20 2h2m2 0h2m-100 2h2m86 0h6m2 0h2m-2 2h2m-8 2h4m2 0h2m-12 2h4m6 0h4m-12 2h6m4 0h2m-14 2h2m10 0h2m-14 2h6m6 0h2m-114 2h2m46 0h2m24 0h2m18 0h2m6 0h2m8 0h2m-78 2h2m24 0h2m38 0h6m4 2h2m-90 2h2m8 0h2m58 0h2m10 0h2m-92 2h2m82 0h2m4 0h4m2 0h2m-100 2h2m84 0h2m2 0h8m-40 2h2m28 0h12m-118 2h2m108 0h2m4 0h2m-12 2h6m4 0h2m-120 2h2m24 0h2m2 0h2m12 0h2m16 0h2m24 0h6m-82 2h2m12 0h2m4 0h2m4 0h4m8 0h2m40 0h2m-90 2h2m12 0h4m8 0h2m8 0h4m4 0h2m8 0h2m10 0h10m2 0h2m2 0h2m38 0h2m-112 2h2m4 0h2m16 0h2m2 0h2m14 0h2m16 0h2m4 0h2m8 0h2m-88 2h2m20 0h4m2 0h2m60 0h2m14 0h2m4 0h10m-132 2h4m18 0h2m28 0h2m2 0h4m8 0h2m8 0h2m2 0h2m-74 2h4m6 0h2m4 0h2m2 0h2m30 0h4m20 0h2m8 0h2m4 0h2m-96 2h2m2 0h2m10 0h2m2 0h4m6 0h2m2 0h2m4 0h2m2 0h4m10 0h2m2 0h2m4 0h6m4 0h2m4 0h2m2 0h2m6 0h4m-102 2h2m20 0h2m4 0h2m2 0h2m4 0h2m20 0h2m6 0h2m6 0h2m18 0h2m2 0h2m-100 2h6m28 0h2m2 0h2m14 0h4m4 0h8m6 0h2m4 0h2m-76 2h4m14 0h2m2 0h2m8 0h2m4 0h2m6 0h4m2 0h6m2 0h2m10 0h2m4 0h2m-90 2h6m6 0h2m10 0h4m20 0h2m6 0h4m4 0h4m2 0h2m8 0h2m2 0h2m-92 2h2m12 0h2m6 0h2m22 0h4m2 0h2m4 0h2m16 0h2m14 0h4m6 0h2m-98 2h2m2 0h2m2 0h2m24 0h4m4 0h2m20 0h2m-58 2h2m12 0h2m2 0h2m20 0h4m2 0h2m12 0h2m2 0h2m2 0h2m6 0h4m-88 2h2m20 0h2m10 0h2m16 0h2m6 0h2m4 0h4m4 0h2m12 0h2m-86 2h6m6 0h4m26 0h4m4 0h2m12 0h2m4 0h2m16 0h4m4 0h2m-98 2h4m36 0h2m2 0h2m20 0h2m2 0h4m-54 2h2m34 2h2m-58 2h2m4 0h2m34 0h2m2 0h2m2 0h2m8 0h2m28 0h2m-96 2h2m10 0h2m2 0h2m16 0h4m6 0h2m-42 2h2m16 0h2m34 0h2m-56 2h2m18 0h2m2 0h2m8 0h2m8 0h4m36 0h2m4 0h2m-74 2h2m4 0h2m4 0h2m6 0h4m6 0h2m32 0h2m6 0h4m4 2h2m2 0h2m2 0h2m10 0h2m2 0h2m-12 2h4m4 0h2m-120 2h2m86 0h2m-96 2h2m14 0h2m14 0h2m8 0h2m34 0h2m12 0h2m22 0h12m-78 2h2m60 2h2m-12 4h2m2 0h2m8 0h2m4 0h2m-4 2h2m-20 2h4m4 0h4m6 0h2m2 0h4m-116 2h2m2 0h2m82 0h2m-86 2h2m12 0h2m6 0h2m12 0h2m34 0h2m20 0h2m6 0h2m2 0h6m-114 2h2m8 0h2m38 0h2m10 0h2m2 0h2m-86 2h2m2 0h2m12 0h2m2 0h2m6 0h2m10 0h2m26 0h2m8 0h2m2 0h2m2 0h2m4 0h2m6 0h2m-106 2h2m8 0h2m16 0h4m10 0h2m2 0h2m2 0h2m20 0h2m2 0h2m4 0h2m14 0h2m-94 2h2m6 0h4m8 0h2m18 0h2m2 0h2m2 0h4m14 0h2m12 0h2m4 0h2m4 0h2m-82 2h4m8 0h2m22 0h2m28 0h2m4 0h2m10 0h6m-106 2h2m54 0h2m-36 2h2m-22 2h2m72 0h2m-56 2h2m6 2h4m56 0h2m-80 2h2m54 0h2m2 0h4m22 0h2m-78 2h2m4 0h2m6 0h2m8 2h2m32 0h2m-28 2h2m56 2h2m-78 2h2m54 0h2m12 0h2m2 0h2m4 0h2m8 0h4m-24 2h2m2 0h2m2 0h4m2 0h2m2 0h2m-4 2h2m-68 2h2m64 0h4m4 0h2m-26 2h2m2 0h4m4 0h4m6 0h2m-4 4h2m-22 2h4" stroke="#fbe8ea" stroke-width="2" fill="none"/><path d="M351 257h2m2 0h2m8 0h2m6 0h2m4 0h2m16 0h2m2 0h2m12 0h2m4 0h2m8 0h2m-96 2h2m2 0h2m48 0h2m12 0h2m18 0h2m-68 2h4m8 0h2m30 0h2m2 0h2m16 0h2m-94 2h4m4 0h2m16 0h2m4 0h4m24 0h2m6 0h2m4 0h2m22 0h2m4 0h2m-102 2h4m24 0h6m18 0h4m32 0h4m-90 2h2m18 0h2m2 0h4m2 0h2m56 0h2m-80 2h2m6 0h2m2 0h2m2 0h2m24 0h2m4 0h2m-40 2h2m2 0h6m2 0h2m-2 2h2m14 0h2m38 0h2m-92 2h8m2 0h2m2 0h2m4 0h2m22 0h4m10 0h2m4 0h2m8 0h2m2 0h2m2 0h2m-82 2h2m22 0h2m6 0h2m22 0h2m-32 2h2m20 0h2m36 0h2m-56 2h2m86 0h2m-74 2h2m-52 2h2m14 0h2m8 0h2m22 0h2m2 0h4m4 0h2m22 0h2m2 0h2m-94 2h2m10 0h2m2 0h2m4 0h2m10 0h2m4 0h2m22 0h2m32 0h6m-106 2h2m12 0h2m4 0h2m18 0h2m2 0h4m8 0h2m26 0h2m2 0h6m8 0h4m4 0h2m4 0h2m-108 2h2m2 0h2m30 0h2m16 0h4m10 0h2m6 0h2m4 0h2m2 0h2m8 0h2m6 0h2m-68 2h2m26 0h2m10 0h2m10 0h2m4 0h4m2 0h4m2 0h2m-120 2h2m2 0h2m16 0h2m14 0h4m18 0h2m2 0h2m18 0h2m2 0h2m8 0h2m12 0h2m-102 2h2m10 0h2m8 0h2m14 0h2m14 0h2m4 0h2m2 0h2m4 0h2m4 0h2m-72 2h2m30 0h2m14 0h4m6 0h2m8 0h4m8 0h2m16 0h4m-92 2h2m4 0h2m8 0h2m56 0h2m2 0h6m4 0h4m-94 2h2m26 0h2m6 0h2m42 0h4m6 0h2m-108 2h2m6 0h2m16 0h2m12 0h2m24 0h4m28 0h4m2 0h2m-112 2h2m6 0h2m32 0h2m14 0h4m8 0h2m2 0h2m6 0h2m4 0h2m8 0h2m-80 2h2m46 0h2m42 0h2m-68 2h2m52 0h2m4 0h4m2 0h4m-14 2h2m0 2h10m-118 26h2m16 0h2m14 0h2m16 0h2m12 0h2m12 0h2m24 0h2m4 0h4m-64 2h2m14 0h2m10 0h2m-78 2h2m12 0h2m38 0h2m6 0h2m2 0h2m2 0h2m6 0h2m-68 2h2m12 0h2m10 0h2m-32 2h2m20 0h2m16 0h2m6 0h2m34 0h4m-68 2h4m6 0h2m2 0h2m8 0h2m16 0h2m16 0h2m4 0h2m-100 2h2m8 0h2m6 0h2m8 0h2m10 0h6m2 0h2m2 0h2m10 0h2m16 0h2m16 0h2m22 0h2m-120 2h2m4 0h2m10 0h2m8 0h2m2 0h2m2 0h4m4 0h2m10 0h2m6 0h2m10 0h2m20 0h2m-108 2h2m18 0h4m28 0h2m30 0h2m28 0h2m-106 2h4m14 0h2m8 0h2m2 0h2m12 0h2m10 0h2m4 0h2m24 0h2m2 0h2m-90 2h2m22 0h2m20 0h2m2 0h2m14 0h2m2 0h2m14 0h2m-104 2h2m6 0h2m6 0h2m16 0h2m10 0h2m18 0h2m8 0h2m4 0h2m8 0h4m24 0h2m-114 2h2m54 0h2m6 0h2m6 0h2m6 0h2m12 0h2m2 0h2m2 0h2m-104 2h2m2 0h2m20 0h2m4 0h2m22 0h2m2 0h2m22 0h2m14 0h2m2 0h2m-114 2h2m14 0h2m20 0h2m4 0h2m2 0h2m18 0h2m24 0h2m10 0h2m6 0h2m2 0h2m-104 2h2m12 0h2m4 0h2m4 0h2m8 0h2m10 0h2m36 0h2m14 0h2m0 8h2m-56 4h2m-64 2h2m16 2h2m92 0h2m-76 2h2m70 0h2m0 2h2m2 0h2m-14 4h2m10 4h2m-14 6h2m-94 2h6m16 0h4m8 0h2m6 0h2m2 0h2m4 0h2m2 0h2m6 0h2m6 0h2m12 0h2m-96 2h2m20 0h2m6 0h2m4 0h2m2 0h2m6 0h2m16 0h2m4 0h2m2 0h2m2 0h2m6 0h2m8 0h2m-96 2h2m40 0h2m12 0h2m20 0h2m10 0h2m2 0h2m-98 2h2m2 0h4m2 0h4m8 0h4m4 0h2m6 0h2m2 0h2m4 0h2m4 0h2m18 0h2m8 0h2m4 0h6m-102 2h2m10 0h2m8 0h2m12 0h2m20 0h2m44 0h8m2 0h4m10 0h2m-130 2h2m30 0h2m2 0h2m34 0h2m12 0h2m-74 2h2m4 0h2m18 0h2m24 0h2m26 0h2m-96 2h2m12 0h2m24 0h4m2 0h2m4 0h2m6 0h2m18 0h2m-72 2h8m40 0h2m16 0h2m10 0h2m6 0h2m-102 2h2m24 0h2m4 0h4m2 0h2m14 0h2m12 0h2m22 0h2m8 0h2m-90 2h2m16 0h2m10 0h2m32 0h4m-32 2h2m14 0h2m20 0h2m16 0h2m-82 2h2m22 0h2m8 0h2m36 0h2m-98 2h2m8 0h2m4 0h2m24 0h2m4 0h2m6 0h4m24 0h2m18 0h2m-106 2h2m4 0h2m10 0h2m14 0h2m8 0h2m18 0h2m8 0h2m6 0h2m8 0h2m-92 2h2m4 0h2m2 0h2m6 0h2m24 0h2m4 0h2m4 0h2m28 0h2m4 0h2m4 0h2m-66 2h2m4 0h2m12 0h2m18 0h2m12 0h2m-92 2h2m10 0h2m20 0h2m2 0h2m2 0h2m28 0h2m8 0h2m2 0h2m2 0h2m-16 2h2m18 0h2m4 2h2m-100 2h2m74 0h2m-70 2h2m8 0h2m36 0h2m20 0h2m6 0h2m-56 2h2m50 0h2m-76 2h2m14 0h2m16 0h2m54 0h2m-54 2h2m40 0h4m16 0h2m4 0h2m-14 2h2m2 0h2m2 0h6m2 0h2m2 0h2m-6 2h4m2 0h2m-20 2h2m14 0h4m-26 2h2m2 0h10m-26 2h2m10 0h2m2 0h2m8 0h2m-98 2h2m80 0h4m2 0h4m2 0h4m4 0h2m-8 2h12m-18 4h2m4 0h4m4 0h4m-22 2h2m10 0h2m-60 2h2m2 0h2m4 0h2m6 0h2m4 0h2m6 0h2m-98 2h2m6 0h4m6 0h2m8 0h4m14 0h4m34 0h2m8 0h2m2 0h2m-98 2h4m8 0h2m32 0h2m6 0h2m6 0h4m10 0h2m2 0h2m6 0h2m2 0h2m4 0h2m2 0h2m-100 2h2m2 0h2m4 0h2m-2 2h4m18 0h2m22 0h4m18 0h2m18 0h2m-106 2h2m4 0h2m20 0h2m10 0h4m24 0h2m2 0h2m12 0h2m6 0h2m8 0h2m-108 2h2m2 0h2m6 0h2m18 0h6m12 0h2m10 0h4m2 0h4m8 0h2m10 0h2m2 0h6m-4 2h2m-78 4h2m74 4h2m24 14h2m2 0h6m-16 6h2m4 0h2m-48 2h2" stroke="#f6d2d4" stroke-width="2" fill="none"/><path d="M333 257h2m6 0h2m10 0h2m16 0h2m8 0h4m20 0h2m4 0h2m6 0h2m6 0h4m2 0h2m-104 2h4m8 0h4m22 0h4m2 0h2m8 0h4m18 0h2m6 0h2m14 0h4m2 0h2m-106 2h2m6 0h2m8 0h2m2 0h2m8 0h2m2 0h2m18 0h2m4 0h2m12 0h2m18 0h2m-84 2h4m4 0h2m6 0h2m4 0h2m8 0h2m16 0h2m4 0h2m12 0h2m2 0h2m6 0h2m-68 2h2m44 0h2m10 0h2m10 0h2m-74 2h2m24 0h4m2 0h6m14 0h2m14 0h2m-76 2h2m12 0h2m8 0h2m2 0h2m16 0h2m4 0h2m10 0h2m2 0h2m-88 2h2m12 0h2m8 0h2m30 0h2m-58 2h2m2 0h2m8 0h2m6 0h2m2 0h2m4 0h2m6 0h2m10 0h6m12 0h2m4 0h4m-46 2h2m2 0h2m2 0h2m4 0h4m10 0h2m8 0h2m26 0h2m10 0h2m-108 2h2m16 0h2m2 0h4m22 0h4m12 0h2m16 0h4m-70 2h4m4 0h4m18 0h4m2 0h2m30 0h2m-60 2h2m20 0h2m34 0h2m-70 2h2m28 0h2m4 0h4m8 0h2m8 0h2m6 0h6m-100 2h2m22 0h2m20 0h4m4 0h2m20 0h2m12 0h2m12 0h2m-72 2h2m6 0h2m4 0h6m16 0h2m6 0h2m2 0h2m-84 2h2m18 0h2m6 0h2m34 0h2m8 0h4m4 0h2m26 0h2m-84 2h2m4 0h2m2 0h2m6 0h2m38 0h2m22 0h6m2 0h4m-118 2h2m6 0h2m42 0h2m28 0h2m24 0h2m4 0h2m-66 2h2m14 0h4m2 0h2m32 0h2m6 0h4m-120 2h2m6 0h4m2 0h2m28 0h2m18 0h2m42 0h4m4 0h2m-118 2h2m20 0h4m54 0h2m2 0h2m20 0h6m2 0h2m-92 2h2m4 0h2m36 0h2m14 0h2m18 0h2m6 0h4m-88 2h2m4 0h4m46 0h2m24 0h6m2 0h2m-112 2h2m14 0h2m12 0h2m34 0h2m8 0h2m14 0h2m4 0h2m4 0h2m2 0h4m-78 2h2m14 0h2m46 0h2m2 0h2m6 0h2m-8 2h2m4 0h2m-100 2h2m38 0h2m44 0h4m4 0h2m-6 2h4m2 0h4m-96 28h2m10 0h2m26 0h2m4 0h2m2 0h2m20 0h2m4 0h4m10 0h2m-112 2h4m8 0h2m20 0h2m-26 2h2m18 0h2m8 0h2m42 0h2m-60 2h2m4 0h2m10 0h4m30 0h2m8 0h2m4 0h2m-18 2h4m6 0h2m-82 2h2m2 0h2m8 0h2m40 0h2m-60 2h2m52 0h2m4 0h2m14 0h2m2 0h2m-90 2h2m24 0h2m22 0h2m22 0h2m8 0h2m-50 2h2m38 0h2m8 0h2m2 0h2m4 0h2m4 0h2m8 0h4m-46 2h2m2 0h2m20 0h2m2 0h12m2 0h2m-112 2h2m38 0h2m18 0h4m36 0h4m2 0h4m-96 2h2m6 0h2m44 0h2m18 0h2m12 0h2m2 0h2m-108 2h2m80 0h2m20 0h8m-106 2h2m14 0h2m16 0h4m24 0h2m8 0h2m12 0h2m6 0h2m2 0h8m-92 2h2m8 0h2m8 0h2m24 0h2m30 0h4m8 0h2m-116 2h2m76 0h2m14 0h2m6 0h10m2 0h2m-122 36h2m4 0h2m2 0h2m22 0h2m30 0h2m16 0h2m20 0h2m-108 2h4m6 0h2m8 0h2m2 0h4m18 0h2m6 0h2m8 0h2m4 0h2m6 0h2m2 0h2m2 0h2m2 0h2m-78 2h2m2 0h2m6 0h2m18 0h4m8 0h2m6 0h2m2 0h2m14 0h2m-88 2h2m6 0h2m18 0h2m6 0h2m16 0h2m4 0h2m6 0h2m2 0h2m16 0h4m-94 2h4m4 0h2m4 0h2m4 0h4m6 0h2m10 0h4m6 0h2m20 0h2m2 0h2m2 0h2m4 0h2m-84 2h2m24 0h2m38 0h2m18 0h2m8 0h2m-82 2h2m8 0h2m60 0h2m8 0h2m-104 2h2m2 0h2m8 0h2m42 0h2m6 0h2m4 0h2m6 0h2m16 0h2m-70 2h2m22 0h2m10 0h2m20 0h2m4 0h2m6 0h2m-86 2h6m14 0h2m2 0h2m20 0h2m18 0h2m-88 2h2m6 0h2m12 0h2m42 0h2m34 0h2m2 0h2m2 0h2m6 0h2m-118 2h2m104 0h2m10 0h2m2 0h2m-86 2h2m42 0h2m4 0h2m28 0h2m-98 2h2m6 0h2m32 0h2m12 0h2m6 0h2m4 0h2m30 0h2m2 0h2m-132 2h2m0 2h2m20 0h2m4 0h2m6 0h2m42 0h4m2 0h2m-82 2h2m24 0h2m4 0h2m46 0h2m-60 2h4m38 0h2m26 0h2m8 2h2m2 0h2m12 0h2m-76 4h2m64 0h2m4 0h4m-82 2h2m76 0h2m-48 2h2m34 0h2m6 0h2m2 0h6m-38 2h2m4 0h2m4 0h2m4 0h2m-108 2h4m96 0h8m2 0h4m2 0h8m-8 2h2m-18 2h2m6 0h6m-14 2h2m2 0h2m2 0h2m2 0h10m-86 2h2m64 0h2m-2 2h2m2 0h4m2 0h2m4 0h2m2 0h4m-22 2h2m10 0h4m2 0h2m-20 2h2m-2 4h4m2 0h4m6 0h2m-8 2h2m4 0h2m-110 2h2m2 0h2m2 0h4m2 0h2m4 0h4m2 0h2m8 0h4m18 0h2m8 0h2m2 0h2m6 0h2m-96 2h2m10 0h2m8 0h2m30 0h4m2 0h6m8 0h2m2 0h2m-84 2h2m4 0h2m28 0h2m6 0h2m4 0h2m2 0h2m4 0h4m8 0h4m10 0h4m-92 2h2m2 0h2m8 0h2m10 0h2m26 0h2m12 0h2m10 0h2m10 0h2m4 0h2m4 2h2m-106 2h2m16 0h2m-14 2h2m30 0h2m8 0h2m6 0h2m24 0h2m4 0h2m-70 6h2" stroke="#f2bbbf" stroke-width="2" fill="none"/><path d="M339 257h2m20 0h2m14 0h2m6 0h2m12 0h2m2 0h2m12 0h2m4 0h2m10 0h2m6 0h2m4 0h2m-116 2h2m2 0h2m8 0h4m20 0h2m2 0h2m22 0h4m4 0h6m4 0h2m8 0h2m18 0h4m-122 2h2m4 0h4m2 0h2m2 0h4m26 0h4m10 0h4m16 0h2m2 0h2m6 0h2m-80 2h2m4 0h2m4 0h2m2 0h2m10 0h2m6 0h4m4 0h2m8 0h2m4 0h2m6 0h4m6 0h2m8 0h4m4 0h2m2 0h4m-114 2h2m24 0h2m8 0h2m22 0h2m2 0h2m28 0h2m14 0h2m-112 2h4m2 0h2m8 0h2m48 0h2m20 0h2m16 0h8m2 0h2m-122 2h2m2 0h6m2 0h4m6 0h2m26 0h2m20 0h4m4 0h2m4 0h2m12 0h2m2 0h2m-56 2h2m2 0h4m6 0h4m4 0h2m2 0h2m4 0h2m8 0h2m2 0h2m8 0h6m2 0h2m2 0h4m-122 2h2m6 0h2m2 0h2m8 0h2m6 0h2m16 0h2m14 0h2m4 0h2m8 0h2m10 0h4m2 0h2m6 0h2m12 0h2m-122 2h2m90 0h2m6 0h2m10 0h4m-114 2h4m52 0h2m6 0h4m30 0h2m18 0h2m-82 2h2m26 0h2m20 0h2m-62 2h2m2 0h2m20 0h2m6 0h2m18 0h2m-46 2h2m-4 2h2m46 0h4m18 0h2m8 0h4m-120 2h2m2 0h2m4 0h2m32 0h2m42 0h2m6 0h2m8 0h4m6 0h2m-108 2h4m28 0h2m8 0h4m2 0h2m40 0h2m4 0h2m4 0h2m4 0h2m-114 2h2m48 0h2m-22 2h2m-40 2h2m106 0h2m2 0h2m2 0h2m-114 2h2m32 0h2m68 0h2m4 0h4m-110 2h2m62 0h2m30 0h2m8 0h2m-114 2h2m64 0h2m20 0h2m6 0h2m-28 2h2m10 0h2m-64 2h2m34 0h2m30 0h2m-84 2h2m8 0h2m6 0h2m8 0h2m72 0h2m2 0h6m-4 2h2m-8 4h2m4 0h2m-98 2h2m-22 26h2m54 2h2m42 2h2m6 0h2m-108 2h2m8 0h2m12 0h2m32 0h2m38 0h2m-64 2h2m28 0h2m50 0h2m-112 4h2m66 0h2m6 0h2m16 0h4m12 0h2m-80 2h2m10 0h2m-38 2h2m90 0h4m2 0h2m-94 2h2m14 0h2m76 0h2m-114 2h2m86 0h2m18 0h2m4 0h2m-14 2h4m2 0h2m2 0h2m-58 2h2m44 0h2m2 0h2m-84 2h2m42 0h2m8 0h2m-62 2h2m32 0h2m18 2h2m-36 30h2m-22 6h2m28 0h4m12 0h2m-54 2h2m40 0h2m10 0h2m18 0h2m-92 2h4m30 0h2m18 0h2m-56 2h6m30 0h2m16 0h2m16 0h2m2 0h2m2 0h2m-60 2h2m2 0h2m6 0h2m10 0h4m16 0h2m6 0h2m2 0h2m4 0h2m14 0h2m-86 2h2m4 0h2m2 0h4m56 0h2m-82 2h2m74 0h2m20 0h2m-82 2h2m66 0h2m-36 2h2m14 0h2m-74 2h2m72 0h2m26 0h2m-82 2h2m24 0h2m46 0h2m12 0h4m2 0h6m2 0h4m-64 2h2m12 0h2m26 0h4m2 0h4m2 0h2m2 0h4m2 0h2m-104 2h2m48 0h4m42 0h4m-102 2h2m80 0h4m2 0h4m4 0h2m2 0h2m2 0h2m-66 2h2m-70 2h2m96 0h2m12 0h2m4 0h2m-120 2h2m24 0h2m86 0h2m4 0h2m2 0h2m6 0h2m-100 2h2m16 0h2m40 0h2m22 0h4m4 0h4m2 0h2m-22 2h2m2 0h4m2 0h2m2 0h2m2 0h2m-80 2h2m60 0h2m4 0h2m6 0h2m-22 2h10m4 0h4m4 0h4m-16 2h2m2 0h4m2 0h6m-98 2h2m70 0h8m2 0h4m4 0h2m-16 2h2m10 0h6m2 2h2m-24 4h6m-6 2h2m6 0h2m-2 4h2m4 0h2m2 0h2m2 2h2m-20 2h4m2 0h2m-14 4h4m-102 4h2m4 0h2m8 0h2m4 0h2m4 0h2m4 0h2m2 0h2m4 0h2m12 0h2m4 0h2m10 0h2m8 0h2m-94 2h2m48 0h2m-2 2h2m-20 2h2m26 0h2m34 0h2m-100 2h2m10 0h2m6 0h2m2 0h2m26 0h2m-52 2h2m60 2h2" stroke="#eea4aa" stroke-width="2" fill="none"/><path d="M331 257h2m14 0h4m24 0h2m32 0h2m2 0h2m22 0h6m4 0h2m2 0h2m-100 2h8m22 0h2m12 0h4m16 0h2m16 0h2m2 0h10m-104 2h2m6 0h2m2 0h2m24 0h4m12 0h4m2 0h2m10 0h2m12 0h6m2 0h2m10 0h2m-110 2h2m30 0h2m34 0h2m6 0h2m18 0h2m2 0h2m4 0h2m-110 2h4m6 0h2m2 0h2m16 0h2m18 0h2m2 0h2m32 0h2m10 0h2m2 0h6m-122 2h4m46 0h2m8 0h2m12 0h2m12 0h2m10 0h2m6 0h2m8 0h2m-118 2h2m12 0h2m24 0h2m38 0h4m4 0h2m6 0h2m6 0h6m4 0h6m-120 2h4m2 0h2m12 0h2m20 0h4m12 0h2m6 0h2m18 0h4m6 0h6m8 0h2m-112 2h4m8 0h2m2 0h2m6 0h2m6 0h2m32 0h2m4 0h2m2 0h2m6 0h2m16 0h2m2 0h6m2 0h2m-46 2h2m16 0h2m16 0h4m4 0h2m2 0h2m-116 2h2m44 0h2m26 0h2m10 0h2m12 0h6m2 0h2m2 0h2m-72 2h2m12 0h2m2 0h2m6 0h2m-68 2h2m10 0h2m6 0h2m6 0h2m24 0h2m26 0h2m2 0h2m2 0h2m-98 2h2m6 0h4m22 0h2m22 0h2m6 0h2m10 0h2m6 0h4m14 0h2m-82 2h2m50 0h2m26 0h2m8 0h2m-118 2h2m20 0h2m12 0h2m42 0h2m4 0h2m24 0h6m-94 2h2m44 0h2m6 0h2m20 0h2m14 0h2m-26 2h2m-26 2h2m12 0h2m-54 4h2m88 0h2m-108 2h2m60 2h2m28 6h2m-108 38h2m38 0h2m68 0h2m2 0h2m2 0h4m-8 2h4m-10 2h4m6 0h2m-56 2h2m48 0h2m4 0h2m-64 4h2m48 0h4m6 0h2m-92 6h2m78 0h2m-50 2h2m-12 2h2m38 0h2m-82 2h2m52 2h2m8 38h2m24 0h2m-98 2h2m10 0h2m40 0h2m8 0h2m32 0h4m-18 4h2m-78 2h2m4 0h2m36 0h4m24 0h2m4 0h4m10 0h4m-74 2h2m12 0h2m20 0h2m2 0h2m28 0h2m-92 2h2m52 0h2m48 4h2m6 0h2m2 0h4m-24 2h2m2 0h2m4 0h2m2 0h2m4 0h2m-24 2h2m16 0h2m-14 2h2m14 0h2m-112 2h2m32 0h2m54 0h4m2 0h2m6 0h2m6 0h2m-52 2h2m24 0h2m4 0h2m4 0h4m-12 2h2m8 0h2m2 0h4m-20 2h2m2 0h4m2 0h8m2 0h4m-64 2h2m36 0h6m2 0h4m2 0h2m2 0h6m-76 2h2m50 0h4m4 0h2m4 0h4m4 0h2m-8 2h2m6 0h2m-26 2h4m6 0h2m2 0h2m2 0h2m2 0h2m-14 2h2m-12 2h10m2 0h2m0 2h2m-14 2h2m4 0h8m6 0h4m-26 16h4m6 0h2m-120 8h2m10 0h2m36 0h4m8 0h4m28 0h2m6 0h2m4 0h2m10 0h2m6 0h2m-56 6h2m-28 2h2m-38 2h2m50 0h2m-58 2h2m84 0h2" stroke="#e98e94" stroke-width="2" fill="none"/><path d="M345 257h2m98 0h2m-26 2h2m-50 2h4m4 0h2m30 0h2m6 0h2m14 0h2m2 0h10m-74 2h2m6 0h2m64 0h2m-122 2h4m22 0h2m16 0h4m4 0h2m2 0h2m18 0h2m4 0h2m4 0h2m2 0h2m12 0h4m-86 2h4m12 0h2m2 0h2m6 0h2m18 0h2m2 0h2m8 0h2m2 0h2m-72 2h2m22 0h2m8 0h2m46 0h2m10 0h2m-100 2h2m6 0h4m20 0h2m2 0h2m4 0h2m20 0h2m2 0h2m30 0h2m-102 2h2m32 0h4m34 0h4m8 0h2m12 0h2m2 0h2m-110 4h2m2 0h2m2 0h4m2 0h2m20 0h2m8 0h2m16 0h2m2 0h2m2 0h2m6 0h2m6 0h2m12 0h2m2 0h2m-118 2h2m2 0h4m12 0h4m2 0h2m4 0h2m42 0h2m4 0h2m8 0h2m4 0h2m20 0h2m-118 2h4m2 0h2m12 0h4m38 0h4m-70 2h2m2 0h6m4 0h2m2 0h2m28 0h6m28 0h4m18 0h2m2 0h2m10 0h2m-40 2h2m26 0h6m-20 2h2m22 0h2m-70 2h2m12 0h2m4 0h2m24 0h2m-2 14h2m10 40h4m4 0h2m-8 2h2m2 0h2m-8 2h4m4 0h4m-10 2h6m-10 2h6m2 0h4m-10 2h10m-8 2h4m4 0h2m-56 54h2m-60 2h2m54 0h2m-54 2h2m56 0h2m-8 2h4m4 0h2m34 8h8m4 0h6m2 0h2m-22 2h2m2 0h2m2 0h2m4 0h2m2 0h2m-16 2h2m18 0h2m-26 4h2m4 0h2m2 0h2m2 0h2m6 0h2m-84 4h2m58 0h2m4 0h4m2 0h2m2 0h2m4 0h4m-26 2h2m18 0h2m-72 4h2m52 0h4m-8 2h2m2 2h2m2 0h2m14 0h2m-132 32h6m52 0h2m10 0h2m8 0h2m20 0h2m6 0h2m8 0h2m2 0h2m4 0h2" stroke="#e5777f" stroke-width="2" fill="none"/><path d="M357 257h2m20 2h2m42 0h2m-6 2h2m-76 4h6m2 0h2m50 0h2m4 0h2m2 0h2m24 0h2m-94 2h2m22 0h2m2 0h4m18 0h2m8 0h2m4 0h2m16 0h4m6 2h2m-114 2h2m8 0h6m26 0h2m30 0h2m2 0h2m6 0h2m16 0h2m-82 2h2m28 0h2m16 0h2m28 0h2m-88 4h2m4 0h2m20 0h2m8 0h2m16 0h2m10 0h6m14 0h2m-98 2h2m36 0h2m2 0h2m18 0h2m6 0h4m2 0h2m2 0h2m14 0h2m8 0h6m-108 2h2m4 0h2m2 0h2m46 0h2m4 0h2m8 0h4m2 0h2m8 0h6m2 0h2m2 0h8m-106 2h2m2 0h4m18 0h2m10 0h2m16 0h4m2 0h2m12 0h2m24 0h2m-18 2h2m-78 4h2m80 54h2m4 0h4m2 0h2m-14 4h2m-28 4h2m24 2h2m-78 56h2m20 6h2m4 0h2m8 0h2m44 8h2m0 2h2m8 0h2m2 0h2m-24 10h2m6 0h2m0 8h2m2 2h2m-118 32h2m4 0h2m94 0h2m2 0h6m4 0h2m4 0h2m-52 10h2" stroke="#e06169" stroke-width="2" fill="none"/><path d="M347 259h2m30 6h4m2 0h2m14 0h4m12 0h2m16 0h2m-94 2h6m4 0h2m30 0h2m24 0h2m24 0h2m-62 2h2m-30 2h2m50 0h2m-30 2h4m-46 4h2m24 0h2m14 0h2m4 0h4m18 0h2m30 0h2m-102 2h2m6 0h10m4 0h2m16 0h4m6 0h4m16 0h2m12 0h2m12 0h4m2 0h8m-114 2h4m10 0h4m24 0h14m16 0h4m2 0h6m16 0h2m6 0h2m2 0h2m-90 2h4m16 0h4m22 0h2m28 0h4m6 0h8m-2 72h2m-112 60h2m72 62h2" stroke="#dc4a54" stroke-width="2" fill="none"/></g>
<rect x="331.00" y="251.00" width="109.00" height="3.60" fill="#6ab04c"/>
<rect x="440.00" y="251.00" width="13.00" height="3.60" fill="#7d95c9"/>
<rect x="453.00" y="251.00" width="12.00" height="3.60" fill="#d46a6a"/>
<rect x="467.30" y="258.50" width="4.00" height="7.30" fill="#d46a6a"/>
<text x="473.80" y="264.70" font-size="7.9" text-anchor="start" fill="#161616" stroke="#161616">Matures</text>
<rect x="467.30" y="271.90" width="4.00" height="7.30" fill="#7d95c9"/>
<text x="473.80" y="278.10" font-size="7.9" text-anchor="start" fill="#161616" stroke="#161616">Progenitors</text>
<rect x="467.30" y="284.40" width="4.00" height="7.30" fill="#6ab04c"/>
<text x="473.80" y="290.60" font-size="7.9" text-anchor="start" fill="#161616" stroke="#161616">CN-AML</text>
<text x="242.00" y="230.00" font-size="10.8" text-anchor="start" fill="#000" stroke="#000" font-weight="bold">E</text>
<text x="263.90" y="301.70" font-size="8.4" text-anchor="middle" fill="#161616" stroke="#161616" textLength="47.00" lengthAdjust="spacingAndGlyphs" transform="rotate(-90 263.90 301.70)">Myelopoiesis</text>
<text x="273.60" y="301.00" font-size="8.4" text-anchor="middle" fill="#161616" stroke="#161616" textLength="28.40" lengthAdjust="spacingAndGlyphs" transform="rotate(-90 273.60 301.00)">Specific</text>
<text x="263.40" y="364.75" font-size="8.4" text-anchor="middle" fill="#161616" stroke="#161616" textLength="33.20" lengthAdjust="spacingAndGlyphs" transform="rotate(-90 263.40 364.75)">Common</text>
<text x="272.60" y="364.75" font-size="8.4" text-anchor="middle" fill="#161616" stroke="#161616" textLength="32.50" lengthAdjust="spacingAndGlyphs" transform="rotate(-90 272.60 364.75)">Changes</text>
<text x="262.10" y="477.10" font-size="8.4" text-anchor="middle" fill="#161616" stroke="#161616" textLength="31.00" lengthAdjust="spacingAndGlyphs" transform="rotate(-90 262.10 477.10)">CN-AML</text>
<text x="271.60" y="477.00" font-size="8.4" text-anchor="middle" fill="#161616" stroke="#161616" textLength="28.40" lengthAdjust="spacingAndGlyphs" transform="rotate(-90 271.60 477.00)">Specific</text>
<defs><linearGradient id="kg" x1="0" x2="1" y1="0" y2="0"><stop offset="0" stop-color="#4040a0"/><stop offset="0.2" stop-color="#5c5cbc"/><stop offset="0.4" stop-color="#c8c8ea"/><stop offset="0.5" stop-color="#ffffff"/><stop offset="0.62" stop-color="#f4c8c8"/><stop offset="0.82" stop-color="#dc5a64"/><stop offset="1" stop-color="#b02838"/></linearGradient></defs>
<rect x="272.4" y="230.7" width="21.8" height="18.4" fill="url(#kg)" stroke="#101030" stroke-width="1.4"/>
<line x1="270.60" y1="249.50" x2="272.00" y2="249.50" stroke="#222" stroke-width="0.8"/>
<line x1="270.60" y1="246.50" x2="272.00" y2="246.50" stroke="#222" stroke-width="0.8"/>
<line x1="270.60" y1="243.40" x2="272.00" y2="243.40" stroke="#222" stroke-width="0.8"/>
<line x1="270.60" y1="240.40" x2="272.00" y2="240.40" stroke="#222" stroke-width="0.8"/>
<line x1="270.60" y1="237.40" x2="272.00" y2="237.40" stroke="#222" stroke-width="0.8"/>
<line x1="270.60" y1="234.40" x2="272.00" y2="234.40" stroke="#222" stroke-width="0.8"/>
<line x1="270.60" y1="231.40" x2="272.00" y2="231.40" stroke="#222" stroke-width="0.8"/>
<text x="269.90" y="233.00" font-size="4.2" text-anchor="end" fill="#555" stroke="#555">120</text>
<text x="269.90" y="238.80" font-size="4.2" text-anchor="end" fill="#555" stroke="#555">80</text>
<text x="269.90" y="244.80" font-size="4.2" text-anchor="end" fill="#555" stroke="#555">40</text>
<text x="269.90" y="251.00" font-size="4.2" text-anchor="end" fill="#555" stroke="#555">0</text>
<line x1="274.40" y1="249.90" x2="274.40" y2="251.40" stroke="#222" stroke-width="0.8"/>
<line x1="279.00" y1="249.90" x2="279.00" y2="251.40" stroke="#222" stroke-width="0.8"/>
<line x1="283.20" y1="249.90" x2="283.20" y2="251.40" stroke="#222" stroke-width="0.8"/>
<line x1="287.50" y1="249.90" x2="287.50" y2="251.40" stroke="#222" stroke-width="0.8"/>
<line x1="291.90" y1="249.90" x2="291.90" y2="251.40" stroke="#222" stroke-width="0.8"/>
<text x="274.40" y="255.90" font-size="4.2" text-anchor="middle" fill="#555" stroke="#555">−4</text>
<text x="283.20" y="255.90" font-size="4.2" text-anchor="middle" fill="#555" stroke="#555">0</text>
<text x="291.90" y="255.90" font-size="4.2" text-anchor="middle" fill="#555" stroke="#555">4</text>
<text x="260.20" y="240.20" font-size="5.8" text-anchor="middle" fill="#161616" stroke="#161616" textLength="15.10" lengthAdjust="spacingAndGlyphs" transform="rotate(-90 260.20 240.20)">Count</text>
<text x="283.40" y="261.40" font-size="6.0" text-anchor="middle" fill="#161616" stroke="#161616" textLength="20.80" lengthAdjust="spacingAndGlyphs">M Value</text>
</svg></body></html>
